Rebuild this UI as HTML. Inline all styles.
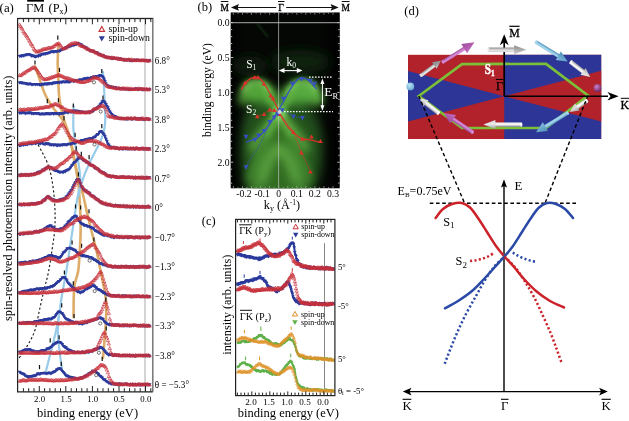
<!DOCTYPE html><html><head><meta charset="utf-8"><style>html,body{margin:0;padding:0;background:#fff;}svg{display:block;font-family:"Liberation Serif",serif;will-change:transform;}</style></head><body>
<svg width="629" height="421" viewBox="0 0 629 421">
<defs><marker id="mu" markerUnits="userSpaceOnUse" markerWidth="6" markerHeight="6" refX="3" refY="3" overflow="visible"><path d="M3,1.2 L4.7,4.1 L1.3,4.1 Z" fill="none" stroke="#c8303a" stroke-width="0.62"/></marker><marker id="md" markerUnits="userSpaceOnUse" markerWidth="6" markerHeight="6" refX="3" refY="3" overflow="visible"><path d="M1.2,2.0 L4.8,2.0 L3,5.1 Z" fill="#2b3a9c"/></marker><marker id="mo" markerUnits="userSpaceOnUse" markerWidth="6" markerHeight="6" refX="3" refY="3" overflow="visible"><path d="M3,1.6 L4.3,3.9 L1.7,3.9 Z" fill="none" stroke="#e0932a" stroke-width="0.55"/></marker><marker id="mg" markerUnits="userSpaceOnUse" markerWidth="6" markerHeight="6" refX="3" refY="3" overflow="visible"><path d="M1.7,2.0 L4.3,2.0 L3,4.3 Z" fill="#5fb04a"/></marker>
<filter id="blur2" filterUnits="userSpaceOnUse" x="0" y="0" width="629" height="421"><feGaussianBlur stdDeviation="2.5"/></filter>
<filter id="blur4" filterUnits="userSpaceOnUse" x="0" y="0" width="629" height="421"><feGaussianBlur stdDeviation="4"/></filter>
<filter id="blur6" filterUnits="userSpaceOnUse" x="0" y="0" width="629" height="421"><feGaussianBlur stdDeviation="6"/></filter>
<filter id="blur1" filterUnits="userSpaceOnUse" x="0" y="0" width="629" height="421"><feGaussianBlur stdDeviation="1"/></filter>
<clipPath id="clipb"><rect x="230.8" y="12.6" width="108.8" height="175.6"/></clipPath>
<clipPath id="clipd"><rect x="408" y="54.8" width="192.5" height="84.2"/></clipPath>
</defs>
<g id="pa">
<line x1="145" y1="19.5" x2="145" y2="390.8" stroke="#555" stroke-width="1" stroke-dasharray="1,1"/>
<path d="M58.4,44.0C58.3,45.8 58.0,51.5 57.9,55.0C57.8,58.5 57.6,60.8 57.7,65.0C57.8,69.2 58.1,75.0 58.3,80.0C58.5,85.0 58.6,90.8 59.0,95.0C59.4,99.2 59.9,101.8 60.5,105.0C61.1,108.2 61.9,111.3 62.5,114.0C63.1,116.7 63.3,117.8 64.3,121.0C65.3,124.2 67.1,128.9 68.3,133.2C69.5,137.4 70.6,142.1 71.6,146.5C72.6,150.9 73.3,155.6 74.1,159.8C74.9,164.1 75.8,167.8 76.5,172.0C77.2,176.2 78.0,181.2 78.5,185.0C79.0,188.8 79.0,190.2 79.3,195.0C79.6,199.8 80.2,207.7 80.4,214.0C80.6,220.3 80.7,226.7 80.6,233.0C80.5,239.3 80.1,245.7 79.7,252.0C79.3,258.3 79.0,265.8 78.2,271.0C77.4,276.2 75.7,279.0 75.0,283.0C74.3,287.0 74.0,289.3 73.8,295.0C73.6,300.7 73.6,313.3 73.6,317.0" fill="none" stroke="#dcac68" stroke-width="2.6" stroke-linecap="round"/>
<path d="M35.2,66.7C35.8,68.2 37.5,73.0 38.5,76.0C39.5,79.0 40.5,82.2 41.5,85.0C42.5,87.8 43.4,90.5 44.5,93.0C45.6,95.5 46.7,97.7 48.0,100.0C49.3,102.3 50.9,104.8 52.5,107.0C54.1,109.2 55.9,111.5 57.5,113.5C59.1,115.5 60.7,117.2 62.0,119.0C63.3,120.8 64.1,122.1 65.2,124.5C66.3,126.9 67.5,129.5 68.6,133.2C69.7,136.9 70.9,142.1 71.9,146.5C72.9,150.9 73.7,155.6 74.5,159.8C75.3,164.1 76.2,168.0 77.0,172.0C77.8,176.0 78.4,180.2 79.4,184.0C80.4,187.8 81.8,190.0 83.1,195.0C84.4,200.0 85.8,207.7 87.3,214.0C88.8,220.3 90.4,226.7 92.0,233.0C93.6,239.3 95.4,245.7 96.8,252.0C98.2,258.3 99.4,265.0 100.6,271.0C101.8,277.0 103.0,282.7 104.0,288.0C105.0,293.3 106.0,297.2 106.3,303.0C106.6,308.8 106.1,316.8 105.8,323.0C105.5,329.2 105.0,334.2 104.5,340.0C104.0,345.8 103.2,355.0 103.0,358.0" fill="none" stroke="#dcac68" stroke-width="2.6" stroke-linecap="round"/>
<path d="M103.0,72.0C103.2,74.7 103.7,83.2 104.0,88.0C104.3,92.8 104.4,96.0 104.6,101.0C104.8,106.0 105.3,113.5 105.3,118.0C105.3,122.5 105.2,124.3 104.5,128.0C103.8,131.7 102.6,136.0 101.0,140.0C99.4,144.0 97.0,148.0 95.0,152.0C93.0,156.0 90.8,160.0 89.0,164.0C87.2,168.0 85.4,172.2 84.0,176.0C82.6,179.8 81.4,183.7 80.5,187.0C79.6,190.3 78.8,194.5 78.5,196.0" fill="none" stroke="#98cbea" stroke-width="2.2" stroke-linecap="round"/>
<path d="M73.7,106.0C73.6,108.0 73.3,114.0 73.3,118.0C73.3,122.0 73.1,125.5 73.5,130.0C73.9,134.5 74.8,140.0 75.5,145.0C76.2,150.0 77.2,155.0 78.0,160.0C78.8,165.0 79.6,170.5 80.0,175.0C80.4,179.5 80.4,185.0 80.5,187.0" fill="none" stroke="#98cbea" stroke-width="2.2" stroke-linecap="round"/>
<path d="M79.5,188.0C79.2,189.7 78.2,193.7 77.4,198.0C76.6,202.3 75.8,208.2 74.9,214.0C74.0,219.8 73.0,226.7 72.1,233.0C71.1,239.3 70.2,245.7 69.2,252.0C68.2,258.3 67.6,263.8 66.4,271.0C65.2,278.2 63.2,287.7 62.0,295.0C60.8,302.3 60.1,308.7 59.0,315.0C57.9,321.3 57.1,326.2 55.6,332.7C54.1,339.2 51.9,347.6 50.3,354.0C48.7,360.4 46.7,368.2 46.0,371.0" fill="none" stroke="#98cbea" stroke-width="2.2" stroke-linecap="round"/>
<path d="M59.0,315.0C58.8,317.9 57.6,326.2 57.8,332.7C57.9,339.2 59.2,347.9 59.9,354.0C60.6,360.1 61.6,366.5 62.0,369.0" fill="none" stroke="#98cbea" stroke-width="2.2" stroke-linecap="round"/>
<path d="M36.0,141.0C37.0,142.8 40.2,148.5 42.0,152.0C43.8,155.5 45.5,158.2 47.0,162.0C48.5,165.8 49.8,169.5 51.0,175.0C52.2,180.5 53.3,188.3 54.0,195.0C54.7,201.7 55.0,208.8 55.1,215.0C55.2,221.2 55.0,226.2 54.5,232.0C54.0,237.8 53.0,243.3 52.0,250.0C51.0,256.7 49.8,265.3 48.5,272.0C47.2,278.7 45.5,283.7 44.0,290.0C42.5,296.3 41.0,303.3 39.5,310.0C38.0,316.7 36.8,324.5 35.0,330.0C33.2,335.5 31.0,339.3 29.0,343.0C27.0,346.7 24.8,349.2 23.0,352.0C21.2,354.8 19.1,358.2 18.3,359.5" fill="none" stroke="#111" stroke-width="1.1" stroke-dasharray="2.2,2.2"/>
<polyline points="19.5,56.0 20.4,55.7 21.4,56.1 22.3,55.3 23.3,55.7 24.2,55.3 25.2,54.7 26.1,54.9 27.1,54.2 28.0,54.5 29.0,54.2 29.9,54.5 30.9,55.1 31.8,55.9 32.8,55.4 33.7,55.8 34.7,56.3 35.6,56.7 36.6,56.1 37.6,55.7 38.5,56.1 39.5,54.8 40.4,55.4 41.4,54.4 42.3,54.0 43.3,53.8 44.2,53.7 45.2,54.0 46.1,53.1 47.1,53.2 48.0,53.1 49.0,52.5 49.9,52.5 50.9,51.7 51.8,51.5 52.8,51.4 53.7,51.8 54.7,51.3 55.6,51.1 56.6,51.3 57.5,51.0 58.5,50.7 59.4,51.0 60.4,50.5 61.3,49.5 62.3,49.4 63.2,48.8 64.2,48.7 65.1,48.1 66.1,47.1 67.0,47.5 68.0,46.2 68.9,46.3 69.9,46.4 70.8,45.5 71.8,45.6 72.7,44.7 73.7,45.1 74.6,44.7 75.6,44.1 76.5,44.2 77.5,43.3 78.4,43.7 79.4,43.8 80.3,44.2 81.3,44.6 82.2,45.7 83.2,46.5 84.1,46.5 85.1,47.3 86.0,47.2 87.0,48.5 87.9,49.0 88.9,49.9 89.8,50.3 90.8,50.1 91.7,50.7 92.7,51.4 93.6,51.1 94.6,51.9 95.5,52.0 96.5,52.3 97.4,52.7 98.4,53.9 99.3,53.7 100.3,54.4 101.2,55.0 102.2,56.0 103.1,55.4 104.1,56.2 105.0,56.5 106.0,57.1 106.9,57.3 107.9,57.5 108.8,57.1 109.8,57.4 110.7,57.5 111.7,58.3 112.6,58.5 113.6,57.8 114.5,57.9 115.5,58.1 116.4,58.3 117.4,58.7 118.3,58.9 119.3,58.7 120.2,58.5 121.2,59.1 122.1,59.2 123.1,59.5 124.0,60.0 125.0,59.8 125.9,59.7 126.9,59.9 127.8,60.0 128.8,59.4 129.7,60.4 130.7,60.3 131.6,60.5 132.6,60.5 133.5,60.1 134.5,60.1 135.4,59.8 136.4,60.4 137.3,59.8 138.3,59.9 139.2,60.0 140.2,60.0 141.1,60.2 142.1,59.9 143.0,59.9 144.0,60.1 144.9,60.0 145.9,60.4 146.8,60.0 147.8,61.0 148.7,60.7 149.7,60.2" fill="none" stroke="#2b3a9c" stroke-width="2.00" stroke-linejoin="round"/>
<polyline points="19.5,56.0 20.4,55.7 21.4,56.1 22.3,55.3 23.3,55.7 24.2,55.3 25.2,54.7 26.1,54.9 27.1,54.2 28.0,54.5 29.0,54.2 29.9,54.5 30.9,55.1 31.8,55.9 32.8,55.4 33.7,55.8 34.7,56.3 35.6,56.7 36.6,56.1 37.6,55.7 38.5,56.1 39.5,54.8 40.4,55.4 41.4,54.4 42.3,54.0 43.3,53.8 44.2,53.7 45.2,54.0 46.1,53.1 47.1,53.2 48.0,53.1 49.0,52.5 49.9,52.5 50.9,51.7 51.8,51.5 52.8,51.4 53.7,51.8 54.7,51.3 55.6,51.1 56.6,51.3 57.5,51.0 58.5,50.7 59.4,51.0 60.4,50.5 61.3,49.5 62.3,49.4 63.2,48.8 64.2,48.7 65.1,48.1 66.1,47.1 67.0,47.5 68.0,46.2 68.9,46.3 69.9,46.4 70.8,45.5 71.8,45.6 72.7,44.7 73.7,45.1 74.6,44.7 75.6,44.1 76.5,44.2 77.5,43.3 78.4,43.7 79.4,43.8 80.3,44.2 81.3,44.6 82.2,45.7 83.2,46.5 84.1,46.5 85.1,47.3 86.0,47.2 87.0,48.5 87.9,49.0 88.9,49.9 89.8,50.3 90.8,50.1 91.7,50.7 92.7,51.4 93.6,51.1 94.6,51.9 95.5,52.0 96.5,52.3 97.4,52.7 98.4,53.9 99.3,53.7 100.3,54.4 101.2,55.0 102.2,56.0 103.1,55.4 104.1,56.2 105.0,56.5 106.0,57.1 106.9,57.3 107.9,57.5 108.8,57.1 109.8,57.4 110.7,57.5 111.7,58.3 112.6,58.5 113.6,57.8 114.5,57.9 115.5,58.1 116.4,58.3 117.4,58.7 118.3,58.9 119.3,58.7 120.2,58.5 121.2,59.1 122.1,59.2 123.1,59.5 124.0,60.0 125.0,59.8 125.9,59.7 126.9,59.9 127.8,60.0 128.8,59.4 129.7,60.4 130.7,60.3 131.6,60.5 132.6,60.5 133.5,60.1 134.5,60.1 135.4,59.8 136.4,60.4 137.3,59.8 138.3,59.9 139.2,60.0 140.2,60.0 141.1,60.2 142.1,59.9 143.0,59.9 144.0,60.1 144.9,60.0 145.9,60.4 146.8,60.0 147.8,61.0 148.7,60.7 149.7,60.2" fill="none" marker-mid="url(#md)" marker-start="url(#md)" marker-end="url(#md)" stroke="none"/>
<polyline points="19.5,24.7 20.4,26.3 21.4,27.8 22.3,29.0 23.3,31.3 24.2,32.9 25.2,33.9 26.1,35.5 27.1,36.7 28.0,38.3 29.0,40.2 29.9,41.7 30.9,43.9 31.8,44.8 32.8,46.3 33.7,48.9 34.7,50.0 35.6,50.8 36.6,52.1 37.6,51.5 38.5,51.3 39.5,51.1 40.4,50.7 41.4,50.3 42.3,49.5 43.3,49.4 44.2,48.9 45.2,49.3 46.1,48.7 47.1,48.8 48.0,48.0 49.0,47.7 49.9,48.0 50.9,47.9 51.8,47.5 52.8,47.0 53.7,46.5 54.7,45.8 55.6,44.6 56.6,44.4 57.5,43.8 58.5,43.4 59.4,43.9 60.4,45.3 61.3,46.7 62.3,48.3 63.2,48.9 64.2,48.2 65.1,48.3 66.1,47.7 67.0,47.0 68.0,45.9 68.9,45.2 69.9,44.7 70.8,44.1 71.8,43.6 72.7,43.5 73.7,43.5 74.6,43.2 75.6,42.8 76.5,43.2 77.5,43.7 78.4,43.4 79.4,44.6 80.3,45.5 81.3,45.9 82.2,46.4 83.2,46.5 84.1,46.7 85.1,47.8 86.0,47.8 87.0,48.8 87.9,49.5 88.9,49.3 89.8,49.8 90.8,50.8 91.7,51.0 92.7,50.8 93.6,51.2 94.6,51.6 95.5,52.8 96.5,53.1 97.4,52.8 98.4,54.0 99.3,54.7 100.3,54.8 101.2,55.0 102.2,55.6 103.1,55.5 104.1,55.7 105.0,57.0 106.0,56.9 106.9,57.0 107.9,57.6 108.8,57.3 109.8,57.9 110.7,58.0 111.7,57.5 112.6,57.7 113.6,57.9 114.5,58.0 115.5,58.5 116.4,58.3 117.4,58.6 118.3,58.4 119.3,59.4 120.2,58.9 121.2,59.1 122.1,59.4 123.1,59.9 124.0,59.4 125.0,60.1 125.9,59.7 126.9,59.8 127.8,59.9 128.8,59.4 129.7,59.9 130.7,59.7 131.6,59.5 132.6,60.5 133.5,59.8 134.5,60.2 135.4,60.5 136.4,60.3 137.3,60.1 138.3,60.4 139.2,60.4 140.2,60.7 141.1,60.0 142.1,60.5 143.0,60.2 144.0,60.2 144.9,60.8 145.9,60.5 146.8,60.6 147.8,60.8 148.7,61.0 149.7,60.5" fill="none" stroke="#c8303a" stroke-width="1.00" stroke-opacity="0.25" stroke-linejoin="round"/>
<polyline points="19.5,24.7 20.4,26.3 21.4,27.8 22.3,29.0 23.3,31.3 24.2,32.9 25.2,33.9 26.1,35.5 27.1,36.7 28.0,38.3 29.0,40.2 29.9,41.7 30.9,43.9 31.8,44.8 32.8,46.3 33.7,48.9 34.7,50.0 35.6,50.8 36.6,52.1 37.6,51.5 38.5,51.3 39.5,51.1 40.4,50.7 41.4,50.3 42.3,49.5 43.3,49.4 44.2,48.9 45.2,49.3 46.1,48.7 47.1,48.8 48.0,48.0 49.0,47.7 49.9,48.0 50.9,47.9 51.8,47.5 52.8,47.0 53.7,46.5 54.7,45.8 55.6,44.6 56.6,44.4 57.5,43.8 58.5,43.4 59.4,43.9 60.4,45.3 61.3,46.7 62.3,48.3 63.2,48.9 64.2,48.2 65.1,48.3 66.1,47.7 67.0,47.0 68.0,45.9 68.9,45.2 69.9,44.7 70.8,44.1 71.8,43.6 72.7,43.5 73.7,43.5 74.6,43.2 75.6,42.8 76.5,43.2 77.5,43.7 78.4,43.4 79.4,44.6 80.3,45.5 81.3,45.9 82.2,46.4 83.2,46.5 84.1,46.7 85.1,47.8 86.0,47.8 87.0,48.8 87.9,49.5 88.9,49.3 89.8,49.8 90.8,50.8 91.7,51.0 92.7,50.8 93.6,51.2 94.6,51.6 95.5,52.8 96.5,53.1 97.4,52.8 98.4,54.0 99.3,54.7 100.3,54.8 101.2,55.0 102.2,55.6 103.1,55.5 104.1,55.7 105.0,57.0 106.0,56.9 106.9,57.0 107.9,57.6 108.8,57.3 109.8,57.9 110.7,58.0 111.7,57.5 112.6,57.7 113.6,57.9 114.5,58.0 115.5,58.5 116.4,58.3 117.4,58.6 118.3,58.4 119.3,59.4 120.2,58.9 121.2,59.1 122.1,59.4 123.1,59.9 124.0,59.4 125.0,60.1 125.9,59.7 126.9,59.8 127.8,59.9 128.8,59.4 129.7,59.9 130.7,59.7 131.6,59.5 132.6,60.5 133.5,59.8 134.5,60.2 135.4,60.5 136.4,60.3 137.3,60.1 138.3,60.4 139.2,60.4 140.2,60.7 141.1,60.0 142.1,60.5 143.0,60.2 144.0,60.2 144.9,60.8 145.9,60.5 146.8,60.6 147.8,60.8 148.7,61.0 149.7,60.5" fill="none" marker-mid="url(#mu)" marker-start="url(#mu)" marker-end="url(#mu)" stroke="none"/>
<polyline points="19.5,82.4 20.4,82.4 21.4,82.6 22.3,82.9 23.3,82.8 24.2,83.0 25.2,83.1 26.1,83.7 27.1,83.6 28.0,83.9 29.0,84.1 29.9,83.5 30.9,84.0 31.8,84.5 32.8,84.5 33.7,83.9 34.7,84.0 35.6,84.4 36.6,84.0 37.6,84.2 38.5,84.0 39.5,84.6 40.4,84.7 41.4,84.7 42.3,83.8 43.3,84.3 44.2,84.1 45.2,83.4 46.1,84.1 47.1,84.1 48.0,83.2 49.0,83.9 49.9,83.2 50.9,83.2 51.8,83.6 52.8,83.4 53.7,82.5 54.7,82.7 55.6,82.7 56.6,82.4 57.5,82.2 58.5,82.2 59.4,82.6 60.4,81.7 61.3,82.2 62.3,82.0 63.2,81.4 64.2,81.7 65.1,81.9 66.1,81.7 67.0,81.1 68.0,82.0 68.9,81.7 69.9,81.8 70.8,80.8 71.8,80.9 72.7,80.5 73.7,81.3 74.6,80.6 75.6,80.3 76.5,80.5 77.5,80.9 78.4,80.7 79.4,79.8 80.3,79.5 81.3,80.1 82.2,79.5 83.2,79.4 84.1,78.5 85.1,78.3 86.0,78.8 87.0,78.4 87.9,77.8 88.9,78.6 89.8,78.1 90.8,78.1 91.7,77.1 92.7,77.7 93.6,76.6 94.6,77.2 95.5,76.6 96.5,76.2 97.4,76.2 98.4,76.3 99.3,75.4 100.3,75.1 101.2,75.8 102.2,76.0 103.1,77.0 104.1,78.7 105.0,81.2 106.0,83.6 106.9,84.9 107.9,85.5 108.8,86.4 109.8,86.2 110.7,86.8 111.7,86.7 112.6,87.1 113.6,87.0 114.5,87.4 115.5,87.3 116.4,88.2 117.4,88.2 118.3,87.9 119.3,88.4 120.2,89.0 121.2,88.1 122.1,89.0 123.1,88.6 124.0,88.7 125.0,89.2 125.9,88.7 126.9,88.9 127.8,89.1 128.8,89.5 129.7,88.8 130.7,89.4 131.6,89.2 132.6,89.2 133.5,89.0 134.5,88.9 135.4,88.6 136.4,88.7 137.3,88.7 138.3,89.4 139.2,88.9 140.2,88.8 141.1,88.8 142.1,89.6 143.0,89.7 144.0,89.5 144.9,89.1 145.9,89.0 146.8,89.1 147.8,89.3 148.7,89.0 149.7,89.3" fill="none" stroke="#2b3a9c" stroke-width="2.00" stroke-linejoin="round"/>
<polyline points="19.5,82.4 20.4,82.4 21.4,82.6 22.3,82.9 23.3,82.8 24.2,83.0 25.2,83.1 26.1,83.7 27.1,83.6 28.0,83.9 29.0,84.1 29.9,83.5 30.9,84.0 31.8,84.5 32.8,84.5 33.7,83.9 34.7,84.0 35.6,84.4 36.6,84.0 37.6,84.2 38.5,84.0 39.5,84.6 40.4,84.7 41.4,84.7 42.3,83.8 43.3,84.3 44.2,84.1 45.2,83.4 46.1,84.1 47.1,84.1 48.0,83.2 49.0,83.9 49.9,83.2 50.9,83.2 51.8,83.6 52.8,83.4 53.7,82.5 54.7,82.7 55.6,82.7 56.6,82.4 57.5,82.2 58.5,82.2 59.4,82.6 60.4,81.7 61.3,82.2 62.3,82.0 63.2,81.4 64.2,81.7 65.1,81.9 66.1,81.7 67.0,81.1 68.0,82.0 68.9,81.7 69.9,81.8 70.8,80.8 71.8,80.9 72.7,80.5 73.7,81.3 74.6,80.6 75.6,80.3 76.5,80.5 77.5,80.9 78.4,80.7 79.4,79.8 80.3,79.5 81.3,80.1 82.2,79.5 83.2,79.4 84.1,78.5 85.1,78.3 86.0,78.8 87.0,78.4 87.9,77.8 88.9,78.6 89.8,78.1 90.8,78.1 91.7,77.1 92.7,77.7 93.6,76.6 94.6,77.2 95.5,76.6 96.5,76.2 97.4,76.2 98.4,76.3 99.3,75.4 100.3,75.1 101.2,75.8 102.2,76.0 103.1,77.0 104.1,78.7 105.0,81.2 106.0,83.6 106.9,84.9 107.9,85.5 108.8,86.4 109.8,86.2 110.7,86.8 111.7,86.7 112.6,87.1 113.6,87.0 114.5,87.4 115.5,87.3 116.4,88.2 117.4,88.2 118.3,87.9 119.3,88.4 120.2,89.0 121.2,88.1 122.1,89.0 123.1,88.6 124.0,88.7 125.0,89.2 125.9,88.7 126.9,88.9 127.8,89.1 128.8,89.5 129.7,88.8 130.7,89.4 131.6,89.2 132.6,89.2 133.5,89.0 134.5,88.9 135.4,88.6 136.4,88.7 137.3,88.7 138.3,89.4 139.2,88.9 140.2,88.8 141.1,88.8 142.1,89.6 143.0,89.7 144.0,89.5 144.9,89.1 145.9,89.0 146.8,89.1 147.8,89.3 148.7,89.0 149.7,89.3" fill="none" marker-mid="url(#md)" marker-start="url(#md)" marker-end="url(#md)" stroke="none"/>
<polyline points="19.5,75.3 20.4,75.6 21.4,75.1 22.3,74.1 23.3,73.2 24.2,73.5 25.2,72.2 26.1,71.8 27.1,70.8 28.0,70.6 29.0,70.1 29.9,69.5 30.9,68.6 31.8,68.4 32.8,67.5 33.7,67.5 34.7,67.5 35.6,68.5 36.6,69.5 37.6,70.9 38.5,72.4 39.5,73.6 40.4,75.3 41.4,76.6 42.3,77.9 43.3,78.7 44.2,79.3 45.2,79.6 46.1,79.0 47.1,78.8 48.0,79.2 49.0,78.0 49.9,78.3 50.9,77.9 51.8,76.9 52.8,77.3 53.7,76.9 54.7,76.3 55.6,76.1 56.6,75.9 57.5,74.9 58.5,75.1 59.4,75.1 60.4,75.7 61.3,76.0 62.3,76.5 63.2,76.7 64.2,77.5 65.1,77.7 66.1,78.2 67.0,78.1 68.0,78.2 68.9,78.6 69.9,79.2 70.8,79.1 71.8,80.2 72.7,80.1 73.7,80.4 74.6,80.6 75.6,80.9 76.5,80.9 77.5,80.6 78.4,81.7 79.4,81.9 80.3,81.9 81.3,82.1 82.2,82.4 83.2,81.8 84.1,82.5 85.1,81.8 86.0,81.4 87.0,81.2 87.9,81.3 88.9,80.2 89.8,80.4 90.8,80.1 91.7,78.9 92.7,78.1 93.6,77.6 94.6,77.6 95.5,77.8 96.5,77.9 97.4,78.3 98.4,78.3 99.3,79.0 100.3,79.7 101.2,80.9 102.2,81.1 103.1,82.3 104.1,82.7 105.0,83.8 106.0,84.9 106.9,86.1 107.9,86.6 108.8,87.0 109.8,86.9 110.7,87.4 111.7,87.5 112.6,87.7 113.6,87.4 114.5,88.4 115.5,87.7 116.4,88.7 117.4,88.7 118.3,87.7 119.3,88.3 120.2,88.7 121.2,89.0 122.1,88.5 123.1,88.3 124.0,88.3 125.0,89.2 125.9,88.4 126.9,88.8 127.8,88.4 128.8,88.8 129.7,89.4 130.7,88.5 131.6,89.3 132.6,89.0 133.5,89.4 134.5,89.2 135.4,88.7 136.4,89.5 137.3,89.1 138.3,88.6 139.2,88.6 140.2,89.1 141.1,89.1 142.1,89.0 143.0,88.8 144.0,89.1 144.9,89.1 145.9,89.7 146.8,88.8 147.8,89.6 148.7,89.7 149.7,89.0" fill="none" stroke="#c8303a" stroke-width="1.00" stroke-opacity="0.25" stroke-linejoin="round"/>
<polyline points="19.5,75.3 20.4,75.6 21.4,75.1 22.3,74.1 23.3,73.2 24.2,73.5 25.2,72.2 26.1,71.8 27.1,70.8 28.0,70.6 29.0,70.1 29.9,69.5 30.9,68.6 31.8,68.4 32.8,67.5 33.7,67.5 34.7,67.5 35.6,68.5 36.6,69.5 37.6,70.9 38.5,72.4 39.5,73.6 40.4,75.3 41.4,76.6 42.3,77.9 43.3,78.7 44.2,79.3 45.2,79.6 46.1,79.0 47.1,78.8 48.0,79.2 49.0,78.0 49.9,78.3 50.9,77.9 51.8,76.9 52.8,77.3 53.7,76.9 54.7,76.3 55.6,76.1 56.6,75.9 57.5,74.9 58.5,75.1 59.4,75.1 60.4,75.7 61.3,76.0 62.3,76.5 63.2,76.7 64.2,77.5 65.1,77.7 66.1,78.2 67.0,78.1 68.0,78.2 68.9,78.6 69.9,79.2 70.8,79.1 71.8,80.2 72.7,80.1 73.7,80.4 74.6,80.6 75.6,80.9 76.5,80.9 77.5,80.6 78.4,81.7 79.4,81.9 80.3,81.9 81.3,82.1 82.2,82.4 83.2,81.8 84.1,82.5 85.1,81.8 86.0,81.4 87.0,81.2 87.9,81.3 88.9,80.2 89.8,80.4 90.8,80.1 91.7,78.9 92.7,78.1 93.6,77.6 94.6,77.6 95.5,77.8 96.5,77.9 97.4,78.3 98.4,78.3 99.3,79.0 100.3,79.7 101.2,80.9 102.2,81.1 103.1,82.3 104.1,82.7 105.0,83.8 106.0,84.9 106.9,86.1 107.9,86.6 108.8,87.0 109.8,86.9 110.7,87.4 111.7,87.5 112.6,87.7 113.6,87.4 114.5,88.4 115.5,87.7 116.4,88.7 117.4,88.7 118.3,87.7 119.3,88.3 120.2,88.7 121.2,89.0 122.1,88.5 123.1,88.3 124.0,88.3 125.0,89.2 125.9,88.4 126.9,88.8 127.8,88.4 128.8,88.8 129.7,89.4 130.7,88.5 131.6,89.3 132.6,89.0 133.5,89.4 134.5,89.2 135.4,88.7 136.4,89.5 137.3,89.1 138.3,88.6 139.2,88.6 140.2,89.1 141.1,89.1 142.1,89.0 143.0,88.8 144.0,89.1 144.9,89.1 145.9,89.7 146.8,88.8 147.8,89.6 148.7,89.7 149.7,89.0" fill="none" marker-mid="url(#mu)" marker-start="url(#mu)" marker-end="url(#mu)" stroke="none"/>
<polyline points="19.5,112.8 20.4,112.6 21.4,112.9 22.3,112.3 23.3,112.4 24.2,112.5 25.2,113.3 26.1,112.9 27.1,112.7 28.0,112.8 29.0,112.7 29.9,112.6 30.9,112.7 31.8,113.5 32.8,113.0 33.7,113.7 34.7,113.0 35.6,113.1 36.6,113.4 37.6,113.1 38.5,113.3 39.5,114.0 40.4,113.9 41.4,113.8 42.3,113.6 43.3,114.0 44.2,114.0 45.2,113.6 46.1,113.8 47.1,113.0 48.0,113.8 49.0,113.5 49.9,113.8 50.9,113.7 51.8,113.3 52.8,113.0 53.7,114.0 54.7,113.1 55.6,113.5 56.6,113.3 57.5,113.2 58.5,113.7 59.4,113.9 60.4,113.1 61.3,113.5 62.3,113.0 63.2,113.2 64.2,112.8 65.1,112.3 66.1,112.1 67.0,112.0 68.0,112.6 68.9,111.9 69.9,111.4 70.8,111.9 71.8,111.9 72.7,111.2 73.7,110.8 74.6,110.8 75.6,110.7 76.5,111.1 77.5,110.8 78.4,111.1 79.4,111.2 80.3,111.6 81.3,112.0 82.2,112.0 83.2,111.8 84.1,111.9 85.1,112.1 86.0,112.1 87.0,112.1 87.9,111.8 88.9,112.0 89.8,112.6 90.8,111.3 91.7,111.2 92.7,110.8 93.6,110.6 94.6,109.4 95.5,108.9 96.5,108.3 97.4,107.7 98.4,106.6 99.3,105.8 100.3,104.3 101.2,103.2 102.2,101.4 103.1,100.8 104.1,101.4 105.0,102.6 106.0,103.9 106.9,105.9 107.9,107.3 108.8,109.4 109.8,111.4 110.7,112.7 111.7,114.0 112.6,115.3 113.6,115.7 114.5,116.1 115.5,116.5 116.4,117.2 117.4,117.7 118.3,118.2 119.3,118.1 120.2,118.2 121.2,118.5 122.1,118.2 123.1,118.4 124.0,117.9 125.0,118.8 125.9,118.3 126.9,119.1 127.8,118.8 128.8,118.4 129.7,118.3 130.7,118.4 131.6,118.9 132.6,119.0 133.5,118.4 134.5,118.3 135.4,118.8 136.4,118.9 137.3,118.7 138.3,118.6 139.2,119.0 140.2,118.3 141.1,118.7 142.1,118.9 143.0,119.4 144.0,119.1 144.9,119.4 145.9,118.9 146.8,118.7 147.8,118.7 148.7,119.5 149.7,119.2" fill="none" stroke="#2b3a9c" stroke-width="2.00" stroke-linejoin="round"/>
<polyline points="19.5,112.8 20.4,112.6 21.4,112.9 22.3,112.3 23.3,112.4 24.2,112.5 25.2,113.3 26.1,112.9 27.1,112.7 28.0,112.8 29.0,112.7 29.9,112.6 30.9,112.7 31.8,113.5 32.8,113.0 33.7,113.7 34.7,113.0 35.6,113.1 36.6,113.4 37.6,113.1 38.5,113.3 39.5,114.0 40.4,113.9 41.4,113.8 42.3,113.6 43.3,114.0 44.2,114.0 45.2,113.6 46.1,113.8 47.1,113.0 48.0,113.8 49.0,113.5 49.9,113.8 50.9,113.7 51.8,113.3 52.8,113.0 53.7,114.0 54.7,113.1 55.6,113.5 56.6,113.3 57.5,113.2 58.5,113.7 59.4,113.9 60.4,113.1 61.3,113.5 62.3,113.0 63.2,113.2 64.2,112.8 65.1,112.3 66.1,112.1 67.0,112.0 68.0,112.6 68.9,111.9 69.9,111.4 70.8,111.9 71.8,111.9 72.7,111.2 73.7,110.8 74.6,110.8 75.6,110.7 76.5,111.1 77.5,110.8 78.4,111.1 79.4,111.2 80.3,111.6 81.3,112.0 82.2,112.0 83.2,111.8 84.1,111.9 85.1,112.1 86.0,112.1 87.0,112.1 87.9,111.8 88.9,112.0 89.8,112.6 90.8,111.3 91.7,111.2 92.7,110.8 93.6,110.6 94.6,109.4 95.5,108.9 96.5,108.3 97.4,107.7 98.4,106.6 99.3,105.8 100.3,104.3 101.2,103.2 102.2,101.4 103.1,100.8 104.1,101.4 105.0,102.6 106.0,103.9 106.9,105.9 107.9,107.3 108.8,109.4 109.8,111.4 110.7,112.7 111.7,114.0 112.6,115.3 113.6,115.7 114.5,116.1 115.5,116.5 116.4,117.2 117.4,117.7 118.3,118.2 119.3,118.1 120.2,118.2 121.2,118.5 122.1,118.2 123.1,118.4 124.0,117.9 125.0,118.8 125.9,118.3 126.9,119.1 127.8,118.8 128.8,118.4 129.7,118.3 130.7,118.4 131.6,118.9 132.6,119.0 133.5,118.4 134.5,118.3 135.4,118.8 136.4,118.9 137.3,118.7 138.3,118.6 139.2,119.0 140.2,118.3 141.1,118.7 142.1,118.9 143.0,119.4 144.0,119.1 144.9,119.4 145.9,118.9 146.8,118.7 147.8,118.7 148.7,119.5 149.7,119.2" fill="none" marker-mid="url(#md)" marker-start="url(#md)" marker-end="url(#md)" stroke="none"/>
<polyline points="19.5,109.8 20.4,109.4 21.4,109.9 22.3,110.0 23.3,109.6 24.2,109.4 25.2,109.8 26.1,110.0 27.1,109.2 28.0,108.9 29.0,109.1 29.9,109.2 30.9,109.4 31.8,108.8 32.8,109.3 33.7,109.2 34.7,108.8 35.6,108.3 36.6,109.1 37.6,108.2 38.5,108.6 39.5,107.8 40.4,107.6 41.4,108.1 42.3,107.5 43.3,108.0 44.2,107.4 45.2,106.9 46.1,106.8 47.1,106.9 48.0,107.0 49.0,107.1 49.9,105.9 50.9,105.7 51.8,105.1 52.8,105.6 53.7,104.4 54.7,104.1 55.6,104.0 56.6,104.3 57.5,105.0 58.5,105.3 59.4,105.7 60.4,106.6 61.3,107.2 62.3,107.2 63.2,107.7 64.2,109.3 65.1,109.7 66.1,109.4 67.0,110.5 68.0,110.5 68.9,110.7 69.9,110.9 70.8,110.9 71.8,110.9 72.7,111.4 73.7,111.7 74.6,112.5 75.6,111.8 76.5,112.8 77.5,112.0 78.4,112.2 79.4,112.7 80.3,112.8 81.3,112.4 82.2,112.0 83.2,112.5 84.1,112.4 85.1,113.0 86.0,112.1 87.0,112.3 87.9,112.8 88.9,111.7 89.8,111.9 90.8,111.9 91.7,111.2 92.7,109.7 93.6,109.2 94.6,108.7 95.5,109.2 96.5,108.0 97.4,108.1 98.4,107.8 99.3,106.6 100.3,106.1 101.2,106.4 102.2,105.7 103.1,105.4 104.1,106.6 105.0,107.7 106.0,109.7 106.9,112.0 107.9,115.1 108.8,116.3 109.8,116.5 110.7,117.1 111.7,116.4 112.6,116.8 113.6,117.2 114.5,117.9 115.5,118.1 116.4,117.7 117.4,117.7 118.3,118.0 119.3,118.2 120.2,118.7 121.2,117.9 122.1,118.6 123.1,118.6 124.0,118.7 125.0,118.7 125.9,118.6 126.9,118.3 127.8,118.3 128.8,118.4 129.7,118.9 130.7,118.1 131.6,118.3 132.6,118.9 133.5,118.4 134.5,118.2 135.4,118.2 136.4,118.8 137.3,118.5 138.3,119.3 139.2,119.2 140.2,119.3 141.1,118.5 142.1,118.4 143.0,118.4 144.0,118.9 144.9,119.1 145.9,118.8 146.8,118.6 147.8,118.9 148.7,119.1 149.7,119.2" fill="none" stroke="#c8303a" stroke-width="1.00" stroke-opacity="0.25" stroke-linejoin="round"/>
<polyline points="19.5,109.8 20.4,109.4 21.4,109.9 22.3,110.0 23.3,109.6 24.2,109.4 25.2,109.8 26.1,110.0 27.1,109.2 28.0,108.9 29.0,109.1 29.9,109.2 30.9,109.4 31.8,108.8 32.8,109.3 33.7,109.2 34.7,108.8 35.6,108.3 36.6,109.1 37.6,108.2 38.5,108.6 39.5,107.8 40.4,107.6 41.4,108.1 42.3,107.5 43.3,108.0 44.2,107.4 45.2,106.9 46.1,106.8 47.1,106.9 48.0,107.0 49.0,107.1 49.9,105.9 50.9,105.7 51.8,105.1 52.8,105.6 53.7,104.4 54.7,104.1 55.6,104.0 56.6,104.3 57.5,105.0 58.5,105.3 59.4,105.7 60.4,106.6 61.3,107.2 62.3,107.2 63.2,107.7 64.2,109.3 65.1,109.7 66.1,109.4 67.0,110.5 68.0,110.5 68.9,110.7 69.9,110.9 70.8,110.9 71.8,110.9 72.7,111.4 73.7,111.7 74.6,112.5 75.6,111.8 76.5,112.8 77.5,112.0 78.4,112.2 79.4,112.7 80.3,112.8 81.3,112.4 82.2,112.0 83.2,112.5 84.1,112.4 85.1,113.0 86.0,112.1 87.0,112.3 87.9,112.8 88.9,111.7 89.8,111.9 90.8,111.9 91.7,111.2 92.7,109.7 93.6,109.2 94.6,108.7 95.5,109.2 96.5,108.0 97.4,108.1 98.4,107.8 99.3,106.6 100.3,106.1 101.2,106.4 102.2,105.7 103.1,105.4 104.1,106.6 105.0,107.7 106.0,109.7 106.9,112.0 107.9,115.1 108.8,116.3 109.8,116.5 110.7,117.1 111.7,116.4 112.6,116.8 113.6,117.2 114.5,117.9 115.5,118.1 116.4,117.7 117.4,117.7 118.3,118.0 119.3,118.2 120.2,118.7 121.2,117.9 122.1,118.6 123.1,118.6 124.0,118.7 125.0,118.7 125.9,118.6 126.9,118.3 127.8,118.3 128.8,118.4 129.7,118.9 130.7,118.1 131.6,118.3 132.6,118.9 133.5,118.4 134.5,118.2 135.4,118.2 136.4,118.8 137.3,118.5 138.3,119.3 139.2,119.2 140.2,119.3 141.1,118.5 142.1,118.4 143.0,118.4 144.0,118.9 144.9,119.1 145.9,118.8 146.8,118.6 147.8,118.9 148.7,119.1 149.7,119.2" fill="none" marker-mid="url(#mu)" marker-start="url(#mu)" marker-end="url(#mu)" stroke="none"/>
<polyline points="19.5,145.3 20.4,145.3 21.4,145.0 22.3,144.3 23.3,144.9 24.2,144.2 25.2,144.4 26.1,144.1 27.1,144.4 28.0,143.7 29.0,143.6 29.9,143.4 30.9,143.2 31.8,143.8 32.8,143.3 33.7,142.9 34.7,142.8 35.6,143.4 36.6,142.8 37.6,142.5 38.5,143.2 39.5,143.1 40.4,143.5 41.4,142.7 42.3,143.2 43.3,143.7 44.2,143.9 45.2,144.1 46.1,143.3 47.1,143.7 48.0,143.6 49.0,143.8 49.9,144.7 50.9,144.4 51.8,144.9 52.8,144.4 53.7,145.0 54.7,144.7 55.6,144.6 56.6,145.2 57.5,145.4 58.5,144.6 59.4,145.1 60.4,145.1 61.3,144.7 62.3,144.8 63.2,144.5 64.2,144.5 65.1,144.4 66.1,144.7 67.0,144.7 68.0,144.0 68.9,143.7 69.9,143.9 70.8,144.1 71.8,143.3 72.7,143.2 73.7,142.8 74.6,143.2 75.6,142.6 76.5,141.8 77.5,141.5 78.4,141.6 79.4,141.4 80.3,141.2 81.3,140.3 82.2,140.1 83.2,140.4 84.1,139.9 85.1,139.5 86.0,139.3 87.0,139.8 87.9,138.8 88.9,138.9 89.8,138.4 90.8,138.3 91.7,138.5 92.7,138.4 93.6,137.3 94.6,136.7 95.5,136.6 96.5,135.2 97.4,134.0 98.4,134.1 99.3,132.2 100.3,131.5 101.2,131.0 102.2,132.5 103.1,133.3 104.1,134.5 105.0,136.3 106.0,138.8 106.9,141.0 107.9,143.7 108.8,144.7 109.8,146.5 110.7,146.8 111.7,147.3 112.6,147.1 113.6,147.4 114.5,147.8 115.5,148.3 116.4,147.6 117.4,148.1 118.3,148.5 119.3,148.8 120.2,148.0 121.2,148.0 122.1,148.9 123.1,149.0 124.0,148.5 125.0,148.0 125.9,149.0 126.9,148.4 127.8,149.0 128.8,148.7 129.7,149.0 130.7,148.2 131.6,148.9 132.6,148.3 133.5,148.5 134.5,149.0 135.4,149.0 136.4,148.3 137.3,148.4 138.3,148.6 139.2,148.7 140.2,148.6 141.1,148.3 142.1,148.5 143.0,149.0 144.0,149.2 144.9,148.2 145.9,148.8 146.8,149.1 147.8,148.3 148.7,149.2 149.7,148.4" fill="none" stroke="#2b3a9c" stroke-width="2.00" stroke-linejoin="round"/>
<polyline points="19.5,145.3 20.4,145.3 21.4,145.0 22.3,144.3 23.3,144.9 24.2,144.2 25.2,144.4 26.1,144.1 27.1,144.4 28.0,143.7 29.0,143.6 29.9,143.4 30.9,143.2 31.8,143.8 32.8,143.3 33.7,142.9 34.7,142.8 35.6,143.4 36.6,142.8 37.6,142.5 38.5,143.2 39.5,143.1 40.4,143.5 41.4,142.7 42.3,143.2 43.3,143.7 44.2,143.9 45.2,144.1 46.1,143.3 47.1,143.7 48.0,143.6 49.0,143.8 49.9,144.7 50.9,144.4 51.8,144.9 52.8,144.4 53.7,145.0 54.7,144.7 55.6,144.6 56.6,145.2 57.5,145.4 58.5,144.6 59.4,145.1 60.4,145.1 61.3,144.7 62.3,144.8 63.2,144.5 64.2,144.5 65.1,144.4 66.1,144.7 67.0,144.7 68.0,144.0 68.9,143.7 69.9,143.9 70.8,144.1 71.8,143.3 72.7,143.2 73.7,142.8 74.6,143.2 75.6,142.6 76.5,141.8 77.5,141.5 78.4,141.6 79.4,141.4 80.3,141.2 81.3,140.3 82.2,140.1 83.2,140.4 84.1,139.9 85.1,139.5 86.0,139.3 87.0,139.8 87.9,138.8 88.9,138.9 89.8,138.4 90.8,138.3 91.7,138.5 92.7,138.4 93.6,137.3 94.6,136.7 95.5,136.6 96.5,135.2 97.4,134.0 98.4,134.1 99.3,132.2 100.3,131.5 101.2,131.0 102.2,132.5 103.1,133.3 104.1,134.5 105.0,136.3 106.0,138.8 106.9,141.0 107.9,143.7 108.8,144.7 109.8,146.5 110.7,146.8 111.7,147.3 112.6,147.1 113.6,147.4 114.5,147.8 115.5,148.3 116.4,147.6 117.4,148.1 118.3,148.5 119.3,148.8 120.2,148.0 121.2,148.0 122.1,148.9 123.1,149.0 124.0,148.5 125.0,148.0 125.9,149.0 126.9,148.4 127.8,149.0 128.8,148.7 129.7,149.0 130.7,148.2 131.6,148.9 132.6,148.3 133.5,148.5 134.5,149.0 135.4,149.0 136.4,148.3 137.3,148.4 138.3,148.6 139.2,148.7 140.2,148.6 141.1,148.3 142.1,148.5 143.0,149.0 144.0,149.2 144.9,148.2 145.9,148.8 146.8,149.1 147.8,148.3 148.7,149.2 149.7,148.4" fill="none" marker-mid="url(#md)" marker-start="url(#md)" marker-end="url(#md)" stroke="none"/>
<polyline points="19.5,144.0 20.4,143.8 21.4,143.8 22.3,143.3 23.3,143.3 24.2,143.4 25.2,143.1 26.1,143.3 27.1,142.9 28.0,142.8 29.0,142.2 29.9,142.7 30.9,142.5 31.8,142.1 32.8,142.6 33.7,142.5 34.7,142.0 35.6,141.6 36.6,141.8 37.6,141.2 38.5,141.1 39.5,141.2 40.4,140.6 41.4,140.7 42.3,140.5 43.3,139.7 44.2,140.1 45.2,139.2 46.1,139.7 47.1,139.4 48.0,138.7 49.0,137.5 49.9,137.3 50.9,136.5 51.8,136.3 52.8,134.6 53.7,134.6 54.7,133.8 55.6,132.5 56.6,131.3 57.5,129.1 58.5,128.3 59.4,126.4 60.4,125.6 61.3,124.5 62.3,123.6 63.2,125.2 64.2,126.7 65.1,128.1 66.1,130.2 67.0,132.1 68.0,133.0 68.9,135.2 69.9,135.9 70.8,137.7 71.8,138.1 72.7,139.3 73.7,140.5 74.6,140.3 75.6,140.8 76.5,141.4 77.5,141.6 78.4,141.5 79.4,142.0 80.3,142.2 81.3,143.2 82.2,143.0 83.2,143.2 84.1,142.1 85.1,142.2 86.0,141.1 87.0,141.3 87.9,141.1 88.9,140.6 89.8,141.0 90.8,140.7 91.7,140.7 92.7,141.2 93.6,140.4 94.6,141.6 95.5,141.3 96.5,141.3 97.4,142.0 98.4,141.8 99.3,143.0 100.3,143.1 101.2,143.4 102.2,144.3 103.1,144.5 104.1,144.8 105.0,146.0 106.0,145.9 106.9,147.2 107.9,146.9 108.8,147.5 109.8,148.1 110.7,147.8 111.7,148.0 112.6,147.7 113.6,147.5 114.5,147.6 115.5,147.7 116.4,148.3 117.4,148.1 118.3,148.3 119.3,148.7 120.2,147.9 121.2,148.0 122.1,148.5 123.1,147.9 124.0,147.9 125.0,148.3 125.9,148.0 126.9,148.3 127.8,148.2 128.8,148.6 129.7,148.6 130.7,148.2 131.6,148.7 132.6,148.5 133.5,148.2 134.5,149.1 135.4,148.3 136.4,148.2 137.3,148.2 138.3,148.8 139.2,149.1 140.2,149.0 141.1,148.6 142.1,148.4 143.0,148.2 144.0,148.9 144.9,148.8 145.9,148.6 146.8,148.9 147.8,148.7 148.7,149.3 149.7,149.1" fill="none" stroke="#c8303a" stroke-width="1.00" stroke-opacity="0.25" stroke-linejoin="round"/>
<polyline points="19.5,144.0 20.4,143.8 21.4,143.8 22.3,143.3 23.3,143.3 24.2,143.4 25.2,143.1 26.1,143.3 27.1,142.9 28.0,142.8 29.0,142.2 29.9,142.7 30.9,142.5 31.8,142.1 32.8,142.6 33.7,142.5 34.7,142.0 35.6,141.6 36.6,141.8 37.6,141.2 38.5,141.1 39.5,141.2 40.4,140.6 41.4,140.7 42.3,140.5 43.3,139.7 44.2,140.1 45.2,139.2 46.1,139.7 47.1,139.4 48.0,138.7 49.0,137.5 49.9,137.3 50.9,136.5 51.8,136.3 52.8,134.6 53.7,134.6 54.7,133.8 55.6,132.5 56.6,131.3 57.5,129.1 58.5,128.3 59.4,126.4 60.4,125.6 61.3,124.5 62.3,123.6 63.2,125.2 64.2,126.7 65.1,128.1 66.1,130.2 67.0,132.1 68.0,133.0 68.9,135.2 69.9,135.9 70.8,137.7 71.8,138.1 72.7,139.3 73.7,140.5 74.6,140.3 75.6,140.8 76.5,141.4 77.5,141.6 78.4,141.5 79.4,142.0 80.3,142.2 81.3,143.2 82.2,143.0 83.2,143.2 84.1,142.1 85.1,142.2 86.0,141.1 87.0,141.3 87.9,141.1 88.9,140.6 89.8,141.0 90.8,140.7 91.7,140.7 92.7,141.2 93.6,140.4 94.6,141.6 95.5,141.3 96.5,141.3 97.4,142.0 98.4,141.8 99.3,143.0 100.3,143.1 101.2,143.4 102.2,144.3 103.1,144.5 104.1,144.8 105.0,146.0 106.0,145.9 106.9,147.2 107.9,146.9 108.8,147.5 109.8,148.1 110.7,147.8 111.7,148.0 112.6,147.7 113.6,147.5 114.5,147.6 115.5,147.7 116.4,148.3 117.4,148.1 118.3,148.3 119.3,148.7 120.2,147.9 121.2,148.0 122.1,148.5 123.1,147.9 124.0,147.9 125.0,148.3 125.9,148.0 126.9,148.3 127.8,148.2 128.8,148.6 129.7,148.6 130.7,148.2 131.6,148.7 132.6,148.5 133.5,148.2 134.5,149.1 135.4,148.3 136.4,148.2 137.3,148.2 138.3,148.8 139.2,149.1 140.2,149.0 141.1,148.6 142.1,148.4 143.0,148.2 144.0,148.9 144.9,148.8 145.9,148.6 146.8,148.9 147.8,148.7 148.7,149.3 149.7,149.1" fill="none" marker-mid="url(#mu)" marker-start="url(#mu)" marker-end="url(#mu)" stroke="none"/>
<polyline points="19.5,174.8 20.4,175.5 21.4,174.6 22.3,175.1 23.3,174.9 24.2,174.7 25.2,174.5 26.1,175.3 27.1,174.4 28.0,175.0 29.0,175.4 29.9,174.4 30.9,174.4 31.8,174.8 32.8,174.5 33.7,174.5 34.7,174.4 35.6,173.3 36.6,173.1 37.6,172.6 38.5,171.8 39.5,172.2 40.4,171.6 41.4,171.0 42.3,169.7 43.3,170.1 44.2,169.4 45.2,168.6 46.1,168.4 47.1,167.6 48.0,167.1 49.0,166.8 49.9,167.1 50.9,167.2 51.8,168.1 52.8,169.1 53.7,169.6 54.7,170.2 55.6,170.5 56.6,170.4 57.5,171.2 58.5,171.4 59.4,172.1 60.4,171.9 61.3,171.7 62.3,172.0 63.2,172.2 64.2,171.1 65.1,171.6 66.1,170.3 67.0,170.2 68.0,169.6 68.9,169.3 69.9,168.5 70.8,167.1 71.8,165.3 72.7,164.8 73.7,163.1 74.6,162.0 75.6,161.7 76.5,160.5 77.5,159.5 78.4,158.2 79.4,157.8 80.3,157.5 81.3,158.5 82.2,159.1 83.2,160.0 84.1,160.2 85.1,161.2 86.0,161.6 87.0,162.0 87.9,162.5 88.9,163.6 89.8,163.7 90.8,165.2 91.7,165.0 92.7,165.5 93.6,166.2 94.6,167.8 95.5,167.8 96.5,168.2 97.4,168.7 98.4,169.3 99.3,170.6 100.3,171.1 101.2,171.7 102.2,172.2 103.1,171.9 104.1,172.9 105.0,173.4 106.0,174.7 106.9,175.3 107.9,175.8 108.8,175.2 109.8,176.3 110.7,176.6 111.7,176.8 112.6,176.0 113.6,176.2 114.5,176.2 115.5,176.2 116.4,177.2 117.4,177.2 118.3,177.1 119.3,177.3 120.2,177.2 121.2,176.8 122.1,176.7 123.1,176.7 124.0,177.5 125.0,176.9 125.9,177.0 126.9,177.2 127.8,176.8 128.8,177.0 129.7,177.1 130.7,177.6 131.6,177.2 132.6,177.2 133.5,177.9 134.5,177.5 135.4,177.9 136.4,177.6 137.3,177.0 138.3,177.4 139.2,177.5 140.2,177.9 141.1,177.4 142.1,177.9 143.0,177.7 144.0,177.4 144.9,178.1 145.9,177.3 146.8,178.1 147.8,177.4 148.7,177.2 149.7,177.5" fill="none" stroke="#2b3a9c" stroke-width="2.00" stroke-linejoin="round"/>
<polyline points="19.5,174.8 20.4,175.5 21.4,174.6 22.3,175.1 23.3,174.9 24.2,174.7 25.2,174.5 26.1,175.3 27.1,174.4 28.0,175.0 29.0,175.4 29.9,174.4 30.9,174.4 31.8,174.8 32.8,174.5 33.7,174.5 34.7,174.4 35.6,173.3 36.6,173.1 37.6,172.6 38.5,171.8 39.5,172.2 40.4,171.6 41.4,171.0 42.3,169.7 43.3,170.1 44.2,169.4 45.2,168.6 46.1,168.4 47.1,167.6 48.0,167.1 49.0,166.8 49.9,167.1 50.9,167.2 51.8,168.1 52.8,169.1 53.7,169.6 54.7,170.2 55.6,170.5 56.6,170.4 57.5,171.2 58.5,171.4 59.4,172.1 60.4,171.9 61.3,171.7 62.3,172.0 63.2,172.2 64.2,171.1 65.1,171.6 66.1,170.3 67.0,170.2 68.0,169.6 68.9,169.3 69.9,168.5 70.8,167.1 71.8,165.3 72.7,164.8 73.7,163.1 74.6,162.0 75.6,161.7 76.5,160.5 77.5,159.5 78.4,158.2 79.4,157.8 80.3,157.5 81.3,158.5 82.2,159.1 83.2,160.0 84.1,160.2 85.1,161.2 86.0,161.6 87.0,162.0 87.9,162.5 88.9,163.6 89.8,163.7 90.8,165.2 91.7,165.0 92.7,165.5 93.6,166.2 94.6,167.8 95.5,167.8 96.5,168.2 97.4,168.7 98.4,169.3 99.3,170.6 100.3,171.1 101.2,171.7 102.2,172.2 103.1,171.9 104.1,172.9 105.0,173.4 106.0,174.7 106.9,175.3 107.9,175.8 108.8,175.2 109.8,176.3 110.7,176.6 111.7,176.8 112.6,176.0 113.6,176.2 114.5,176.2 115.5,176.2 116.4,177.2 117.4,177.2 118.3,177.1 119.3,177.3 120.2,177.2 121.2,176.8 122.1,176.7 123.1,176.7 124.0,177.5 125.0,176.9 125.9,177.0 126.9,177.2 127.8,176.8 128.8,177.0 129.7,177.1 130.7,177.6 131.6,177.2 132.6,177.2 133.5,177.9 134.5,177.5 135.4,177.9 136.4,177.6 137.3,177.0 138.3,177.4 139.2,177.5 140.2,177.9 141.1,177.4 142.1,177.9 143.0,177.7 144.0,177.4 144.9,178.1 145.9,177.3 146.8,178.1 147.8,177.4 148.7,177.2 149.7,177.5" fill="none" marker-mid="url(#md)" marker-start="url(#md)" marker-end="url(#md)" stroke="none"/>
<polyline points="19.5,175.4 20.4,175.6 21.4,174.5 22.3,175.0 23.3,175.0 24.2,175.3 25.2,174.6 26.1,174.9 27.1,174.7 28.0,175.2 29.0,174.6 29.9,175.3 30.9,174.5 31.8,174.3 32.8,174.7 33.7,174.3 34.7,173.7 35.6,174.0 36.6,173.1 37.6,173.5 38.5,172.9 39.5,172.6 40.4,171.9 41.4,171.1 42.3,170.6 43.3,170.0 44.2,169.9 45.2,168.4 46.1,168.7 47.1,167.3 48.0,167.1 49.0,167.0 49.9,167.7 50.9,167.6 51.8,167.9 52.8,168.8 53.7,168.2 54.7,168.3 55.6,167.9 56.6,167.5 57.5,166.8 58.5,165.9 59.4,164.9 60.4,164.2 61.3,163.4 62.3,163.5 63.2,162.6 64.2,161.9 65.1,160.6 66.1,160.1 67.0,159.7 68.0,158.6 68.9,157.3 69.9,156.8 70.8,156.4 71.8,154.6 72.7,153.3 73.7,152.3 74.6,152.0 75.6,152.2 76.5,152.1 77.5,153.3 78.4,154.7 79.4,155.9 80.3,156.9 81.3,157.2 82.2,158.0 83.2,158.5 84.1,160.1 85.1,160.6 86.0,160.6 87.0,162.3 87.9,162.1 88.9,163.1 89.8,164.4 90.8,164.7 91.7,165.3 92.7,165.5 93.6,165.9 94.6,167.0 95.5,167.1 96.5,168.0 97.4,168.9 98.4,169.2 99.3,170.3 100.3,171.4 101.2,171.9 102.2,172.4 103.1,173.1 104.1,173.5 105.0,173.7 106.0,174.8 106.9,175.0 107.9,175.7 108.8,176.1 109.8,175.8 110.7,176.1 111.7,176.5 112.6,176.3 113.6,176.2 114.5,176.8 115.5,177.1 116.4,177.1 117.4,177.1 118.3,177.3 119.3,177.2 120.2,177.2 121.2,177.0 122.1,176.9 123.1,177.3 124.0,176.7 125.0,177.1 125.9,177.5 126.9,177.5 127.8,177.4 128.8,177.0 129.7,177.3 130.7,177.3 131.6,177.5 132.6,177.3 133.5,177.6 134.5,177.9 135.4,177.1 136.4,177.7 137.3,177.8 138.3,177.4 139.2,177.6 140.2,178.1 141.1,177.1 142.1,177.7 143.0,177.3 144.0,178.0 144.9,178.2 145.9,177.7 146.8,177.3 147.8,177.8 148.7,177.8 149.7,178.0" fill="none" stroke="#c8303a" stroke-width="1.00" stroke-opacity="0.25" stroke-linejoin="round"/>
<polyline points="19.5,175.4 20.4,175.6 21.4,174.5 22.3,175.0 23.3,175.0 24.2,175.3 25.2,174.6 26.1,174.9 27.1,174.7 28.0,175.2 29.0,174.6 29.9,175.3 30.9,174.5 31.8,174.3 32.8,174.7 33.7,174.3 34.7,173.7 35.6,174.0 36.6,173.1 37.6,173.5 38.5,172.9 39.5,172.6 40.4,171.9 41.4,171.1 42.3,170.6 43.3,170.0 44.2,169.9 45.2,168.4 46.1,168.7 47.1,167.3 48.0,167.1 49.0,167.0 49.9,167.7 50.9,167.6 51.8,167.9 52.8,168.8 53.7,168.2 54.7,168.3 55.6,167.9 56.6,167.5 57.5,166.8 58.5,165.9 59.4,164.9 60.4,164.2 61.3,163.4 62.3,163.5 63.2,162.6 64.2,161.9 65.1,160.6 66.1,160.1 67.0,159.7 68.0,158.6 68.9,157.3 69.9,156.8 70.8,156.4 71.8,154.6 72.7,153.3 73.7,152.3 74.6,152.0 75.6,152.2 76.5,152.1 77.5,153.3 78.4,154.7 79.4,155.9 80.3,156.9 81.3,157.2 82.2,158.0 83.2,158.5 84.1,160.1 85.1,160.6 86.0,160.6 87.0,162.3 87.9,162.1 88.9,163.1 89.8,164.4 90.8,164.7 91.7,165.3 92.7,165.5 93.6,165.9 94.6,167.0 95.5,167.1 96.5,168.0 97.4,168.9 98.4,169.2 99.3,170.3 100.3,171.4 101.2,171.9 102.2,172.4 103.1,173.1 104.1,173.5 105.0,173.7 106.0,174.8 106.9,175.0 107.9,175.7 108.8,176.1 109.8,175.8 110.7,176.1 111.7,176.5 112.6,176.3 113.6,176.2 114.5,176.8 115.5,177.1 116.4,177.1 117.4,177.1 118.3,177.3 119.3,177.2 120.2,177.2 121.2,177.0 122.1,176.9 123.1,177.3 124.0,176.7 125.0,177.1 125.9,177.5 126.9,177.5 127.8,177.4 128.8,177.0 129.7,177.3 130.7,177.3 131.6,177.5 132.6,177.3 133.5,177.6 134.5,177.9 135.4,177.1 136.4,177.7 137.3,177.8 138.3,177.4 139.2,177.6 140.2,178.1 141.1,177.1 142.1,177.7 143.0,177.3 144.0,178.0 144.9,178.2 145.9,177.7 146.8,177.3 147.8,177.8 148.7,177.8 149.7,178.0" fill="none" marker-mid="url(#mu)" marker-start="url(#mu)" marker-end="url(#mu)" stroke="none"/>
<polyline points="19.5,204.5 20.4,204.6 21.4,204.8 22.3,204.4 23.3,204.2 24.2,204.8 25.2,204.0 26.1,204.4 27.1,204.1 28.0,204.4 29.0,203.7 29.9,204.6 30.9,203.9 31.8,203.5 32.8,203.6 33.7,203.7 34.7,203.2 35.6,203.5 36.6,203.4 37.6,203.6 38.5,203.0 39.5,202.6 40.4,202.1 41.4,202.2 42.3,201.7 43.3,200.5 44.2,199.6 45.2,199.4 46.1,198.0 47.1,196.9 48.0,196.3 49.0,197.1 49.9,197.7 50.9,198.4 51.8,199.0 52.8,199.7 53.7,199.6 54.7,200.6 55.6,199.9 56.6,200.2 57.5,200.4 58.5,200.3 59.4,199.8 60.4,199.5 61.3,199.5 62.3,198.8 63.2,199.2 64.2,198.3 65.1,198.2 66.1,196.8 67.0,195.9 68.0,194.7 68.9,193.6 69.9,192.0 70.8,190.5 71.8,189.7 72.7,187.3 73.7,185.3 74.6,183.5 75.6,182.0 76.5,180.3 77.5,179.2 78.4,179.1 79.4,180.2 80.3,183.5 81.3,186.0 82.2,186.8 83.2,188.8 84.1,189.8 85.1,190.5 86.0,190.6 87.0,192.1 87.9,192.6 88.9,192.6 89.8,193.3 90.8,195.0 91.7,195.5 92.7,195.8 93.6,196.4 94.6,197.3 95.5,198.1 96.5,199.4 97.4,199.6 98.4,200.0 99.3,201.5 100.3,202.0 101.2,201.8 102.2,203.1 103.1,203.2 104.1,203.7 105.0,203.9 106.0,204.4 106.9,204.5 107.9,204.8 108.8,204.3 109.8,205.0 110.7,205.0 111.7,205.4 112.6,205.2 113.6,205.8 114.5,205.6 115.5,205.4 116.4,205.4 117.4,205.4 118.3,205.9 119.3,205.5 120.2,206.0 121.2,205.7 122.1,206.2 123.1,206.2 124.0,206.3 125.0,206.7 125.9,205.8 126.9,206.8 127.8,206.4 128.8,206.5 129.7,206.7 130.7,206.9 131.6,206.4 132.6,206.5 133.5,207.1 134.5,206.1 135.4,206.8 136.4,206.8 137.3,206.1 138.3,206.8 139.2,206.8 140.2,207.1 141.1,206.5 142.1,207.2 143.0,206.7 144.0,206.7 144.9,207.1 145.9,206.2 146.8,206.9 147.8,206.8 148.7,206.5 149.7,207.1" fill="none" stroke="#2b3a9c" stroke-width="2.00" stroke-linejoin="round"/>
<polyline points="19.5,204.5 20.4,204.6 21.4,204.8 22.3,204.4 23.3,204.2 24.2,204.8 25.2,204.0 26.1,204.4 27.1,204.1 28.0,204.4 29.0,203.7 29.9,204.6 30.9,203.9 31.8,203.5 32.8,203.6 33.7,203.7 34.7,203.2 35.6,203.5 36.6,203.4 37.6,203.6 38.5,203.0 39.5,202.6 40.4,202.1 41.4,202.2 42.3,201.7 43.3,200.5 44.2,199.6 45.2,199.4 46.1,198.0 47.1,196.9 48.0,196.3 49.0,197.1 49.9,197.7 50.9,198.4 51.8,199.0 52.8,199.7 53.7,199.6 54.7,200.6 55.6,199.9 56.6,200.2 57.5,200.4 58.5,200.3 59.4,199.8 60.4,199.5 61.3,199.5 62.3,198.8 63.2,199.2 64.2,198.3 65.1,198.2 66.1,196.8 67.0,195.9 68.0,194.7 68.9,193.6 69.9,192.0 70.8,190.5 71.8,189.7 72.7,187.3 73.7,185.3 74.6,183.5 75.6,182.0 76.5,180.3 77.5,179.2 78.4,179.1 79.4,180.2 80.3,183.5 81.3,186.0 82.2,186.8 83.2,188.8 84.1,189.8 85.1,190.5 86.0,190.6 87.0,192.1 87.9,192.6 88.9,192.6 89.8,193.3 90.8,195.0 91.7,195.5 92.7,195.8 93.6,196.4 94.6,197.3 95.5,198.1 96.5,199.4 97.4,199.6 98.4,200.0 99.3,201.5 100.3,202.0 101.2,201.8 102.2,203.1 103.1,203.2 104.1,203.7 105.0,203.9 106.0,204.4 106.9,204.5 107.9,204.8 108.8,204.3 109.8,205.0 110.7,205.0 111.7,205.4 112.6,205.2 113.6,205.8 114.5,205.6 115.5,205.4 116.4,205.4 117.4,205.4 118.3,205.9 119.3,205.5 120.2,206.0 121.2,205.7 122.1,206.2 123.1,206.2 124.0,206.3 125.0,206.7 125.9,205.8 126.9,206.8 127.8,206.4 128.8,206.5 129.7,206.7 130.7,206.9 131.6,206.4 132.6,206.5 133.5,207.1 134.5,206.1 135.4,206.8 136.4,206.8 137.3,206.1 138.3,206.8 139.2,206.8 140.2,207.1 141.1,206.5 142.1,207.2 143.0,206.7 144.0,206.7 144.9,207.1 145.9,206.2 146.8,206.9 147.8,206.8 148.7,206.5 149.7,207.1" fill="none" marker-mid="url(#md)" marker-start="url(#md)" marker-end="url(#md)" stroke="none"/>
<polyline points="19.5,204.4 20.4,204.4 21.4,204.4 22.3,204.7 23.3,204.0 24.2,204.2 25.2,204.2 26.1,204.3 27.1,204.6 28.0,203.9 29.0,204.5 29.9,204.0 30.9,204.0 31.8,203.7 32.8,203.9 33.7,204.3 34.7,203.9 35.6,204.0 36.6,203.3 37.6,203.1 38.5,202.9 39.5,202.9 40.4,202.6 41.4,202.2 42.3,200.7 43.3,200.7 44.2,200.3 45.2,199.2 46.1,197.8 47.1,197.4 48.0,196.7 49.0,197.0 49.9,198.4 50.9,198.9 51.8,199.7 52.8,200.4 53.7,200.9 54.7,200.7 55.6,200.8 56.6,200.8 57.5,200.9 58.5,200.7 59.4,200.8 60.4,200.1 61.3,200.5 62.3,200.0 63.2,200.1 64.2,199.0 65.1,198.6 66.1,197.8 67.0,197.8 68.0,197.0 68.9,195.6 69.9,194.1 70.8,193.4 71.8,191.8 72.7,189.8 73.7,187.5 74.6,185.5 75.6,183.8 76.5,181.6 77.5,180.0 78.4,179.7 79.4,181.2 80.3,182.7 81.3,185.7 82.2,186.8 83.2,188.0 84.1,189.7 85.1,190.3 86.0,191.5 87.0,191.7 87.9,191.9 88.9,193.0 89.8,193.9 90.8,195.0 91.7,195.8 92.7,196.1 93.6,196.8 94.6,197.2 95.5,198.6 96.5,198.8 97.4,199.4 98.4,199.9 99.3,200.5 100.3,201.9 101.2,201.8 102.2,203.2 103.1,202.6 104.1,203.8 105.0,203.3 106.0,203.4 106.9,204.5 107.9,204.1 108.8,204.9 109.8,204.5 110.7,204.5 111.7,205.4 112.6,205.5 113.6,205.8 114.5,205.8 115.5,205.2 116.4,205.9 117.4,206.1 118.3,205.9 119.3,206.5 120.2,205.8 121.2,206.6 122.1,206.4 123.1,205.7 124.0,205.7 125.0,206.5 125.9,206.7 126.9,205.9 127.8,206.2 128.8,206.7 129.7,206.1 130.7,206.9 131.6,206.5 132.6,206.1 133.5,206.4 134.5,206.7 135.4,206.5 136.4,206.8 137.3,206.2 138.3,207.0 139.2,206.5 140.2,206.8 141.1,206.8 142.1,206.6 143.0,206.5 144.0,207.0 144.9,207.2 145.9,207.0 146.8,206.8 147.8,206.5 148.7,206.2 149.7,207.2" fill="none" stroke="#c8303a" stroke-width="1.00" stroke-opacity="0.25" stroke-linejoin="round"/>
<polyline points="19.5,204.4 20.4,204.4 21.4,204.4 22.3,204.7 23.3,204.0 24.2,204.2 25.2,204.2 26.1,204.3 27.1,204.6 28.0,203.9 29.0,204.5 29.9,204.0 30.9,204.0 31.8,203.7 32.8,203.9 33.7,204.3 34.7,203.9 35.6,204.0 36.6,203.3 37.6,203.1 38.5,202.9 39.5,202.9 40.4,202.6 41.4,202.2 42.3,200.7 43.3,200.7 44.2,200.3 45.2,199.2 46.1,197.8 47.1,197.4 48.0,196.7 49.0,197.0 49.9,198.4 50.9,198.9 51.8,199.7 52.8,200.4 53.7,200.9 54.7,200.7 55.6,200.8 56.6,200.8 57.5,200.9 58.5,200.7 59.4,200.8 60.4,200.1 61.3,200.5 62.3,200.0 63.2,200.1 64.2,199.0 65.1,198.6 66.1,197.8 67.0,197.8 68.0,197.0 68.9,195.6 69.9,194.1 70.8,193.4 71.8,191.8 72.7,189.8 73.7,187.5 74.6,185.5 75.6,183.8 76.5,181.6 77.5,180.0 78.4,179.7 79.4,181.2 80.3,182.7 81.3,185.7 82.2,186.8 83.2,188.0 84.1,189.7 85.1,190.3 86.0,191.5 87.0,191.7 87.9,191.9 88.9,193.0 89.8,193.9 90.8,195.0 91.7,195.8 92.7,196.1 93.6,196.8 94.6,197.2 95.5,198.6 96.5,198.8 97.4,199.4 98.4,199.9 99.3,200.5 100.3,201.9 101.2,201.8 102.2,203.2 103.1,202.6 104.1,203.8 105.0,203.3 106.0,203.4 106.9,204.5 107.9,204.1 108.8,204.9 109.8,204.5 110.7,204.5 111.7,205.4 112.6,205.5 113.6,205.8 114.5,205.8 115.5,205.2 116.4,205.9 117.4,206.1 118.3,205.9 119.3,206.5 120.2,205.8 121.2,206.6 122.1,206.4 123.1,205.7 124.0,205.7 125.0,206.5 125.9,206.7 126.9,205.9 127.8,206.2 128.8,206.7 129.7,206.1 130.7,206.9 131.6,206.5 132.6,206.1 133.5,206.4 134.5,206.7 135.4,206.5 136.4,206.8 137.3,206.2 138.3,207.0 139.2,206.5 140.2,206.8 141.1,206.8 142.1,206.6 143.0,206.5 144.0,207.0 144.9,207.2 145.9,207.0 146.8,206.8 147.8,206.5 148.7,206.2 149.7,207.2" fill="none" marker-mid="url(#mu)" marker-start="url(#mu)" marker-end="url(#mu)" stroke="none"/>
<polyline points="19.5,234.1 20.4,234.1 21.4,233.5 22.3,233.7 23.3,234.0 24.2,233.7 25.2,233.4 26.1,233.0 27.1,233.0 28.0,233.4 29.0,232.7 29.9,232.9 30.9,232.7 31.8,232.9 32.8,232.7 33.7,232.0 34.7,231.6 35.6,231.7 36.6,231.7 37.6,231.7 38.5,231.8 39.5,231.6 40.4,230.4 41.4,230.8 42.3,230.3 43.3,229.8 44.2,229.0 45.2,228.0 46.1,227.8 47.1,227.0 48.0,226.2 49.0,226.2 49.9,225.6 50.9,225.6 51.8,226.6 52.8,227.5 53.7,227.5 54.7,228.7 55.6,229.4 56.6,229.0 57.5,229.6 58.5,229.7 59.4,229.4 60.4,228.8 61.3,228.5 62.3,228.6 63.2,228.1 64.2,227.0 65.1,225.7 66.1,225.4 67.0,224.1 68.0,222.2 68.9,221.3 69.9,220.7 70.8,219.7 71.8,218.4 72.7,217.5 73.7,216.9 74.6,215.9 75.6,215.8 76.5,216.4 77.5,218.5 78.4,219.4 79.4,221.2 80.3,222.4 81.3,223.5 82.2,223.8 83.2,224.1 84.1,225.5 85.1,225.1 86.0,225.1 87.0,226.0 87.9,226.4 88.9,226.0 89.8,226.9 90.8,227.1 91.7,227.8 92.7,227.8 93.6,228.4 94.6,230.1 95.5,230.6 96.5,230.9 97.4,231.6 98.4,231.9 99.3,233.0 100.3,233.0 101.2,234.1 102.2,234.3 103.1,234.8 104.1,235.3 105.0,234.9 106.0,234.9 106.9,235.4 107.9,235.6 108.8,235.7 109.8,235.8 110.7,236.6 111.7,237.0 112.6,236.7 113.6,237.3 114.5,237.3 115.5,236.4 116.4,237.0 117.4,236.8 118.3,236.5 119.3,237.5 120.2,236.7 121.2,237.1 122.1,237.2 123.1,237.6 124.0,237.3 125.0,237.0 125.9,237.1 126.9,236.7 127.8,237.6 128.8,237.7 129.7,236.8 130.7,236.7 131.6,236.9 132.6,237.0 133.5,237.6 134.5,237.6 135.4,237.6 136.4,236.7 137.3,237.5 138.3,237.5 139.2,237.4 140.2,237.8 141.1,236.8 142.1,236.9 143.0,237.5 144.0,237.7 144.9,237.5 145.9,237.0 146.8,237.4 147.8,237.6 148.7,236.9 149.7,237.1" fill="none" stroke="#2b3a9c" stroke-width="2.00" stroke-linejoin="round"/>
<polyline points="19.5,234.1 20.4,234.1 21.4,233.5 22.3,233.7 23.3,234.0 24.2,233.7 25.2,233.4 26.1,233.0 27.1,233.0 28.0,233.4 29.0,232.7 29.9,232.9 30.9,232.7 31.8,232.9 32.8,232.7 33.7,232.0 34.7,231.6 35.6,231.7 36.6,231.7 37.6,231.7 38.5,231.8 39.5,231.6 40.4,230.4 41.4,230.8 42.3,230.3 43.3,229.8 44.2,229.0 45.2,228.0 46.1,227.8 47.1,227.0 48.0,226.2 49.0,226.2 49.9,225.6 50.9,225.6 51.8,226.6 52.8,227.5 53.7,227.5 54.7,228.7 55.6,229.4 56.6,229.0 57.5,229.6 58.5,229.7 59.4,229.4 60.4,228.8 61.3,228.5 62.3,228.6 63.2,228.1 64.2,227.0 65.1,225.7 66.1,225.4 67.0,224.1 68.0,222.2 68.9,221.3 69.9,220.7 70.8,219.7 71.8,218.4 72.7,217.5 73.7,216.9 74.6,215.9 75.6,215.8 76.5,216.4 77.5,218.5 78.4,219.4 79.4,221.2 80.3,222.4 81.3,223.5 82.2,223.8 83.2,224.1 84.1,225.5 85.1,225.1 86.0,225.1 87.0,226.0 87.9,226.4 88.9,226.0 89.8,226.9 90.8,227.1 91.7,227.8 92.7,227.8 93.6,228.4 94.6,230.1 95.5,230.6 96.5,230.9 97.4,231.6 98.4,231.9 99.3,233.0 100.3,233.0 101.2,234.1 102.2,234.3 103.1,234.8 104.1,235.3 105.0,234.9 106.0,234.9 106.9,235.4 107.9,235.6 108.8,235.7 109.8,235.8 110.7,236.6 111.7,237.0 112.6,236.7 113.6,237.3 114.5,237.3 115.5,236.4 116.4,237.0 117.4,236.8 118.3,236.5 119.3,237.5 120.2,236.7 121.2,237.1 122.1,237.2 123.1,237.6 124.0,237.3 125.0,237.0 125.9,237.1 126.9,236.7 127.8,237.6 128.8,237.7 129.7,236.8 130.7,236.7 131.6,236.9 132.6,237.0 133.5,237.6 134.5,237.6 135.4,237.6 136.4,236.7 137.3,237.5 138.3,237.5 139.2,237.4 140.2,237.8 141.1,236.8 142.1,236.9 143.0,237.5 144.0,237.7 144.9,237.5 145.9,237.0 146.8,237.4 147.8,237.6 148.7,236.9 149.7,237.1" fill="none" marker-mid="url(#md)" marker-start="url(#md)" marker-end="url(#md)" stroke="none"/>
<polyline points="19.5,233.6 20.4,233.4 21.4,233.7 22.3,233.2 23.3,233.2 24.2,233.0 25.2,233.4 26.1,232.6 27.1,233.3 28.0,232.6 29.0,232.3 29.9,233.2 30.9,232.3 31.8,232.9 32.8,232.7 33.7,232.6 34.7,231.6 35.6,231.8 36.6,231.3 37.6,232.0 38.5,231.7 39.5,231.3 40.4,230.9 41.4,230.5 42.3,230.8 43.3,230.3 44.2,230.2 45.2,229.5 46.1,229.4 47.1,229.1 48.0,229.8 49.0,229.5 49.9,229.1 50.9,230.0 51.8,229.4 52.8,229.7 53.7,229.5 54.7,229.8 55.6,230.6 56.6,230.2 57.5,230.2 58.5,230.6 59.4,230.4 60.4,230.9 61.3,229.8 62.3,230.3 63.2,228.7 64.2,229.0 65.1,228.1 66.1,227.0 67.0,226.6 68.0,225.6 68.9,224.8 69.9,224.1 70.8,223.6 71.8,223.7 72.7,223.0 73.7,222.3 74.6,220.7 75.6,220.3 76.5,220.4 77.5,218.9 78.4,219.1 79.4,218.1 80.3,218.5 81.3,217.1 82.2,217.6 83.2,216.9 84.1,216.6 85.1,216.5 86.0,217.5 87.0,217.5 87.9,217.6 88.9,218.4 89.8,219.6 90.8,219.6 91.7,220.8 92.7,221.1 93.6,222.0 94.6,223.8 95.5,225.1 96.5,225.7 97.4,226.7 98.4,227.8 99.3,229.3 100.3,230.1 101.2,230.7 102.2,231.4 103.1,232.5 104.1,233.3 105.0,234.0 106.0,234.3 106.9,234.2 107.9,234.4 108.8,235.3 109.8,235.2 110.7,235.8 111.7,235.3 112.6,236.3 113.6,236.0 114.5,236.7 115.5,236.8 116.4,236.5 117.4,236.1 118.3,237.1 119.3,236.7 120.2,237.2 121.2,236.6 122.1,236.5 123.1,237.3 124.0,236.8 125.0,236.6 125.9,236.9 126.9,237.1 127.8,236.5 128.8,237.1 129.7,237.0 130.7,237.1 131.6,236.7 132.6,237.4 133.5,237.5 134.5,237.5 135.4,237.0 136.4,237.4 137.3,237.0 138.3,237.5 139.2,236.7 140.2,237.6 141.1,237.7 142.1,237.2 143.0,237.2 144.0,237.3 144.9,237.3 145.9,236.7 146.8,237.8 147.8,237.0 148.7,236.9 149.7,236.9" fill="none" stroke="#c8303a" stroke-width="1.00" stroke-opacity="0.25" stroke-linejoin="round"/>
<polyline points="19.5,233.6 20.4,233.4 21.4,233.7 22.3,233.2 23.3,233.2 24.2,233.0 25.2,233.4 26.1,232.6 27.1,233.3 28.0,232.6 29.0,232.3 29.9,233.2 30.9,232.3 31.8,232.9 32.8,232.7 33.7,232.6 34.7,231.6 35.6,231.8 36.6,231.3 37.6,232.0 38.5,231.7 39.5,231.3 40.4,230.9 41.4,230.5 42.3,230.8 43.3,230.3 44.2,230.2 45.2,229.5 46.1,229.4 47.1,229.1 48.0,229.8 49.0,229.5 49.9,229.1 50.9,230.0 51.8,229.4 52.8,229.7 53.7,229.5 54.7,229.8 55.6,230.6 56.6,230.2 57.5,230.2 58.5,230.6 59.4,230.4 60.4,230.9 61.3,229.8 62.3,230.3 63.2,228.7 64.2,229.0 65.1,228.1 66.1,227.0 67.0,226.6 68.0,225.6 68.9,224.8 69.9,224.1 70.8,223.6 71.8,223.7 72.7,223.0 73.7,222.3 74.6,220.7 75.6,220.3 76.5,220.4 77.5,218.9 78.4,219.1 79.4,218.1 80.3,218.5 81.3,217.1 82.2,217.6 83.2,216.9 84.1,216.6 85.1,216.5 86.0,217.5 87.0,217.5 87.9,217.6 88.9,218.4 89.8,219.6 90.8,219.6 91.7,220.8 92.7,221.1 93.6,222.0 94.6,223.8 95.5,225.1 96.5,225.7 97.4,226.7 98.4,227.8 99.3,229.3 100.3,230.1 101.2,230.7 102.2,231.4 103.1,232.5 104.1,233.3 105.0,234.0 106.0,234.3 106.9,234.2 107.9,234.4 108.8,235.3 109.8,235.2 110.7,235.8 111.7,235.3 112.6,236.3 113.6,236.0 114.5,236.7 115.5,236.8 116.4,236.5 117.4,236.1 118.3,237.1 119.3,236.7 120.2,237.2 121.2,236.6 122.1,236.5 123.1,237.3 124.0,236.8 125.0,236.6 125.9,236.9 126.9,237.1 127.8,236.5 128.8,237.1 129.7,237.0 130.7,237.1 131.6,236.7 132.6,237.4 133.5,237.5 134.5,237.5 135.4,237.0 136.4,237.4 137.3,237.0 138.3,237.5 139.2,236.7 140.2,237.6 141.1,237.7 142.1,237.2 143.0,237.2 144.0,237.3 144.9,237.3 145.9,236.7 146.8,237.8 147.8,237.0 148.7,236.9 149.7,236.9" fill="none" marker-mid="url(#mu)" marker-start="url(#mu)" marker-end="url(#mu)" stroke="none"/>
<polyline points="19.5,262.6 20.4,263.1 21.4,262.2 22.3,262.1 23.3,262.7 24.2,262.0 25.2,261.7 26.1,262.3 27.1,262.1 28.0,262.0 29.0,262.0 29.9,261.3 30.9,262.0 31.8,261.7 32.8,260.8 33.7,260.8 34.7,261.1 35.6,260.9 36.6,260.5 37.6,260.1 38.5,260.2 39.5,259.6 40.4,259.8 41.4,259.7 42.3,258.5 43.3,258.4 44.2,258.1 45.2,257.1 46.1,257.4 47.1,257.0 48.0,255.9 49.0,255.5 49.9,255.6 50.9,255.1 51.8,255.1 52.8,256.0 53.7,256.3 54.7,256.2 55.6,256.4 56.6,256.9 57.5,257.3 58.5,258.1 59.4,257.7 60.4,257.1 61.3,255.9 62.3,254.6 63.2,252.5 64.2,251.9 65.1,251.3 66.1,250.2 67.0,248.6 68.0,248.0 68.9,247.9 69.9,247.8 70.8,248.4 71.8,248.4 72.7,249.2 73.7,249.7 74.6,249.8 75.6,250.5 76.5,252.1 77.5,252.6 78.4,253.5 79.4,253.9 80.3,254.7 81.3,255.3 82.2,255.7 83.2,255.0 84.1,255.9 85.1,255.7 86.0,256.3 87.0,256.0 87.9,256.5 88.9,257.1 89.8,257.1 90.8,257.0 91.7,257.8 92.7,258.3 93.6,259.5 94.6,259.4 95.5,260.1 96.5,261.1 97.4,261.2 98.4,262.3 99.3,263.2 100.3,263.2 101.2,263.4 102.2,264.1 103.1,264.6 104.1,264.5 105.0,264.9 106.0,265.2 106.9,265.6 107.9,266.0 108.8,266.0 109.8,266.1 110.7,266.1 111.7,266.6 112.6,267.0 113.6,266.8 114.5,266.7 115.5,266.8 116.4,266.3 117.4,266.9 118.3,266.6 119.3,266.7 120.2,266.8 121.2,266.7 122.1,266.5 123.1,266.5 124.0,266.4 125.0,266.8 125.9,266.6 126.9,266.9 127.8,266.2 128.8,266.6 129.7,267.2 130.7,266.5 131.6,266.9 132.6,266.8 133.5,266.6 134.5,267.4 135.4,266.6 136.4,267.1 137.3,266.5 138.3,266.4 139.2,267.3 140.2,266.8 141.1,266.4 142.1,266.7 143.0,266.8 144.0,267.1 144.9,266.4 145.9,266.6 146.8,267.4 147.8,267.2 148.7,266.5 149.7,266.7" fill="none" stroke="#2b3a9c" stroke-width="2.00" stroke-linejoin="round"/>
<polyline points="19.5,262.6 20.4,263.1 21.4,262.2 22.3,262.1 23.3,262.7 24.2,262.0 25.2,261.7 26.1,262.3 27.1,262.1 28.0,262.0 29.0,262.0 29.9,261.3 30.9,262.0 31.8,261.7 32.8,260.8 33.7,260.8 34.7,261.1 35.6,260.9 36.6,260.5 37.6,260.1 38.5,260.2 39.5,259.6 40.4,259.8 41.4,259.7 42.3,258.5 43.3,258.4 44.2,258.1 45.2,257.1 46.1,257.4 47.1,257.0 48.0,255.9 49.0,255.5 49.9,255.6 50.9,255.1 51.8,255.1 52.8,256.0 53.7,256.3 54.7,256.2 55.6,256.4 56.6,256.9 57.5,257.3 58.5,258.1 59.4,257.7 60.4,257.1 61.3,255.9 62.3,254.6 63.2,252.5 64.2,251.9 65.1,251.3 66.1,250.2 67.0,248.6 68.0,248.0 68.9,247.9 69.9,247.8 70.8,248.4 71.8,248.4 72.7,249.2 73.7,249.7 74.6,249.8 75.6,250.5 76.5,252.1 77.5,252.6 78.4,253.5 79.4,253.9 80.3,254.7 81.3,255.3 82.2,255.7 83.2,255.0 84.1,255.9 85.1,255.7 86.0,256.3 87.0,256.0 87.9,256.5 88.9,257.1 89.8,257.1 90.8,257.0 91.7,257.8 92.7,258.3 93.6,259.5 94.6,259.4 95.5,260.1 96.5,261.1 97.4,261.2 98.4,262.3 99.3,263.2 100.3,263.2 101.2,263.4 102.2,264.1 103.1,264.6 104.1,264.5 105.0,264.9 106.0,265.2 106.9,265.6 107.9,266.0 108.8,266.0 109.8,266.1 110.7,266.1 111.7,266.6 112.6,267.0 113.6,266.8 114.5,266.7 115.5,266.8 116.4,266.3 117.4,266.9 118.3,266.6 119.3,266.7 120.2,266.8 121.2,266.7 122.1,266.5 123.1,266.5 124.0,266.4 125.0,266.8 125.9,266.6 126.9,266.9 127.8,266.2 128.8,266.6 129.7,267.2 130.7,266.5 131.6,266.9 132.6,266.8 133.5,266.6 134.5,267.4 135.4,266.6 136.4,267.1 137.3,266.5 138.3,266.4 139.2,267.3 140.2,266.8 141.1,266.4 142.1,266.7 143.0,266.8 144.0,267.1 144.9,266.4 145.9,266.6 146.8,267.4 147.8,267.2 148.7,266.5 149.7,266.7" fill="none" marker-mid="url(#md)" marker-start="url(#md)" marker-end="url(#md)" stroke="none"/>
<polyline points="19.5,263.8 20.4,264.1 21.4,263.9 22.3,264.0 23.3,263.9 24.2,263.5 25.2,263.6 26.1,263.5 27.1,263.4 28.0,263.0 29.0,263.2 29.9,263.0 30.9,263.1 31.8,262.1 32.8,262.8 33.7,261.7 34.7,262.4 35.6,262.1 36.6,261.8 37.6,262.2 38.5,261.5 39.5,261.1 40.4,261.3 41.4,261.1 42.3,260.5 43.3,260.0 44.2,259.7 45.2,259.5 46.1,259.5 47.1,258.7 48.0,258.6 49.0,258.6 49.9,258.3 50.9,258.2 51.8,258.8 52.8,259.1 53.7,259.1 54.7,259.5 55.6,259.7 56.6,260.3 57.5,260.7 58.5,261.5 59.4,261.8 60.4,261.3 61.3,262.1 62.3,261.2 63.2,261.5 64.2,261.1 65.1,260.8 66.1,259.7 67.0,259.6 68.0,259.8 68.9,258.5 69.9,258.2 70.8,258.4 71.8,257.9 72.7,257.9 73.7,257.2 74.6,256.4 75.6,256.4 76.5,255.3 77.5,254.7 78.4,254.3 79.4,253.4 80.3,252.8 81.3,252.5 82.2,251.6 83.2,251.7 84.1,250.7 85.1,249.9 86.0,248.7 87.0,248.2 87.9,247.3 88.9,246.7 89.8,245.9 90.8,245.5 91.7,244.8 92.7,243.9 93.6,244.1 94.6,245.6 95.5,247.5 96.5,248.2 97.4,249.9 98.4,251.8 99.3,252.8 100.3,254.9 101.2,257.6 102.2,259.2 103.1,260.5 104.1,261.3 105.0,263.2 106.0,263.9 106.9,264.7 107.9,265.5 108.8,265.9 109.8,265.8 110.7,265.8 111.7,266.2 112.6,266.7 113.6,266.8 114.5,266.4 115.5,266.4 116.4,266.9 117.4,266.9 118.3,266.6 119.3,267.3 120.2,267.0 121.2,266.3 122.1,266.7 123.1,267.2 124.0,266.6 125.0,267.1 125.9,266.3 126.9,266.6 127.8,267.2 128.8,267.0 129.7,267.1 130.7,266.5 131.6,266.9 132.6,266.9 133.5,266.6 134.5,267.0 135.4,266.9 136.4,267.4 137.3,267.0 138.3,266.8 139.2,266.5 140.2,266.5 141.1,267.2 142.1,266.5 143.0,266.5 144.0,266.5 144.9,266.9 145.9,267.2 146.8,267.0 147.8,267.2 148.7,266.4 149.7,266.4" fill="none" stroke="#c8303a" stroke-width="1.00" stroke-opacity="0.25" stroke-linejoin="round"/>
<polyline points="19.5,263.8 20.4,264.1 21.4,263.9 22.3,264.0 23.3,263.9 24.2,263.5 25.2,263.6 26.1,263.5 27.1,263.4 28.0,263.0 29.0,263.2 29.9,263.0 30.9,263.1 31.8,262.1 32.8,262.8 33.7,261.7 34.7,262.4 35.6,262.1 36.6,261.8 37.6,262.2 38.5,261.5 39.5,261.1 40.4,261.3 41.4,261.1 42.3,260.5 43.3,260.0 44.2,259.7 45.2,259.5 46.1,259.5 47.1,258.7 48.0,258.6 49.0,258.6 49.9,258.3 50.9,258.2 51.8,258.8 52.8,259.1 53.7,259.1 54.7,259.5 55.6,259.7 56.6,260.3 57.5,260.7 58.5,261.5 59.4,261.8 60.4,261.3 61.3,262.1 62.3,261.2 63.2,261.5 64.2,261.1 65.1,260.8 66.1,259.7 67.0,259.6 68.0,259.8 68.9,258.5 69.9,258.2 70.8,258.4 71.8,257.9 72.7,257.9 73.7,257.2 74.6,256.4 75.6,256.4 76.5,255.3 77.5,254.7 78.4,254.3 79.4,253.4 80.3,252.8 81.3,252.5 82.2,251.6 83.2,251.7 84.1,250.7 85.1,249.9 86.0,248.7 87.0,248.2 87.9,247.3 88.9,246.7 89.8,245.9 90.8,245.5 91.7,244.8 92.7,243.9 93.6,244.1 94.6,245.6 95.5,247.5 96.5,248.2 97.4,249.9 98.4,251.8 99.3,252.8 100.3,254.9 101.2,257.6 102.2,259.2 103.1,260.5 104.1,261.3 105.0,263.2 106.0,263.9 106.9,264.7 107.9,265.5 108.8,265.9 109.8,265.8 110.7,265.8 111.7,266.2 112.6,266.7 113.6,266.8 114.5,266.4 115.5,266.4 116.4,266.9 117.4,266.9 118.3,266.6 119.3,267.3 120.2,267.0 121.2,266.3 122.1,266.7 123.1,267.2 124.0,266.6 125.0,267.1 125.9,266.3 126.9,266.6 127.8,267.2 128.8,267.0 129.7,267.1 130.7,266.5 131.6,266.9 132.6,266.9 133.5,266.6 134.5,267.0 135.4,266.9 136.4,267.4 137.3,267.0 138.3,266.8 139.2,266.5 140.2,266.5 141.1,267.2 142.1,266.5 143.0,266.5 144.0,266.5 144.9,266.9 145.9,267.2 146.8,267.0 147.8,267.2 148.7,266.4 149.7,266.4" fill="none" marker-mid="url(#mu)" marker-start="url(#mu)" marker-end="url(#mu)" stroke="none"/>
<polyline points="19.5,292.6 20.4,291.9 21.4,292.2 22.3,291.6 23.3,291.2 24.2,291.1 25.2,290.7 26.1,291.4 27.1,290.9 28.0,290.5 29.0,290.4 29.9,290.1 30.9,289.6 31.8,290.3 32.8,289.8 33.7,290.0 34.7,289.3 35.6,289.3 36.6,288.7 37.6,288.4 38.5,289.2 39.5,289.0 40.4,288.3 41.4,288.8 42.3,288.6 43.3,287.9 44.2,288.2 45.2,288.5 46.1,287.8 47.1,288.2 48.0,287.2 49.0,287.1 49.9,287.2 50.9,286.4 51.8,286.1 52.8,286.3 53.7,285.3 54.7,285.1 55.6,283.9 56.6,283.0 57.5,282.3 58.5,281.1 59.4,281.1 60.4,279.5 61.3,278.9 62.3,277.5 63.2,277.3 64.2,277.0 65.1,277.8 66.1,279.0 67.0,280.6 68.0,282.7 68.9,283.6 69.9,284.6 70.8,285.4 71.8,286.4 72.7,287.3 73.7,287.9 74.6,289.4 75.6,289.8 76.5,290.4 77.5,291.6 78.4,291.5 79.4,292.0 80.3,292.7 81.3,291.8 82.2,291.7 83.2,291.5 84.1,290.7 85.1,289.2 86.0,288.8 87.0,288.8 87.9,287.8 88.9,287.9 89.8,286.6 90.8,286.9 91.7,286.0 92.7,285.3 93.6,285.6 94.6,285.7 95.5,287.3 96.5,287.5 97.4,289.0 98.4,289.3 99.3,289.7 100.3,290.1 101.2,291.1 102.2,291.3 103.1,292.7 104.1,292.4 105.0,293.4 106.0,293.9 106.9,294.1 107.9,295.0 108.8,294.9 109.8,295.4 110.7,295.5 111.7,295.4 112.6,295.6 113.6,295.3 114.5,295.5 115.5,296.2 116.4,295.7 117.4,296.1 118.3,295.5 119.3,296.0 120.2,295.9 121.2,296.0 122.1,295.8 123.1,295.6 124.0,295.9 125.0,295.8 125.9,295.7 126.9,296.4 127.8,295.9 128.8,296.1 129.7,296.6 130.7,296.5 131.6,296.6 132.6,296.6 133.5,295.8 134.5,296.0 135.4,295.7 136.4,296.4 137.3,296.4 138.3,296.1 139.2,296.1 140.2,296.4 141.1,296.5 142.1,296.0 143.0,296.6 144.0,296.1 144.9,296.4 145.9,295.9 146.8,295.9 147.8,296.7 148.7,296.5 149.7,296.5" fill="none" stroke="#2b3a9c" stroke-width="2.00" stroke-linejoin="round"/>
<polyline points="19.5,292.6 20.4,291.9 21.4,292.2 22.3,291.6 23.3,291.2 24.2,291.1 25.2,290.7 26.1,291.4 27.1,290.9 28.0,290.5 29.0,290.4 29.9,290.1 30.9,289.6 31.8,290.3 32.8,289.8 33.7,290.0 34.7,289.3 35.6,289.3 36.6,288.7 37.6,288.4 38.5,289.2 39.5,289.0 40.4,288.3 41.4,288.8 42.3,288.6 43.3,287.9 44.2,288.2 45.2,288.5 46.1,287.8 47.1,288.2 48.0,287.2 49.0,287.1 49.9,287.2 50.9,286.4 51.8,286.1 52.8,286.3 53.7,285.3 54.7,285.1 55.6,283.9 56.6,283.0 57.5,282.3 58.5,281.1 59.4,281.1 60.4,279.5 61.3,278.9 62.3,277.5 63.2,277.3 64.2,277.0 65.1,277.8 66.1,279.0 67.0,280.6 68.0,282.7 68.9,283.6 69.9,284.6 70.8,285.4 71.8,286.4 72.7,287.3 73.7,287.9 74.6,289.4 75.6,289.8 76.5,290.4 77.5,291.6 78.4,291.5 79.4,292.0 80.3,292.7 81.3,291.8 82.2,291.7 83.2,291.5 84.1,290.7 85.1,289.2 86.0,288.8 87.0,288.8 87.9,287.8 88.9,287.9 89.8,286.6 90.8,286.9 91.7,286.0 92.7,285.3 93.6,285.6 94.6,285.7 95.5,287.3 96.5,287.5 97.4,289.0 98.4,289.3 99.3,289.7 100.3,290.1 101.2,291.1 102.2,291.3 103.1,292.7 104.1,292.4 105.0,293.4 106.0,293.9 106.9,294.1 107.9,295.0 108.8,294.9 109.8,295.4 110.7,295.5 111.7,295.4 112.6,295.6 113.6,295.3 114.5,295.5 115.5,296.2 116.4,295.7 117.4,296.1 118.3,295.5 119.3,296.0 120.2,295.9 121.2,296.0 122.1,295.8 123.1,295.6 124.0,295.9 125.0,295.8 125.9,295.7 126.9,296.4 127.8,295.9 128.8,296.1 129.7,296.6 130.7,296.5 131.6,296.6 132.6,296.6 133.5,295.8 134.5,296.0 135.4,295.7 136.4,296.4 137.3,296.4 138.3,296.1 139.2,296.1 140.2,296.4 141.1,296.5 142.1,296.0 143.0,296.6 144.0,296.1 144.9,296.4 145.9,295.9 146.8,295.9 147.8,296.7 148.7,296.5 149.7,296.5" fill="none" marker-mid="url(#md)" marker-start="url(#md)" marker-end="url(#md)" stroke="none"/>
<polyline points="19.5,292.9 20.4,292.9 21.4,293.0 22.3,293.0 23.3,293.1 24.2,293.1 25.2,292.7 26.1,293.0 27.1,293.3 28.0,292.8 29.0,293.5 29.9,293.2 30.9,293.3 31.8,292.8 32.8,292.9 33.7,293.2 34.7,292.8 35.6,292.4 36.6,293.3 37.6,293.2 38.5,292.6 39.5,292.3 40.4,293.1 41.4,292.8 42.3,292.2 43.3,292.3 44.2,292.1 45.2,292.8 46.1,292.1 47.1,292.8 48.0,292.6 49.0,291.8 49.9,292.4 50.9,292.0 51.8,292.3 52.8,292.3 53.7,291.6 54.7,291.3 55.6,292.1 56.6,291.4 57.5,291.9 58.5,291.5 59.4,291.4 60.4,291.4 61.3,291.0 62.3,290.7 63.2,290.2 64.2,290.7 65.1,290.3 66.1,290.3 67.0,290.6 68.0,289.6 68.9,290.1 69.9,289.2 70.8,289.8 71.8,289.8 72.7,289.1 73.7,289.3 74.6,289.6 75.6,289.1 76.5,288.9 77.5,288.5 78.4,288.1 79.4,288.3 80.3,288.1 81.3,287.6 82.2,287.5 83.2,286.9 84.1,287.2 85.1,286.8 86.0,285.8 87.0,285.4 87.9,285.2 88.9,284.5 89.8,284.5 90.8,283.2 91.7,282.4 92.7,282.2 93.6,280.4 94.6,279.8 95.5,278.4 96.5,277.8 97.4,276.1 98.4,274.9 99.3,272.9 100.3,272.3 101.2,272.0 102.2,274.6 103.1,278.2 104.1,281.6 105.0,284.3 106.0,287.8 106.9,290.9 107.9,292.9 108.8,294.2 109.8,295.0 110.7,295.3 111.7,296.1 112.6,296.0 113.6,295.7 114.5,295.9 115.5,296.1 116.4,296.0 117.4,295.8 118.3,295.7 119.3,295.6 120.2,296.7 121.2,296.5 122.1,295.8 123.1,296.5 124.0,296.8 125.0,296.3 125.9,295.8 126.9,296.3 127.8,296.2 128.8,295.9 129.7,296.3 130.7,295.7 131.6,296.7 132.6,296.4 133.5,296.4 134.5,296.8 135.4,296.5 136.4,296.0 137.3,296.0 138.3,295.9 139.2,295.8 140.2,296.6 141.1,296.7 142.1,296.1 143.0,295.9 144.0,296.4 144.9,296.7 145.9,296.8 146.8,295.9 147.8,296.6 148.7,296.7 149.7,296.6" fill="none" stroke="#c8303a" stroke-width="1.00" stroke-opacity="0.25" stroke-linejoin="round"/>
<polyline points="19.5,292.9 20.4,292.9 21.4,293.0 22.3,293.0 23.3,293.1 24.2,293.1 25.2,292.7 26.1,293.0 27.1,293.3 28.0,292.8 29.0,293.5 29.9,293.2 30.9,293.3 31.8,292.8 32.8,292.9 33.7,293.2 34.7,292.8 35.6,292.4 36.6,293.3 37.6,293.2 38.5,292.6 39.5,292.3 40.4,293.1 41.4,292.8 42.3,292.2 43.3,292.3 44.2,292.1 45.2,292.8 46.1,292.1 47.1,292.8 48.0,292.6 49.0,291.8 49.9,292.4 50.9,292.0 51.8,292.3 52.8,292.3 53.7,291.6 54.7,291.3 55.6,292.1 56.6,291.4 57.5,291.9 58.5,291.5 59.4,291.4 60.4,291.4 61.3,291.0 62.3,290.7 63.2,290.2 64.2,290.7 65.1,290.3 66.1,290.3 67.0,290.6 68.0,289.6 68.9,290.1 69.9,289.2 70.8,289.8 71.8,289.8 72.7,289.1 73.7,289.3 74.6,289.6 75.6,289.1 76.5,288.9 77.5,288.5 78.4,288.1 79.4,288.3 80.3,288.1 81.3,287.6 82.2,287.5 83.2,286.9 84.1,287.2 85.1,286.8 86.0,285.8 87.0,285.4 87.9,285.2 88.9,284.5 89.8,284.5 90.8,283.2 91.7,282.4 92.7,282.2 93.6,280.4 94.6,279.8 95.5,278.4 96.5,277.8 97.4,276.1 98.4,274.9 99.3,272.9 100.3,272.3 101.2,272.0 102.2,274.6 103.1,278.2 104.1,281.6 105.0,284.3 106.0,287.8 106.9,290.9 107.9,292.9 108.8,294.2 109.8,295.0 110.7,295.3 111.7,296.1 112.6,296.0 113.6,295.7 114.5,295.9 115.5,296.1 116.4,296.0 117.4,295.8 118.3,295.7 119.3,295.6 120.2,296.7 121.2,296.5 122.1,295.8 123.1,296.5 124.0,296.8 125.0,296.3 125.9,295.8 126.9,296.3 127.8,296.2 128.8,295.9 129.7,296.3 130.7,295.7 131.6,296.7 132.6,296.4 133.5,296.4 134.5,296.8 135.4,296.5 136.4,296.0 137.3,296.0 138.3,295.9 139.2,295.8 140.2,296.6 141.1,296.7 142.1,296.1 143.0,295.9 144.0,296.4 144.9,296.7 145.9,296.8 146.8,295.9 147.8,296.6 148.7,296.7 149.7,296.6" fill="none" marker-mid="url(#mu)" marker-start="url(#mu)" marker-end="url(#mu)" stroke="none"/>
<polyline points="19.5,323.2 20.4,322.9 21.4,323.5 22.3,322.9 23.3,322.8 24.2,322.9 25.2,322.6 26.1,323.0 27.1,322.3 28.0,321.9 29.0,322.4 29.9,322.4 30.9,322.4 31.8,322.2 32.8,322.3 33.7,322.2 34.7,321.6 35.6,321.5 36.6,320.9 37.6,320.9 38.5,321.1 39.5,320.4 40.4,320.9 41.4,320.1 42.3,320.3 43.3,320.7 44.2,319.5 45.2,319.3 46.1,319.6 47.1,319.1 48.0,319.5 49.0,318.5 49.9,319.1 50.9,318.9 51.8,318.6 52.8,317.8 53.7,317.3 54.7,317.0 55.6,315.6 56.6,313.9 57.5,312.7 58.5,311.7 59.4,311.4 60.4,311.9 61.3,313.0 62.3,313.3 63.2,314.8 64.2,316.5 65.1,318.0 66.1,318.7 67.0,319.2 68.0,319.5 68.9,320.1 69.9,320.6 70.8,321.4 71.8,321.6 72.7,321.8 73.7,322.2 74.6,322.5 75.6,322.5 76.5,323.0 77.5,322.4 78.4,323.3 79.4,323.4 80.3,323.2 81.3,323.5 82.2,323.9 83.2,323.2 84.1,323.2 85.1,322.5 86.0,322.3 87.0,322.6 87.9,321.3 88.9,321.2 89.8,321.3 90.8,320.8 91.7,320.0 92.7,320.4 93.6,319.7 94.6,319.7 95.5,319.2 96.5,319.0 97.4,318.7 98.4,318.2 99.3,317.7 100.3,317.6 101.2,318.4 102.2,318.4 103.1,319.1 104.1,321.2 105.0,322.2 106.0,322.8 106.9,323.7 107.9,323.9 108.8,324.4 109.8,324.6 110.7,324.4 111.7,324.9 112.6,324.4 113.6,324.9 114.5,325.1 115.5,324.6 116.4,325.0 117.4,324.6 118.3,325.1 119.3,325.6 120.2,325.2 121.2,325.4 122.1,325.5 123.1,324.8 124.0,325.8 125.0,325.5 125.9,324.9 126.9,325.7 127.8,325.2 128.8,325.0 129.7,325.9 130.7,325.4 131.6,325.7 132.6,325.0 133.5,325.7 134.5,324.9 135.4,325.1 136.4,325.3 137.3,324.9 138.3,325.6 139.2,325.2 140.2,325.3 141.1,325.7 142.1,325.4 143.0,325.9 144.0,325.7 144.9,325.9 145.9,325.6 146.8,326.0 147.8,326.0 148.7,325.2 149.7,325.9" fill="none" stroke="#2b3a9c" stroke-width="2.00" stroke-linejoin="round"/>
<polyline points="19.5,323.2 20.4,322.9 21.4,323.5 22.3,322.9 23.3,322.8 24.2,322.9 25.2,322.6 26.1,323.0 27.1,322.3 28.0,321.9 29.0,322.4 29.9,322.4 30.9,322.4 31.8,322.2 32.8,322.3 33.7,322.2 34.7,321.6 35.6,321.5 36.6,320.9 37.6,320.9 38.5,321.1 39.5,320.4 40.4,320.9 41.4,320.1 42.3,320.3 43.3,320.7 44.2,319.5 45.2,319.3 46.1,319.6 47.1,319.1 48.0,319.5 49.0,318.5 49.9,319.1 50.9,318.9 51.8,318.6 52.8,317.8 53.7,317.3 54.7,317.0 55.6,315.6 56.6,313.9 57.5,312.7 58.5,311.7 59.4,311.4 60.4,311.9 61.3,313.0 62.3,313.3 63.2,314.8 64.2,316.5 65.1,318.0 66.1,318.7 67.0,319.2 68.0,319.5 68.9,320.1 69.9,320.6 70.8,321.4 71.8,321.6 72.7,321.8 73.7,322.2 74.6,322.5 75.6,322.5 76.5,323.0 77.5,322.4 78.4,323.3 79.4,323.4 80.3,323.2 81.3,323.5 82.2,323.9 83.2,323.2 84.1,323.2 85.1,322.5 86.0,322.3 87.0,322.6 87.9,321.3 88.9,321.2 89.8,321.3 90.8,320.8 91.7,320.0 92.7,320.4 93.6,319.7 94.6,319.7 95.5,319.2 96.5,319.0 97.4,318.7 98.4,318.2 99.3,317.7 100.3,317.6 101.2,318.4 102.2,318.4 103.1,319.1 104.1,321.2 105.0,322.2 106.0,322.8 106.9,323.7 107.9,323.9 108.8,324.4 109.8,324.6 110.7,324.4 111.7,324.9 112.6,324.4 113.6,324.9 114.5,325.1 115.5,324.6 116.4,325.0 117.4,324.6 118.3,325.1 119.3,325.6 120.2,325.2 121.2,325.4 122.1,325.5 123.1,324.8 124.0,325.8 125.0,325.5 125.9,324.9 126.9,325.7 127.8,325.2 128.8,325.0 129.7,325.9 130.7,325.4 131.6,325.7 132.6,325.0 133.5,325.7 134.5,324.9 135.4,325.1 136.4,325.3 137.3,324.9 138.3,325.6 139.2,325.2 140.2,325.3 141.1,325.7 142.1,325.4 143.0,325.9 144.0,325.7 144.9,325.9 145.9,325.6 146.8,326.0 147.8,326.0 148.7,325.2 149.7,325.9" fill="none" marker-mid="url(#md)" marker-start="url(#md)" marker-end="url(#md)" stroke="none"/>
<polyline points="19.5,322.8 20.4,323.3 21.4,323.2 22.3,323.4 23.3,322.6 24.2,322.9 25.2,323.3 26.1,323.6 27.1,323.4 28.0,322.6 29.0,323.3 29.9,322.7 30.9,323.2 31.8,323.5 32.8,322.8 33.7,323.7 34.7,323.4 35.6,323.0 36.6,322.9 37.6,323.2 38.5,323.6 39.5,323.4 40.4,322.9 41.4,322.8 42.3,322.9 43.3,323.7 44.2,323.0 45.2,323.4 46.1,323.1 47.1,323.6 48.0,323.3 49.0,323.0 49.9,323.8 50.9,323.4 51.8,323.6 52.8,323.8 53.7,323.9 54.7,322.9 55.6,323.2 56.6,323.0 57.5,323.4 58.5,323.8 59.4,323.7 60.4,322.9 61.3,323.0 62.3,323.7 63.2,323.5 64.2,323.2 65.1,323.3 66.1,322.9 67.0,323.6 68.0,323.1 68.9,323.6 69.9,323.3 70.8,322.7 71.8,322.9 72.7,322.8 73.7,323.4 74.6,323.1 75.6,322.4 76.5,322.5 77.5,322.6 78.4,322.6 79.4,322.7 80.3,322.4 81.3,322.2 82.2,321.7 83.2,322.2 84.1,321.8 85.1,321.3 86.0,321.6 87.0,322.0 87.9,320.8 88.9,320.7 89.8,321.0 90.8,320.3 91.7,320.1 92.7,320.0 93.6,319.4 94.6,319.3 95.5,318.8 96.5,318.6 97.4,317.6 98.4,314.6 99.3,313.7 100.3,312.8 101.2,311.6 102.2,309.6 103.1,307.0 104.1,304.4 105.0,302.2 106.0,302.6 106.9,306.0 107.9,309.0 108.8,313.3 109.8,319.0 110.7,322.1 111.7,324.9 112.6,325.0 113.6,324.9 114.5,325.1 115.5,324.9 116.4,325.2 117.4,325.0 118.3,324.7 119.3,325.0 120.2,325.1 121.2,325.8 122.1,325.3 123.1,325.2 124.0,325.1 125.0,325.1 125.9,325.2 126.9,325.0 127.8,324.9 128.8,325.8 129.7,325.4 130.7,325.4 131.6,325.5 132.6,325.2 133.5,325.1 134.5,325.0 135.4,325.3 136.4,325.3 137.3,325.8 138.3,325.6 139.2,326.0 140.2,325.3 141.1,326.0 142.1,325.6 143.0,325.1 144.0,325.2 144.9,325.6 145.9,326.1 146.8,325.4 147.8,325.9 148.7,325.5 149.7,326.0" fill="none" stroke="#c8303a" stroke-width="1.00" stroke-opacity="0.25" stroke-linejoin="round"/>
<polyline points="19.5,322.8 20.4,323.3 21.4,323.2 22.3,323.4 23.3,322.6 24.2,322.9 25.2,323.3 26.1,323.6 27.1,323.4 28.0,322.6 29.0,323.3 29.9,322.7 30.9,323.2 31.8,323.5 32.8,322.8 33.7,323.7 34.7,323.4 35.6,323.0 36.6,322.9 37.6,323.2 38.5,323.6 39.5,323.4 40.4,322.9 41.4,322.8 42.3,322.9 43.3,323.7 44.2,323.0 45.2,323.4 46.1,323.1 47.1,323.6 48.0,323.3 49.0,323.0 49.9,323.8 50.9,323.4 51.8,323.6 52.8,323.8 53.7,323.9 54.7,322.9 55.6,323.2 56.6,323.0 57.5,323.4 58.5,323.8 59.4,323.7 60.4,322.9 61.3,323.0 62.3,323.7 63.2,323.5 64.2,323.2 65.1,323.3 66.1,322.9 67.0,323.6 68.0,323.1 68.9,323.6 69.9,323.3 70.8,322.7 71.8,322.9 72.7,322.8 73.7,323.4 74.6,323.1 75.6,322.4 76.5,322.5 77.5,322.6 78.4,322.6 79.4,322.7 80.3,322.4 81.3,322.2 82.2,321.7 83.2,322.2 84.1,321.8 85.1,321.3 86.0,321.6 87.0,322.0 87.9,320.8 88.9,320.7 89.8,321.0 90.8,320.3 91.7,320.1 92.7,320.0 93.6,319.4 94.6,319.3 95.5,318.8 96.5,318.6 97.4,317.6 98.4,314.6 99.3,313.7 100.3,312.8 101.2,311.6 102.2,309.6 103.1,307.0 104.1,304.4 105.0,302.2 106.0,302.6 106.9,306.0 107.9,309.0 108.8,313.3 109.8,319.0 110.7,322.1 111.7,324.9 112.6,325.0 113.6,324.9 114.5,325.1 115.5,324.9 116.4,325.2 117.4,325.0 118.3,324.7 119.3,325.0 120.2,325.1 121.2,325.8 122.1,325.3 123.1,325.2 124.0,325.1 125.0,325.1 125.9,325.2 126.9,325.0 127.8,324.9 128.8,325.8 129.7,325.4 130.7,325.4 131.6,325.5 132.6,325.2 133.5,325.1 134.5,325.0 135.4,325.3 136.4,325.3 137.3,325.8 138.3,325.6 139.2,326.0 140.2,325.3 141.1,326.0 142.1,325.6 143.0,325.1 144.0,325.2 144.9,325.6 145.9,326.1 146.8,325.4 147.8,325.9 148.7,325.5 149.7,326.0" fill="none" marker-mid="url(#mu)" marker-start="url(#mu)" marker-end="url(#mu)" stroke="none"/>
<polyline points="19.5,351.7 20.4,351.8 21.4,351.9 22.3,350.9 23.3,350.5 24.2,349.9 25.2,349.7 26.1,349.6 27.1,349.9 28.0,349.2 29.0,349.4 29.9,349.3 30.9,350.1 31.8,350.7 32.8,350.8 33.7,350.7 34.7,351.6 35.6,352.1 36.6,351.8 37.6,351.2 38.5,351.9 39.5,351.8 40.4,351.0 41.4,350.5 42.3,350.3 43.3,350.4 44.2,350.5 45.2,349.9 46.1,349.8 47.1,348.6 48.0,348.4 49.0,348.4 49.9,347.8 50.9,346.9 51.8,346.5 52.8,345.3 53.7,344.2 54.7,344.0 55.6,342.8 56.6,342.8 57.5,341.9 58.5,341.7 59.4,341.9 60.4,342.2 61.3,343.2 62.3,343.9 63.2,345.9 64.2,346.3 65.1,347.5 66.1,347.3 67.0,348.7 68.0,349.5 68.9,349.8 69.9,350.1 70.8,350.6 71.8,351.0 72.7,351.9 73.7,351.4 74.6,352.3 75.6,352.0 76.5,352.2 77.5,352.3 78.4,352.3 79.4,352.4 80.3,352.3 81.3,352.0 82.2,352.4 83.2,351.8 84.1,352.3 85.1,352.3 86.0,352.2 87.0,351.6 87.9,352.0 88.9,352.2 89.8,351.5 90.8,351.0 91.7,351.0 92.7,351.1 93.6,349.7 94.6,349.1 95.5,349.3 96.5,349.1 97.4,348.7 98.4,347.8 99.3,348.1 100.3,347.0 101.2,347.7 102.2,347.7 103.1,349.0 104.1,350.2 105.0,351.3 106.0,352.6 106.9,353.4 107.9,353.9 108.8,355.0 109.8,354.5 110.7,354.4 111.7,354.5 112.6,355.2 113.6,355.5 114.5,354.7 115.5,354.6 116.4,355.5 117.4,354.9 118.3,355.7 119.3,355.2 120.2,355.4 121.2,355.1 122.1,355.6 123.1,355.2 124.0,355.1 125.0,355.8 125.9,354.9 126.9,355.6 127.8,354.9 128.8,355.5 129.7,355.3 130.7,355.8 131.6,354.9 132.6,355.5 133.5,355.3 134.5,355.9 135.4,355.9 136.4,355.6 137.3,355.1 138.3,355.2 139.2,355.2 140.2,355.4 141.1,355.1 142.1,355.1 143.0,355.7 144.0,355.6 144.9,355.2 145.9,356.0 146.8,355.2 147.8,355.6 148.7,355.1 149.7,355.9" fill="none" stroke="#2b3a9c" stroke-width="2.00" stroke-linejoin="round"/>
<polyline points="19.5,351.7 20.4,351.8 21.4,351.9 22.3,350.9 23.3,350.5 24.2,349.9 25.2,349.7 26.1,349.6 27.1,349.9 28.0,349.2 29.0,349.4 29.9,349.3 30.9,350.1 31.8,350.7 32.8,350.8 33.7,350.7 34.7,351.6 35.6,352.1 36.6,351.8 37.6,351.2 38.5,351.9 39.5,351.8 40.4,351.0 41.4,350.5 42.3,350.3 43.3,350.4 44.2,350.5 45.2,349.9 46.1,349.8 47.1,348.6 48.0,348.4 49.0,348.4 49.9,347.8 50.9,346.9 51.8,346.5 52.8,345.3 53.7,344.2 54.7,344.0 55.6,342.8 56.6,342.8 57.5,341.9 58.5,341.7 59.4,341.9 60.4,342.2 61.3,343.2 62.3,343.9 63.2,345.9 64.2,346.3 65.1,347.5 66.1,347.3 67.0,348.7 68.0,349.5 68.9,349.8 69.9,350.1 70.8,350.6 71.8,351.0 72.7,351.9 73.7,351.4 74.6,352.3 75.6,352.0 76.5,352.2 77.5,352.3 78.4,352.3 79.4,352.4 80.3,352.3 81.3,352.0 82.2,352.4 83.2,351.8 84.1,352.3 85.1,352.3 86.0,352.2 87.0,351.6 87.9,352.0 88.9,352.2 89.8,351.5 90.8,351.0 91.7,351.0 92.7,351.1 93.6,349.7 94.6,349.1 95.5,349.3 96.5,349.1 97.4,348.7 98.4,347.8 99.3,348.1 100.3,347.0 101.2,347.7 102.2,347.7 103.1,349.0 104.1,350.2 105.0,351.3 106.0,352.6 106.9,353.4 107.9,353.9 108.8,355.0 109.8,354.5 110.7,354.4 111.7,354.5 112.6,355.2 113.6,355.5 114.5,354.7 115.5,354.6 116.4,355.5 117.4,354.9 118.3,355.7 119.3,355.2 120.2,355.4 121.2,355.1 122.1,355.6 123.1,355.2 124.0,355.1 125.0,355.8 125.9,354.9 126.9,355.6 127.8,354.9 128.8,355.5 129.7,355.3 130.7,355.8 131.6,354.9 132.6,355.5 133.5,355.3 134.5,355.9 135.4,355.9 136.4,355.6 137.3,355.1 138.3,355.2 139.2,355.2 140.2,355.4 141.1,355.1 142.1,355.1 143.0,355.7 144.0,355.6 144.9,355.2 145.9,356.0 146.8,355.2 147.8,355.6 148.7,355.1 149.7,355.9" fill="none" marker-mid="url(#md)" marker-start="url(#md)" marker-end="url(#md)" stroke="none"/>
<polyline points="19.5,353.2 20.4,352.5 21.4,353.1 22.3,353.2 23.3,352.6 24.2,352.6 25.2,352.8 26.1,353.2 27.1,352.4 28.0,353.0 29.0,352.9 29.9,352.8 30.9,352.9 31.8,353.2 32.8,352.5 33.7,353.3 34.7,352.7 35.6,353.1 36.6,353.2 37.6,352.5 38.5,353.2 39.5,353.4 40.4,352.6 41.4,352.3 42.3,352.4 43.3,353.4 44.2,352.3 45.2,353.3 46.1,352.5 47.1,353.1 48.0,352.4 49.0,352.5 49.9,353.0 50.9,352.4 51.8,352.7 52.8,353.3 53.7,353.1 54.7,353.3 55.6,353.4 56.6,352.3 57.5,352.5 58.5,353.1 59.4,353.0 60.4,352.3 61.3,352.8 62.3,352.5 63.2,352.7 64.2,352.3 65.1,352.2 66.1,353.3 67.0,352.5 68.0,353.1 68.9,352.3 69.9,352.7 70.8,352.3 71.8,352.6 72.7,352.3 73.7,352.8 74.6,352.2 75.6,352.8 76.5,352.5 77.5,352.1 78.4,352.3 79.4,352.4 80.3,352.8 81.3,352.1 82.2,351.8 83.2,352.6 84.1,352.4 85.1,352.1 86.0,351.5 87.0,351.3 87.9,351.3 88.9,350.9 89.8,350.8 90.8,351.1 91.7,350.7 92.7,350.6 93.6,350.1 94.6,349.3 95.5,349.4 96.5,348.6 97.4,347.1 98.4,344.9 99.3,342.5 100.3,340.9 101.2,338.6 102.2,336.2 103.1,333.9 104.1,332.6 105.0,333.1 106.0,336.0 106.9,337.8 107.9,340.5 108.8,343.9 109.8,348.4 110.7,352.2 111.7,353.9 112.6,354.8 113.6,355.3 114.5,354.7 115.5,355.2 116.4,355.0 117.4,354.9 118.3,354.9 119.3,354.8 120.2,355.7 121.2,355.6 122.1,355.8 123.1,354.9 124.0,355.6 125.0,355.2 125.9,355.6 126.9,355.5 127.8,355.2 128.8,355.9 129.7,354.9 130.7,355.7 131.6,355.8 132.6,355.5 133.5,355.6 134.5,356.0 135.4,355.2 136.4,355.6 137.3,355.7 138.3,355.3 139.2,355.7 140.2,355.4 141.1,355.5 142.1,355.6 143.0,355.7 144.0,355.3 144.9,355.6 145.9,355.5 146.8,355.2 147.8,355.6 148.7,355.2 149.7,355.9" fill="none" stroke="#c8303a" stroke-width="1.00" stroke-opacity="0.25" stroke-linejoin="round"/>
<polyline points="19.5,353.2 20.4,352.5 21.4,353.1 22.3,353.2 23.3,352.6 24.2,352.6 25.2,352.8 26.1,353.2 27.1,352.4 28.0,353.0 29.0,352.9 29.9,352.8 30.9,352.9 31.8,353.2 32.8,352.5 33.7,353.3 34.7,352.7 35.6,353.1 36.6,353.2 37.6,352.5 38.5,353.2 39.5,353.4 40.4,352.6 41.4,352.3 42.3,352.4 43.3,353.4 44.2,352.3 45.2,353.3 46.1,352.5 47.1,353.1 48.0,352.4 49.0,352.5 49.9,353.0 50.9,352.4 51.8,352.7 52.8,353.3 53.7,353.1 54.7,353.3 55.6,353.4 56.6,352.3 57.5,352.5 58.5,353.1 59.4,353.0 60.4,352.3 61.3,352.8 62.3,352.5 63.2,352.7 64.2,352.3 65.1,352.2 66.1,353.3 67.0,352.5 68.0,353.1 68.9,352.3 69.9,352.7 70.8,352.3 71.8,352.6 72.7,352.3 73.7,352.8 74.6,352.2 75.6,352.8 76.5,352.5 77.5,352.1 78.4,352.3 79.4,352.4 80.3,352.8 81.3,352.1 82.2,351.8 83.2,352.6 84.1,352.4 85.1,352.1 86.0,351.5 87.0,351.3 87.9,351.3 88.9,350.9 89.8,350.8 90.8,351.1 91.7,350.7 92.7,350.6 93.6,350.1 94.6,349.3 95.5,349.4 96.5,348.6 97.4,347.1 98.4,344.9 99.3,342.5 100.3,340.9 101.2,338.6 102.2,336.2 103.1,333.9 104.1,332.6 105.0,333.1 106.0,336.0 106.9,337.8 107.9,340.5 108.8,343.9 109.8,348.4 110.7,352.2 111.7,353.9 112.6,354.8 113.6,355.3 114.5,354.7 115.5,355.2 116.4,355.0 117.4,354.9 118.3,354.9 119.3,354.8 120.2,355.7 121.2,355.6 122.1,355.8 123.1,354.9 124.0,355.6 125.0,355.2 125.9,355.6 126.9,355.5 127.8,355.2 128.8,355.9 129.7,354.9 130.7,355.7 131.6,355.8 132.6,355.5 133.5,355.6 134.5,356.0 135.4,355.2 136.4,355.6 137.3,355.7 138.3,355.3 139.2,355.7 140.2,355.4 141.1,355.5 142.1,355.6 143.0,355.7 144.0,355.3 144.9,355.6 145.9,355.5 146.8,355.2 147.8,355.6 148.7,355.2 149.7,355.9" fill="none" marker-mid="url(#mu)" marker-start="url(#mu)" marker-end="url(#mu)" stroke="none"/>
<polyline points="19.5,371.7 20.4,372.6 21.4,372.9 22.3,373.5 23.3,373.8 24.2,374.2 25.2,375.7 26.1,375.8 27.1,376.3 28.0,376.6 29.0,377.0 29.9,376.3 30.9,376.0 31.8,376.5 32.8,375.8 33.7,375.7 34.7,375.6 35.6,375.3 36.6,374.8 37.6,373.5 38.5,373.6 39.5,373.9 40.4,373.7 41.4,372.9 42.3,372.9 43.3,373.0 44.2,372.8 45.2,373.0 46.1,373.5 47.1,373.2 48.0,373.1 49.0,372.6 49.9,372.9 50.9,373.4 51.8,372.9 52.8,372.2 53.7,371.8 54.7,371.5 55.6,370.9 56.6,369.6 57.5,369.4 58.5,368.5 59.4,368.4 60.4,368.5 61.3,369.7 62.3,370.9 63.2,372.1 64.2,373.0 65.1,374.4 66.1,375.6 67.0,375.6 68.0,376.1 68.9,377.0 69.9,376.8 70.8,377.1 71.8,377.3 72.7,378.1 73.7,377.5 74.6,378.3 75.6,378.6 76.5,378.0 77.5,378.3 78.4,378.8 79.4,378.5 80.3,378.1 81.3,377.5 82.2,377.6 83.2,377.1 84.1,376.9 85.1,375.9 86.0,375.4 87.0,375.0 87.9,374.6 88.9,373.6 89.8,373.0 90.8,372.5 91.7,372.1 92.7,370.7 93.6,371.2 94.6,370.9 95.5,371.1 96.5,372.5 97.4,373.2 98.4,373.8 99.3,375.4 100.3,375.9 101.2,376.8 102.2,377.6 103.1,378.9 104.1,379.6 105.0,379.6 106.0,381.0 106.9,381.5 107.9,382.0 108.8,382.9 109.8,382.9 110.7,383.3 111.7,384.0 112.6,383.6 113.6,383.8 114.5,383.8 115.5,384.2 116.4,384.1 117.4,384.3 118.3,383.9 119.3,383.6 120.2,384.3 121.2,384.2 122.1,384.5 123.1,384.5 124.0,383.8 125.0,383.9 125.9,383.8 126.9,384.6 127.8,383.9 128.8,383.9 129.7,384.6 130.7,384.4 131.6,383.9 132.6,384.6 133.5,384.6 134.5,384.4 135.4,383.9 136.4,384.6 137.3,384.4 138.3,384.5 139.2,385.0 140.2,384.8 141.1,384.9 142.1,384.1 143.0,384.3 144.0,384.5 144.9,384.0 145.9,385.1 146.8,384.3 147.8,384.3 148.7,384.4 149.7,384.3" fill="none" stroke="#2b3a9c" stroke-width="2.00" stroke-linejoin="round"/>
<polyline points="19.5,371.7 20.4,372.6 21.4,372.9 22.3,373.5 23.3,373.8 24.2,374.2 25.2,375.7 26.1,375.8 27.1,376.3 28.0,376.6 29.0,377.0 29.9,376.3 30.9,376.0 31.8,376.5 32.8,375.8 33.7,375.7 34.7,375.6 35.6,375.3 36.6,374.8 37.6,373.5 38.5,373.6 39.5,373.9 40.4,373.7 41.4,372.9 42.3,372.9 43.3,373.0 44.2,372.8 45.2,373.0 46.1,373.5 47.1,373.2 48.0,373.1 49.0,372.6 49.9,372.9 50.9,373.4 51.8,372.9 52.8,372.2 53.7,371.8 54.7,371.5 55.6,370.9 56.6,369.6 57.5,369.4 58.5,368.5 59.4,368.4 60.4,368.5 61.3,369.7 62.3,370.9 63.2,372.1 64.2,373.0 65.1,374.4 66.1,375.6 67.0,375.6 68.0,376.1 68.9,377.0 69.9,376.8 70.8,377.1 71.8,377.3 72.7,378.1 73.7,377.5 74.6,378.3 75.6,378.6 76.5,378.0 77.5,378.3 78.4,378.8 79.4,378.5 80.3,378.1 81.3,377.5 82.2,377.6 83.2,377.1 84.1,376.9 85.1,375.9 86.0,375.4 87.0,375.0 87.9,374.6 88.9,373.6 89.8,373.0 90.8,372.5 91.7,372.1 92.7,370.7 93.6,371.2 94.6,370.9 95.5,371.1 96.5,372.5 97.4,373.2 98.4,373.8 99.3,375.4 100.3,375.9 101.2,376.8 102.2,377.6 103.1,378.9 104.1,379.6 105.0,379.6 106.0,381.0 106.9,381.5 107.9,382.0 108.8,382.9 109.8,382.9 110.7,383.3 111.7,384.0 112.6,383.6 113.6,383.8 114.5,383.8 115.5,384.2 116.4,384.1 117.4,384.3 118.3,383.9 119.3,383.6 120.2,384.3 121.2,384.2 122.1,384.5 123.1,384.5 124.0,383.8 125.0,383.9 125.9,383.8 126.9,384.6 127.8,383.9 128.8,383.9 129.7,384.6 130.7,384.4 131.6,383.9 132.6,384.6 133.5,384.6 134.5,384.4 135.4,383.9 136.4,384.6 137.3,384.4 138.3,384.5 139.2,385.0 140.2,384.8 141.1,384.9 142.1,384.1 143.0,384.3 144.0,384.5 144.9,384.0 145.9,385.1 146.8,384.3 147.8,384.3 148.7,384.4 149.7,384.3" fill="none" marker-mid="url(#md)" marker-start="url(#md)" marker-end="url(#md)" stroke="none"/>
<polyline points="19.5,381.2 20.4,380.8 21.4,380.7 22.3,380.5 23.3,380.0 24.2,380.2 25.2,380.8 26.1,380.7 27.1,380.6 28.0,379.9 29.0,379.8 29.9,379.6 30.9,380.1 31.8,379.8 32.8,379.9 33.7,379.9 34.7,379.9 35.6,379.7 36.6,380.1 37.6,379.5 38.5,380.3 39.5,379.9 40.4,379.3 41.4,379.7 42.3,379.9 43.3,379.8 44.2,380.1 45.2,379.8 46.1,379.8 47.1,380.5 48.0,380.0 49.0,380.5 49.9,380.6 50.9,380.4 51.8,380.3 52.8,380.9 53.7,380.4 54.7,380.9 55.6,380.0 56.6,380.4 57.5,380.6 58.5,379.9 59.4,380.8 60.4,379.9 61.3,380.4 62.3,379.9 63.2,380.7 64.2,380.2 65.1,380.4 66.1,380.0 67.0,380.1 68.0,380.0 68.9,379.5 69.9,379.4 70.8,379.9 71.8,379.1 72.7,379.8 73.7,378.9 74.6,378.7 75.6,378.5 76.5,379.2 77.5,379.2 78.4,378.4 79.4,378.5 80.3,377.9 81.3,378.4 82.2,377.9 83.2,377.0 84.1,376.6 85.1,376.9 86.0,375.7 87.0,376.1 87.9,375.0 88.9,374.3 89.8,374.0 90.8,373.0 91.7,372.6 92.7,371.5 93.6,371.7 94.6,370.3 95.5,370.1 96.5,368.5 97.4,368.3 98.4,367.8 99.3,366.3 100.3,365.1 101.2,365.0 102.2,365.3 103.1,365.1 104.1,366.0 105.0,366.3 106.0,367.8 106.9,370.0 107.9,372.7 108.8,376.4 109.8,378.3 110.7,380.8 111.7,381.2 112.6,382.7 113.6,383.4 114.5,383.9 115.5,383.8 116.4,383.7 117.4,383.8 118.3,384.4 119.3,384.2 120.2,384.7 121.2,383.8 122.1,384.3 123.1,384.7 124.0,384.5 125.0,384.4 125.9,383.9 126.9,384.0 127.8,384.2 128.8,384.9 129.7,384.8 130.7,384.2 131.6,384.9 132.6,384.0 133.5,384.6 134.5,385.0 135.4,384.3 136.4,385.0 137.3,384.7 138.3,384.0 139.2,384.3 140.2,384.5 141.1,384.3 142.1,384.8 143.0,384.2 144.0,384.9 144.9,384.3 145.9,384.1 146.8,384.6 147.8,384.1 148.7,384.6 149.7,384.9" fill="none" stroke="#c8303a" stroke-width="1.00" stroke-opacity="0.25" stroke-linejoin="round"/>
<polyline points="19.5,381.2 20.4,380.8 21.4,380.7 22.3,380.5 23.3,380.0 24.2,380.2 25.2,380.8 26.1,380.7 27.1,380.6 28.0,379.9 29.0,379.8 29.9,379.6 30.9,380.1 31.8,379.8 32.8,379.9 33.7,379.9 34.7,379.9 35.6,379.7 36.6,380.1 37.6,379.5 38.5,380.3 39.5,379.9 40.4,379.3 41.4,379.7 42.3,379.9 43.3,379.8 44.2,380.1 45.2,379.8 46.1,379.8 47.1,380.5 48.0,380.0 49.0,380.5 49.9,380.6 50.9,380.4 51.8,380.3 52.8,380.9 53.7,380.4 54.7,380.9 55.6,380.0 56.6,380.4 57.5,380.6 58.5,379.9 59.4,380.8 60.4,379.9 61.3,380.4 62.3,379.9 63.2,380.7 64.2,380.2 65.1,380.4 66.1,380.0 67.0,380.1 68.0,380.0 68.9,379.5 69.9,379.4 70.8,379.9 71.8,379.1 72.7,379.8 73.7,378.9 74.6,378.7 75.6,378.5 76.5,379.2 77.5,379.2 78.4,378.4 79.4,378.5 80.3,377.9 81.3,378.4 82.2,377.9 83.2,377.0 84.1,376.6 85.1,376.9 86.0,375.7 87.0,376.1 87.9,375.0 88.9,374.3 89.8,374.0 90.8,373.0 91.7,372.6 92.7,371.5 93.6,371.7 94.6,370.3 95.5,370.1 96.5,368.5 97.4,368.3 98.4,367.8 99.3,366.3 100.3,365.1 101.2,365.0 102.2,365.3 103.1,365.1 104.1,366.0 105.0,366.3 106.0,367.8 106.9,370.0 107.9,372.7 108.8,376.4 109.8,378.3 110.7,380.8 111.7,381.2 112.6,382.7 113.6,383.4 114.5,383.9 115.5,383.8 116.4,383.7 117.4,383.8 118.3,384.4 119.3,384.2 120.2,384.7 121.2,383.8 122.1,384.3 123.1,384.7 124.0,384.5 125.0,384.4 125.9,383.9 126.9,384.0 127.8,384.2 128.8,384.9 129.7,384.8 130.7,384.2 131.6,384.9 132.6,384.0 133.5,384.6 134.5,385.0 135.4,384.3 136.4,385.0 137.3,384.7 138.3,384.0 139.2,384.3 140.2,384.5 141.1,384.3 142.1,384.8 143.0,384.2 144.0,384.9 144.9,384.3 145.9,384.1 146.8,384.6 147.8,384.1 148.7,384.6 149.7,384.9" fill="none" marker-mid="url(#mu)" marker-start="url(#mu)" marker-end="url(#mu)" stroke="none"/>
<circle cx="94.0" cy="82.3" r="1.6" fill="#fff" fill-opacity="0.6" stroke="#222" stroke-width="0.6"/>
<circle cx="100.7" cy="111.6" r="1.6" fill="#fff" fill-opacity="0.6" stroke="#222" stroke-width="0.6"/>
<circle cx="94.5" cy="144.5" r="1.6" fill="#fff" fill-opacity="0.6" stroke="#222" stroke-width="0.6"/>
<circle cx="89.6" cy="260.6" r="1.6" fill="#fff" fill-opacity="0.6" stroke="#222" stroke-width="0.6"/>
<circle cx="94.7" cy="291.1" r="1.6" fill="#fff" fill-opacity="0.6" stroke="#222" stroke-width="0.6"/>
<circle cx="100.2" cy="323.4" r="1.6" fill="#fff" fill-opacity="0.6" stroke="#222" stroke-width="0.6"/>
<circle cx="98.9" cy="352.8" r="1.6" fill="#fff" fill-opacity="0.6" stroke="#222" stroke-width="0.6"/>
<circle cx="96.2" cy="375.1" r="1.6" fill="#fff" fill-opacity="0.6" stroke="#222" stroke-width="0.6"/>
<line x1="57.8" y1="35.5" x2="57.8" y2="39.8" stroke="#111" stroke-width="1.2"/>
<line x1="35.0" y1="60.6" x2="35.0" y2="64.6" stroke="#111" stroke-width="1.2"/>
<line x1="59.5" y1="67.8" x2="59.5" y2="72.0" stroke="#111" stroke-width="1.2"/>
<line x1="101.8" y1="68.9" x2="101.8" y2="73.2" stroke="#111" stroke-width="1.2"/>
<line x1="47.3" y1="99.0" x2="47.3" y2="103.2" stroke="#111" stroke-width="1.2"/>
<line x1="58.4" y1="98.3" x2="58.4" y2="102.5" stroke="#111" stroke-width="1.2"/>
<line x1="73.3" y1="103.4" x2="73.3" y2="107.6" stroke="#111" stroke-width="1.2"/>
<line x1="103.0" y1="95.6" x2="103.0" y2="99.8" stroke="#111" stroke-width="1.2"/>
<line x1="64.0" y1="116.0" x2="64.0" y2="120.4" stroke="#111" stroke-width="1.2"/>
<line x1="75.1" y1="132.8" x2="75.1" y2="137.0" stroke="#111" stroke-width="1.2"/>
<line x1="101.8" y1="124.0" x2="101.8" y2="128.2" stroke="#111" stroke-width="1.2"/>
<line x1="76.2" y1="146.2" x2="76.2" y2="150.4" stroke="#111" stroke-width="1.2"/>
<line x1="81.3" y1="151.7" x2="81.3" y2="155.9" stroke="#111" stroke-width="1.2"/>
<line x1="89.1" y1="155.0" x2="89.1" y2="159.2" stroke="#111" stroke-width="1.2"/>
<line x1="78.4" y1="172.3" x2="78.4" y2="176.5" stroke="#111" stroke-width="1.2"/>
<line x1="75.5" y1="204.5" x2="75.5" y2="208.5" stroke="#111" stroke-width="1.2"/>
<line x1="80.6" y1="205.4" x2="80.6" y2="209.4" stroke="#111" stroke-width="1.2"/>
<line x1="89.0" y1="209.2" x2="89.0" y2="213.2" stroke="#111" stroke-width="1.2"/>
<line x1="72.1" y1="240.4" x2="72.1" y2="244.4" stroke="#111" stroke-width="1.2"/>
<line x1="81.6" y1="243.8" x2="81.6" y2="247.8" stroke="#111" stroke-width="1.2"/>
<line x1="93.9" y1="237.5" x2="93.9" y2="241.5" stroke="#111" stroke-width="1.2"/>
<line x1="64.4" y1="270.4" x2="64.4" y2="274.6" stroke="#111" stroke-width="1.2"/>
<line x1="73.3" y1="281.3" x2="73.3" y2="285.5" stroke="#111" stroke-width="1.2"/>
<line x1="105.8" y1="297.4" x2="105.8" y2="301.6" stroke="#111" stroke-width="1.2"/>
<line x1="61.7" y1="303.2" x2="61.7" y2="307.4" stroke="#111" stroke-width="1.2"/>
<line x1="74.0" y1="314.0" x2="74.0" y2="318.2" stroke="#111" stroke-width="1.2"/>
<line x1="106.2" y1="326.4" x2="106.2" y2="330.6" stroke="#111" stroke-width="1.2"/>
<line x1="50.2" y1="338.2" x2="50.2" y2="342.4" stroke="#111" stroke-width="1.2"/>
<line x1="59.1" y1="335.2" x2="59.1" y2="339.4" stroke="#111" stroke-width="1.2"/>
<line x1="102.2" y1="356.8" x2="102.2" y2="361.0" stroke="#111" stroke-width="1.2"/>
<line x1="39.5" y1="365.0" x2="39.5" y2="369.2" stroke="#111" stroke-width="1.2"/>
<line x1="61.3" y1="361.8" x2="61.3" y2="366.0" stroke="#111" stroke-width="1.2"/>
<path d="M17.6,18.5 L152.8,18.5 L152.8,391.8" fill="none" stroke="#777" stroke-width="1.5"/>
<path d="M152.8,18.5 L17.6,18.5 L17.6,391.8 L152.8,391.8" fill="none" stroke="#222" stroke-width="1.2"/>
<line x1="150.8" y1="18.5" x2="150.8" y2="22.1" stroke="#222" stroke-width="1.0"/>
<line x1="150.8" y1="388.2" x2="150.8" y2="391.8" stroke="#222" stroke-width="1.0"/>
<line x1="145.5" y1="18.5" x2="145.5" y2="24.3" stroke="#222" stroke-width="1.0"/>
<line x1="145.5" y1="386.0" x2="145.5" y2="391.8" stroke="#222" stroke-width="1.0"/>
<line x1="140.2" y1="18.5" x2="140.2" y2="22.1" stroke="#222" stroke-width="1.0"/>
<line x1="140.2" y1="388.2" x2="140.2" y2="391.8" stroke="#222" stroke-width="1.0"/>
<line x1="134.9" y1="18.5" x2="134.9" y2="22.1" stroke="#222" stroke-width="1.0"/>
<line x1="134.9" y1="388.2" x2="134.9" y2="391.8" stroke="#222" stroke-width="1.0"/>
<line x1="129.6" y1="18.5" x2="129.6" y2="22.1" stroke="#222" stroke-width="1.0"/>
<line x1="129.6" y1="388.2" x2="129.6" y2="391.8" stroke="#222" stroke-width="1.0"/>
<line x1="124.3" y1="18.5" x2="124.3" y2="22.1" stroke="#222" stroke-width="1.0"/>
<line x1="124.3" y1="388.2" x2="124.3" y2="391.8" stroke="#222" stroke-width="1.0"/>
<line x1="119.0" y1="18.5" x2="119.0" y2="24.3" stroke="#222" stroke-width="1.0"/>
<line x1="119.0" y1="386.0" x2="119.0" y2="391.8" stroke="#222" stroke-width="1.0"/>
<line x1="113.6" y1="18.5" x2="113.6" y2="22.1" stroke="#222" stroke-width="1.0"/>
<line x1="113.6" y1="388.2" x2="113.6" y2="391.8" stroke="#222" stroke-width="1.0"/>
<line x1="108.3" y1="18.5" x2="108.3" y2="22.1" stroke="#222" stroke-width="1.0"/>
<line x1="108.3" y1="388.2" x2="108.3" y2="391.8" stroke="#222" stroke-width="1.0"/>
<line x1="103.0" y1="18.5" x2="103.0" y2="22.1" stroke="#222" stroke-width="1.0"/>
<line x1="103.0" y1="388.2" x2="103.0" y2="391.8" stroke="#222" stroke-width="1.0"/>
<line x1="97.7" y1="18.5" x2="97.7" y2="22.1" stroke="#222" stroke-width="1.0"/>
<line x1="97.7" y1="388.2" x2="97.7" y2="391.8" stroke="#222" stroke-width="1.0"/>
<line x1="92.4" y1="18.5" x2="92.4" y2="24.3" stroke="#222" stroke-width="1.0"/>
<line x1="92.4" y1="386.0" x2="92.4" y2="391.8" stroke="#222" stroke-width="1.0"/>
<line x1="87.1" y1="18.5" x2="87.1" y2="22.1" stroke="#222" stroke-width="1.0"/>
<line x1="87.1" y1="388.2" x2="87.1" y2="391.8" stroke="#222" stroke-width="1.0"/>
<line x1="81.8" y1="18.5" x2="81.8" y2="22.1" stroke="#222" stroke-width="1.0"/>
<line x1="81.8" y1="388.2" x2="81.8" y2="391.8" stroke="#222" stroke-width="1.0"/>
<line x1="76.5" y1="18.5" x2="76.5" y2="22.1" stroke="#222" stroke-width="1.0"/>
<line x1="76.5" y1="388.2" x2="76.5" y2="391.8" stroke="#222" stroke-width="1.0"/>
<line x1="71.2" y1="18.5" x2="71.2" y2="22.1" stroke="#222" stroke-width="1.0"/>
<line x1="71.2" y1="388.2" x2="71.2" y2="391.8" stroke="#222" stroke-width="1.0"/>
<line x1="65.8" y1="18.5" x2="65.8" y2="24.3" stroke="#222" stroke-width="1.0"/>
<line x1="65.8" y1="386.0" x2="65.8" y2="391.8" stroke="#222" stroke-width="1.0"/>
<line x1="60.5" y1="18.5" x2="60.5" y2="22.1" stroke="#222" stroke-width="1.0"/>
<line x1="60.5" y1="388.2" x2="60.5" y2="391.8" stroke="#222" stroke-width="1.0"/>
<line x1="55.2" y1="18.5" x2="55.2" y2="22.1" stroke="#222" stroke-width="1.0"/>
<line x1="55.2" y1="388.2" x2="55.2" y2="391.8" stroke="#222" stroke-width="1.0"/>
<line x1="49.9" y1="18.5" x2="49.9" y2="22.1" stroke="#222" stroke-width="1.0"/>
<line x1="49.9" y1="388.2" x2="49.9" y2="391.8" stroke="#222" stroke-width="1.0"/>
<line x1="44.6" y1="18.5" x2="44.6" y2="22.1" stroke="#222" stroke-width="1.0"/>
<line x1="44.6" y1="388.2" x2="44.6" y2="391.8" stroke="#222" stroke-width="1.0"/>
<line x1="39.3" y1="18.5" x2="39.3" y2="24.3" stroke="#222" stroke-width="1.0"/>
<line x1="39.3" y1="386.0" x2="39.3" y2="391.8" stroke="#222" stroke-width="1.0"/>
<line x1="34.0" y1="18.5" x2="34.0" y2="22.1" stroke="#222" stroke-width="1.0"/>
<line x1="34.0" y1="388.2" x2="34.0" y2="391.8" stroke="#222" stroke-width="1.0"/>
<line x1="28.7" y1="18.5" x2="28.7" y2="22.1" stroke="#222" stroke-width="1.0"/>
<line x1="28.7" y1="388.2" x2="28.7" y2="391.8" stroke="#222" stroke-width="1.0"/>
<line x1="23.4" y1="18.5" x2="23.4" y2="22.1" stroke="#222" stroke-width="1.0"/>
<line x1="23.4" y1="388.2" x2="23.4" y2="391.8" stroke="#222" stroke-width="1.0"/>
<path d="M101.8,26.4 L104.6,31.4 L99,31.4 Z" fill="none" stroke="#c8303a" stroke-width="1.1"/>
<path d="M98.8,36.2 L104.8,36.2 L101.8,41.6 Z" fill="#2b3a9c"/>
<text x="108.5" y="31.7" font-size="9.8" text-anchor="start" >spin-up</text>
<text x="108.5" y="41.3" font-size="9.8" text-anchor="start" >spin-down</text>
<text x="154.8" y="63.8" font-size="9.7" transform="translate(154.8,0) scale(0.94,1) translate(-154.8,0)">6.8°</text>
<text x="154.8" y="93.0" font-size="9.7" transform="translate(154.8,0) scale(0.94,1) translate(-154.8,0)">5.3°</text>
<text x="154.8" y="122.6" font-size="9.7" transform="translate(154.8,0) scale(0.94,1) translate(-154.8,0)">3.8°</text>
<text x="154.8" y="152.0" font-size="9.7" transform="translate(154.8,0) scale(0.94,1) translate(-154.8,0)">2.3°</text>
<text x="154.8" y="181.6" font-size="9.7" transform="translate(154.8,0) scale(0.94,1) translate(-154.8,0)">0.7°</text>
<text x="154.8" y="211.0" font-size="9.7" transform="translate(154.8,0) scale(0.94,1) translate(-154.8,0)">0°</text>
<text x="154.8" y="240.6" font-size="9.7" transform="translate(154.8,0) scale(0.94,1) translate(-154.8,0)">−0.7°</text>
<text x="154.8" y="270.0" font-size="9.7" transform="translate(154.8,0) scale(0.94,1) translate(-154.8,0)">−1.3°</text>
<text x="154.8" y="299.6" font-size="9.7" transform="translate(154.8,0) scale(0.94,1) translate(-154.8,0)">−2.3°</text>
<text x="154.8" y="329.0" font-size="9.7" transform="translate(154.8,0) scale(0.94,1) translate(-154.8,0)">−3.3°</text>
<text x="154.8" y="358.6" font-size="9.7" transform="translate(154.8,0) scale(0.94,1) translate(-154.8,0)">−3.8°</text>
<text x="154.8" y="388.0" font-size="9.7" transform="translate(154.8,0) scale(0.94,1) translate(-154.8,0)">θ = −5.3°</text>
<text x="39.6" y="402.2" font-size="8.8" text-anchor="middle" >2.0</text>
<text x="66.1" y="402.2" font-size="8.8" text-anchor="middle" >1.5</text>
<text x="92.7" y="402.2" font-size="8.8" text-anchor="middle" >1.0</text>
<text x="119.2" y="402.2" font-size="8.8" text-anchor="middle" >0.5</text>
<text x="145.8" y="402.2" font-size="8.8" text-anchor="middle" >0.0</text>
<text x="87.5" y="416.5" font-size="12.5" text-anchor="middle" >binding energy (eV)</text>
<text transform="translate(11.6,198.3) rotate(-90)" font-size="12.4" text-anchor="middle">spin-resolved photoemission intensity (arb. units)</text>
<text x="-0.4" y="12.2" font-size="12.9" text-anchor="start" >(a)</text>
<text x="26.0" y="12.4" font-size="12.4" text-anchor="start" >ΓM</text>
<line x1="27.2" y1="0.8" x2="44" y2="0.8" stroke="#000" stroke-width="1.7"/>
<text x="48.5" y="12.4" font-size="12.4" text-anchor="start" >(P<tspan font-size="8" dy="2">x</tspan><tspan dy="-2">)</tspan></text>
</g>
<g id="pb">
<rect x="230.8" y="12.6" width="108.8" height="175.6" fill="#050705"/>
<g clip-path="url(#clipb)">
<ellipse cx="280" cy="150" rx="44" ry="60" fill="#22501a" filter="url(#blur6)"/>
<ellipse cx="280" cy="158" rx="28" ry="42" fill="#326c22" filter="url(#blur6)"/>
<ellipse cx="256" cy="94" rx="13" ry="10" fill="#4a9c36" filter="url(#blur4)"/>
<ellipse cx="303" cy="94" rx="14" ry="11" fill="#4ea23a" filter="url(#blur4)"/>
<path d="M238,104 C243,92 249,85 256,85 C263,85 268,92 273,104" fill="none" stroke="#58ac3e" stroke-width="13" filter="url(#blur4)"/>
<path d="M285,104 C290,92 295,85 302,85 C309,85 315,92 320,104" fill="none" stroke="#5cb042" stroke-width="13" filter="url(#blur4)"/>
<path d="M242,93 C247,84 251,81 256,81 C262,81 266,86 270,94 M288,94 C292,86 296,81 302,81 C308,81 312,84 316,92" fill="none" stroke="#7cc85c" stroke-width="4" filter="url(#blur2)"/>
<path d="M266,92 L292,136 M292,92 L266,136" fill="none" stroke="#5aaa3e" stroke-width="6" filter="url(#blur2)"/>
<path d="M279,114 L247,182 M279,114 L311,182" fill="none" stroke="#4a9632" stroke-width="5" filter="url(#blur4)"/>
<path d="M279,112 L250,150 M279,112 L308,150" fill="none" stroke="#62ae46" stroke-width="7" filter="url(#blur4)"/>
<path d="M255,194 C263,168 270,150 279,147 C288,150 295,168 303,194" fill="none" stroke="#5aa640" stroke-width="8" filter="url(#blur6)"/>
<path d="M262,180 C268,160 273,150 279,149 C285,150 290,160 296,180" fill="none" stroke="#64ac46" stroke-width="4" filter="url(#blur4)"/>
<circle cx="279" cy="113" r="7" fill="#7ad060" filter="url(#blur2)"/>
<rect x="220" y="10" width="18" height="180" fill="#040604" filter="url(#blur6)"/>
<rect x="329" y="10" width="18" height="180" fill="#040604" filter="url(#blur6)"/>
<ellipse cx="300" cy="62" rx="30" ry="12" fill="#0f200c" filter="url(#blur6)"/>
<ellipse cx="250" cy="66" rx="18" ry="10" fill="#0c1a0a" filter="url(#blur6)"/>
<path d="M257,23.5 L268,37" stroke="#163a14" stroke-width="1.3" filter="url(#blur1)"/>
</g>
<line x1="230.8" y1="22.6" x2="339.6" y2="22.6" stroke="#8a8a8a" stroke-width="1.1"/>
<line x1="278.6" y1="12.6" x2="278.6" y2="188.2" stroke="#c0c0c0" stroke-width="0.7"/>
<line x1="233.4" y1="12.6" x2="233.4" y2="14.8" stroke="#aaa" stroke-width="0.7"/>
<line x1="233.4" y1="186.0" x2="233.4" y2="188.2" stroke="#aaa" stroke-width="0.7"/>
<line x1="238.0" y1="12.6" x2="238.0" y2="13.9" stroke="#aaa" stroke-width="0.7"/>
<line x1="238.0" y1="186.9" x2="238.0" y2="188.2" stroke="#aaa" stroke-width="0.7"/>
<line x1="242.5" y1="12.6" x2="242.5" y2="14.8" stroke="#aaa" stroke-width="0.7"/>
<line x1="242.5" y1="186.0" x2="242.5" y2="188.2" stroke="#aaa" stroke-width="0.7"/>
<line x1="247.0" y1="12.6" x2="247.0" y2="13.9" stroke="#aaa" stroke-width="0.7"/>
<line x1="247.0" y1="186.9" x2="247.0" y2="188.2" stroke="#aaa" stroke-width="0.7"/>
<line x1="251.5" y1="12.6" x2="251.5" y2="14.8" stroke="#aaa" stroke-width="0.7"/>
<line x1="251.5" y1="186.0" x2="251.5" y2="188.2" stroke="#aaa" stroke-width="0.7"/>
<line x1="256.1" y1="12.6" x2="256.1" y2="13.9" stroke="#aaa" stroke-width="0.7"/>
<line x1="256.1" y1="186.9" x2="256.1" y2="188.2" stroke="#aaa" stroke-width="0.7"/>
<line x1="260.6" y1="12.6" x2="260.6" y2="14.8" stroke="#aaa" stroke-width="0.7"/>
<line x1="260.6" y1="186.0" x2="260.6" y2="188.2" stroke="#aaa" stroke-width="0.7"/>
<line x1="265.1" y1="12.6" x2="265.1" y2="13.9" stroke="#aaa" stroke-width="0.7"/>
<line x1="265.1" y1="186.9" x2="265.1" y2="188.2" stroke="#aaa" stroke-width="0.7"/>
<line x1="269.6" y1="12.6" x2="269.6" y2="14.8" stroke="#aaa" stroke-width="0.7"/>
<line x1="269.6" y1="186.0" x2="269.6" y2="188.2" stroke="#aaa" stroke-width="0.7"/>
<line x1="274.2" y1="12.6" x2="274.2" y2="13.9" stroke="#aaa" stroke-width="0.7"/>
<line x1="274.2" y1="186.9" x2="274.2" y2="188.2" stroke="#aaa" stroke-width="0.7"/>
<line x1="278.7" y1="12.6" x2="278.7" y2="14.8" stroke="#aaa" stroke-width="0.7"/>
<line x1="278.7" y1="186.0" x2="278.7" y2="188.2" stroke="#aaa" stroke-width="0.7"/>
<line x1="283.2" y1="12.6" x2="283.2" y2="13.9" stroke="#aaa" stroke-width="0.7"/>
<line x1="283.2" y1="186.9" x2="283.2" y2="188.2" stroke="#aaa" stroke-width="0.7"/>
<line x1="287.8" y1="12.6" x2="287.8" y2="14.8" stroke="#aaa" stroke-width="0.7"/>
<line x1="287.8" y1="186.0" x2="287.8" y2="188.2" stroke="#aaa" stroke-width="0.7"/>
<line x1="292.3" y1="12.6" x2="292.3" y2="13.9" stroke="#aaa" stroke-width="0.7"/>
<line x1="292.3" y1="186.9" x2="292.3" y2="188.2" stroke="#aaa" stroke-width="0.7"/>
<line x1="296.8" y1="12.6" x2="296.8" y2="14.8" stroke="#aaa" stroke-width="0.7"/>
<line x1="296.8" y1="186.0" x2="296.8" y2="188.2" stroke="#aaa" stroke-width="0.7"/>
<line x1="301.3" y1="12.6" x2="301.3" y2="13.9" stroke="#aaa" stroke-width="0.7"/>
<line x1="301.3" y1="186.9" x2="301.3" y2="188.2" stroke="#aaa" stroke-width="0.7"/>
<line x1="305.8" y1="12.6" x2="305.8" y2="14.8" stroke="#aaa" stroke-width="0.7"/>
<line x1="305.8" y1="186.0" x2="305.8" y2="188.2" stroke="#aaa" stroke-width="0.7"/>
<line x1="310.4" y1="12.6" x2="310.4" y2="13.9" stroke="#aaa" stroke-width="0.7"/>
<line x1="310.4" y1="186.9" x2="310.4" y2="188.2" stroke="#aaa" stroke-width="0.7"/>
<line x1="314.9" y1="12.6" x2="314.9" y2="14.8" stroke="#aaa" stroke-width="0.7"/>
<line x1="314.9" y1="186.0" x2="314.9" y2="188.2" stroke="#aaa" stroke-width="0.7"/>
<line x1="319.4" y1="12.6" x2="319.4" y2="13.9" stroke="#aaa" stroke-width="0.7"/>
<line x1="319.4" y1="186.9" x2="319.4" y2="188.2" stroke="#aaa" stroke-width="0.7"/>
<line x1="323.9" y1="12.6" x2="323.9" y2="14.8" stroke="#aaa" stroke-width="0.7"/>
<line x1="323.9" y1="186.0" x2="323.9" y2="188.2" stroke="#aaa" stroke-width="0.7"/>
<line x1="328.5" y1="12.6" x2="328.5" y2="13.9" stroke="#aaa" stroke-width="0.7"/>
<line x1="328.5" y1="186.9" x2="328.5" y2="188.2" stroke="#aaa" stroke-width="0.7"/>
<line x1="333.0" y1="12.6" x2="333.0" y2="14.8" stroke="#aaa" stroke-width="0.7"/>
<line x1="333.0" y1="186.0" x2="333.0" y2="188.2" stroke="#aaa" stroke-width="0.7"/>
<line x1="230.8" y1="22.6" x2="233.2" y2="22.6" stroke="#ccc" stroke-width="0.9"/>
<line x1="337.2" y1="22.6" x2="339.6" y2="22.6" stroke="#ccc" stroke-width="0.9"/>
<line x1="230.8" y1="29.6" x2="232.2" y2="29.6" stroke="#ccc" stroke-width="0.9"/>
<line x1="338.2" y1="29.6" x2="339.6" y2="29.6" stroke="#ccc" stroke-width="0.9"/>
<line x1="230.8" y1="36.6" x2="232.2" y2="36.6" stroke="#ccc" stroke-width="0.9"/>
<line x1="338.2" y1="36.6" x2="339.6" y2="36.6" stroke="#ccc" stroke-width="0.9"/>
<line x1="230.8" y1="43.5" x2="232.2" y2="43.5" stroke="#ccc" stroke-width="0.9"/>
<line x1="338.2" y1="43.5" x2="339.6" y2="43.5" stroke="#ccc" stroke-width="0.9"/>
<line x1="230.8" y1="50.5" x2="232.2" y2="50.5" stroke="#ccc" stroke-width="0.9"/>
<line x1="338.2" y1="50.5" x2="339.6" y2="50.5" stroke="#ccc" stroke-width="0.9"/>
<line x1="230.8" y1="57.5" x2="233.2" y2="57.5" stroke="#ccc" stroke-width="0.9"/>
<line x1="337.2" y1="57.5" x2="339.6" y2="57.5" stroke="#ccc" stroke-width="0.9"/>
<line x1="230.8" y1="64.5" x2="232.2" y2="64.5" stroke="#ccc" stroke-width="0.9"/>
<line x1="338.2" y1="64.5" x2="339.6" y2="64.5" stroke="#ccc" stroke-width="0.9"/>
<line x1="230.8" y1="71.5" x2="232.2" y2="71.5" stroke="#ccc" stroke-width="0.9"/>
<line x1="338.2" y1="71.5" x2="339.6" y2="71.5" stroke="#ccc" stroke-width="0.9"/>
<line x1="230.8" y1="78.4" x2="232.2" y2="78.4" stroke="#ccc" stroke-width="0.9"/>
<line x1="338.2" y1="78.4" x2="339.6" y2="78.4" stroke="#ccc" stroke-width="0.9"/>
<line x1="230.8" y1="85.4" x2="232.2" y2="85.4" stroke="#ccc" stroke-width="0.9"/>
<line x1="338.2" y1="85.4" x2="339.6" y2="85.4" stroke="#ccc" stroke-width="0.9"/>
<line x1="230.8" y1="92.4" x2="233.2" y2="92.4" stroke="#ccc" stroke-width="0.9"/>
<line x1="337.2" y1="92.4" x2="339.6" y2="92.4" stroke="#ccc" stroke-width="0.9"/>
<line x1="230.8" y1="99.4" x2="232.2" y2="99.4" stroke="#ccc" stroke-width="0.9"/>
<line x1="338.2" y1="99.4" x2="339.6" y2="99.4" stroke="#ccc" stroke-width="0.9"/>
<line x1="230.8" y1="106.4" x2="232.2" y2="106.4" stroke="#ccc" stroke-width="0.9"/>
<line x1="338.2" y1="106.4" x2="339.6" y2="106.4" stroke="#ccc" stroke-width="0.9"/>
<line x1="230.8" y1="113.3" x2="232.2" y2="113.3" stroke="#ccc" stroke-width="0.9"/>
<line x1="338.2" y1="113.3" x2="339.6" y2="113.3" stroke="#ccc" stroke-width="0.9"/>
<line x1="230.8" y1="120.3" x2="232.2" y2="120.3" stroke="#ccc" stroke-width="0.9"/>
<line x1="338.2" y1="120.3" x2="339.6" y2="120.3" stroke="#ccc" stroke-width="0.9"/>
<line x1="230.8" y1="127.3" x2="233.2" y2="127.3" stroke="#ccc" stroke-width="0.9"/>
<line x1="337.2" y1="127.3" x2="339.6" y2="127.3" stroke="#ccc" stroke-width="0.9"/>
<line x1="230.8" y1="134.3" x2="232.2" y2="134.3" stroke="#ccc" stroke-width="0.9"/>
<line x1="338.2" y1="134.3" x2="339.6" y2="134.3" stroke="#ccc" stroke-width="0.9"/>
<line x1="230.8" y1="141.3" x2="232.2" y2="141.3" stroke="#ccc" stroke-width="0.9"/>
<line x1="338.2" y1="141.3" x2="339.6" y2="141.3" stroke="#ccc" stroke-width="0.9"/>
<line x1="230.8" y1="148.2" x2="232.2" y2="148.2" stroke="#ccc" stroke-width="0.9"/>
<line x1="338.2" y1="148.2" x2="339.6" y2="148.2" stroke="#ccc" stroke-width="0.9"/>
<line x1="230.8" y1="155.2" x2="232.2" y2="155.2" stroke="#ccc" stroke-width="0.9"/>
<line x1="338.2" y1="155.2" x2="339.6" y2="155.2" stroke="#ccc" stroke-width="0.9"/>
<line x1="230.8" y1="162.2" x2="233.2" y2="162.2" stroke="#ccc" stroke-width="0.9"/>
<line x1="337.2" y1="162.2" x2="339.6" y2="162.2" stroke="#ccc" stroke-width="0.9"/>
<line x1="230.8" y1="169.2" x2="232.2" y2="169.2" stroke="#ccc" stroke-width="0.9"/>
<line x1="338.2" y1="169.2" x2="339.6" y2="169.2" stroke="#ccc" stroke-width="0.9"/>
<line x1="230.8" y1="176.2" x2="232.2" y2="176.2" stroke="#ccc" stroke-width="0.9"/>
<line x1="338.2" y1="176.2" x2="339.6" y2="176.2" stroke="#ccc" stroke-width="0.9"/>
<line x1="230.8" y1="183.1" x2="232.2" y2="183.1" stroke="#ccc" stroke-width="0.9"/>
<line x1="338.2" y1="183.1" x2="339.6" y2="183.1" stroke="#ccc" stroke-width="0.9"/>
<path d="M241.3,89.6C242.2,88.2 245.2,83.5 247.0,81.5C248.8,79.5 250.4,78.5 252.0,77.8C253.6,77.1 255.0,76.9 256.5,77.2C258.0,77.5 259.6,78.2 261.0,79.5C262.4,80.8 263.5,82.7 265.0,85.0C266.5,87.3 268.5,90.8 270.0,93.5C271.5,96.2 272.8,98.8 274.0,101.0C275.2,103.2 276.0,104.8 277.0,107.0C278.0,109.2 278.8,111.7 280.0,114.0C281.2,116.3 282.7,118.8 284.0,121.0C285.3,123.2 286.4,125.1 288.0,127.0C289.6,128.9 291.8,130.9 293.5,132.5C295.2,134.1 296.4,135.4 298.0,136.5C299.6,137.6 300.8,138.4 303.0,139.0C305.2,139.6 308.6,139.6 311.5,140.2C314.4,140.8 319.0,142.0 320.5,142.4" fill="none" stroke="#d8322a" stroke-width="1.3"/>
<path d="M246.0,142.4C246.7,142.1 248.5,141.4 250.0,140.8C251.5,140.2 253.4,139.9 255.1,139.0C256.8,138.1 258.5,136.8 260.0,135.5C261.5,134.2 262.8,132.7 264.1,131.1C265.4,129.5 266.9,127.6 268.0,126.0C269.1,124.4 270.0,123.0 271.0,121.5C272.0,120.0 273.0,118.5 274.0,117.0C275.0,115.5 276.0,114.1 277.0,112.5C278.0,110.9 278.9,109.3 280.0,107.5C281.1,105.7 282.1,104.0 283.3,101.8C284.6,99.5 286.1,96.5 287.5,94.0C288.9,91.5 290.5,88.8 292.0,86.5C293.5,84.2 295.1,81.9 296.5,80.5C297.9,79.1 299.3,78.4 300.7,78.0C302.1,77.6 303.6,77.8 305.0,78.3C306.4,78.8 308.0,79.9 309.3,81.0C310.6,82.1 311.8,83.7 313.0,85.0C314.2,86.3 316.2,88.4 316.8,89.1" fill="none" stroke="#3650c0" stroke-width="1.3"/>
<path d="M257.3,116.4C258.4,116.0 262.0,114.9 264.1,113.8C266.2,112.7 268.0,110.6 269.8,110.0C271.6,109.4 273.4,109.8 275.0,110.3C276.6,110.8 277.8,111.4 279.5,113.0C281.2,114.6 283.2,117.8 285.0,120.0C286.8,122.2 288.6,124.5 290.0,126.5C291.4,128.5 292.3,129.8 293.5,132.2C294.7,134.6 295.7,137.6 297.0,141.0C298.3,144.4 299.9,149.1 301.4,152.6C302.9,156.1 304.5,158.8 306.0,162.0C307.5,165.2 309.7,170.1 310.4,171.7" fill="none" stroke="#d8322a" stroke-width="0.9" stroke-dasharray="1.2,1"/>
<path d="M246.0,167.2C246.8,165.7 249.1,161.0 251.0,158.0C252.9,155.0 255.3,152.5 257.3,149.2C259.3,145.9 261.1,141.7 263.0,138.0C264.9,134.3 266.9,130.0 268.6,127.0C270.3,124.0 271.5,122.3 273.0,120.0C274.5,117.7 276.2,114.8 277.7,113.2C279.2,111.6 280.5,110.6 282.2,110.6C283.9,110.6 286.1,112.0 288.0,113.0C289.9,114.0 291.1,115.6 293.5,116.4C295.9,117.2 301.0,117.7 302.5,118.0" fill="none" stroke="#3650c0" stroke-width="0.9" stroke-dasharray="1.2,1"/>
<path d="M245.1,80.4 L247.4,84.5 L242.8,84.5 Z" fill="#d8322a"/>
<path d="M254.7,75.1 L257.0,79.2 L252.4,79.2 Z" fill="#d8322a"/>
<path d="M258.0,75.1 L260.3,79.2 L255.7,79.2 Z" fill="#d8322a"/>
<path d="M263.9,81.5 L266.2,85.6 L261.6,85.6 Z" fill="#d8322a"/>
<path d="M270.8,93.3 L273.1,97.4 L268.5,97.4 Z" fill="#d8322a"/>
<path d="M273.1,96.1 L275.4,100.2 L270.8,100.2 Z" fill="#d8322a"/>
<path d="M278.8,111.9 L281.1,116.0 L276.5,116.0 Z" fill="#d8322a"/>
<path d="M293.5,129.9 L295.8,134.0 L291.2,134.0 Z" fill="#d8322a"/>
<path d="M302.5,136.7 L304.8,140.8 L300.2,140.8 Z" fill="#d8322a"/>
<path d="M311.5,134.5 L313.8,138.6 L309.2,138.6 Z" fill="#d8322a"/>
<path d="M320.5,139.0 L322.8,143.1 L318.2,143.1 Z" fill="#d8322a"/>
<path d="M257.3,114.1 L259.6,118.2 L255.0,118.2 Z" fill="#d8322a"/>
<path d="M264.1,111.9 L266.4,116.0 L261.8,116.0 Z" fill="#d8322a"/>
<path d="M269.8,107.4 L272.1,111.5 L267.5,111.5 Z" fill="#d8322a"/>
<path d="M274.3,108.0 L276.6,112.1 L272.0,112.1 Z" fill="#d8322a"/>
<path d="M301.4,150.3 L303.7,154.4 L299.1,154.4 Z" fill="#d8322a"/>
<path d="M310.4,169.4 L312.7,173.5 L308.1,173.5 Z" fill="#d8322a"/>
<path d="M280.7,96.8 L285.7,96.8 L283.2,101.3 Z" fill="#3650c0"/>
<path d="M289.7,81.8 L294.7,81.8 L292.2,86.3 Z" fill="#3650c0"/>
<path d="M299.3,76.9 L304.3,76.9 L301.8,81.4 Z" fill="#3650c0"/>
<path d="M307.9,79.0 L312.9,79.0 L310.4,83.5 Z" fill="#3650c0"/>
<path d="M312.1,81.8 L317.1,81.8 L314.6,86.3 Z" fill="#3650c0"/>
<path d="M243.5,134.8 L248.5,134.8 L246.0,139.3 Z" fill="#3650c0"/>
<path d="M252.6,137.7 L257.6,137.7 L255.1,142.2 Z" fill="#3650c0"/>
<path d="M256.0,133.6 L261.0,133.6 L258.5,138.1 Z" fill="#3650c0"/>
<path d="M261.6,129.1 L266.6,129.1 L264.1,133.6 Z" fill="#3650c0"/>
<path d="M267.3,120.1 L272.3,120.1 L269.8,124.6 Z" fill="#3650c0"/>
<path d="M271.8,115.6 L276.8,115.6 L274.3,120.1 Z" fill="#3650c0"/>
<path d="M275.2,112.2 L280.2,112.2 L277.7,116.7 Z" fill="#3650c0"/>
<path d="M279.7,108.3 L284.7,108.3 L282.2,112.8 Z" fill="#3650c0"/>
<path d="M243.5,165.2 L248.5,165.2 L246.0,169.7 Z" fill="#3650c0"/>
<path d="M291.0,114.4 L296.0,114.4 L293.5,118.9 Z" fill="#3650c0"/>
<path d="M300.0,116.0 L305.0,116.0 L302.5,120.5 Z" fill="#3650c0"/>
<circle cx="279.5" cy="112" r="2" fill="#e8e8ff" fill-opacity="0.8"/>
<text x="246.2" y="68.0" font-size="11.5" text-anchor="start" fill="#fff">S<tspan font-size="7.5" dy="2">1</tspan></text>
<text x="246.0" y="112.5" font-size="11.5" text-anchor="start" fill="#fff">S<tspan font-size="7.5" dy="2">2</tspan></text>
<text x="286.5" y="66.0" font-size="11.5" text-anchor="start" fill="#fff">k<tspan font-size="7.5" dy="2">0</tspan></text>
<line x1="282" y1="70.6" x2="299" y2="70.6" stroke="#fff" stroke-width="1.1"/>
<path d="M278.8,70.6 L284.5,68.1 L284.5,73.1 Z M302.5,70.6 L296.8,68.1 L296.8,73.1 Z" fill="#fff"/>
<line x1="309" y1="77.2" x2="332" y2="77.2" stroke="#fff" stroke-width="1.2" stroke-dasharray="1.6,1.4"/>
<line x1="284" y1="111.6" x2="333" y2="111.6" stroke="#fff" stroke-width="1.2" stroke-dasharray="1.6,1.4"/>
<line x1="322.4" y1="82" x2="322.4" y2="107" stroke="#fff" stroke-width="1"/>
<path d="M322.4,78.5 L320.4,84 L324.4,84 Z M322.4,110.8 L320.4,105.3 L324.4,105.3 Z" fill="#fff"/>
<text x="324.3" y="96.0" font-size="13.5" text-anchor="start" fill="#fff">E<tspan font-size="8.5" dy="2.6">R</tspan></text>
<text x="229.6" y="25.9" font-size="9.7" text-anchor="end" >0.0</text>
<text x="229.6" y="60.8" font-size="9.7" text-anchor="end" >0.5</text>
<text x="229.6" y="95.7" font-size="9.7" text-anchor="end" >1.0</text>
<text x="229.6" y="130.6" font-size="9.7" text-anchor="end" >1.5</text>
<text x="229.6" y="165.5" font-size="9.7" text-anchor="end" >2.0</text>
<text x="244.0" y="197.0" font-size="9.7" text-anchor="middle" >-0.2</text>
<text x="262.1" y="197.0" font-size="9.7" text-anchor="middle" >-0.1</text>
<text x="278.7" y="197.0" font-size="9.7" text-anchor="middle" >0</text>
<text x="296.8" y="197.0" font-size="9.7" text-anchor="middle" >0.1</text>
<text x="314.9" y="197.0" font-size="9.7" text-anchor="middle" >0.2</text>
<text x="333.0" y="197.0" font-size="9.7" text-anchor="middle" >0.3</text>
<text x="282" y="208.6" font-size="12.2" text-anchor="middle">k<tspan font-size="8" dy="2.5">y</tspan><tspan dy="-2.5"> (Å</tspan><tspan font-size="7.5" dy="-4">-1</tspan><tspan dy="4">)</tspan></text>
<text transform="translate(211,90) rotate(-90)" font-size="11.6" text-anchor="middle">binding energy (eV)</text>
<text x="197.6" y="11.4" font-size="12.5" text-anchor="start" >(b)</text>
<text x="220.5" y="10.9" font-size="9.4" text-anchor="start" stroke="#000" stroke-width="0.3">M</text>
<text x="278.3" y="10.6" font-size="9.7" text-anchor="start" stroke="#000" stroke-width="0.3">Γ</text>
<text x="341.6" y="10.9" font-size="9.4" text-anchor="start" stroke="#000" stroke-width="0.3">M</text>
<line x1="220.8" y1="1.5" x2="228.4" y2="1.5" stroke="#111" stroke-width="1"/>
<line x1="278.0" y1="1.5" x2="284.5" y2="1.5" stroke="#111" stroke-width="1"/>
<line x1="341.8" y1="1.5" x2="349.6" y2="1.5" stroke="#111" stroke-width="1"/>
<line x1="235" y1="7.5" x2="276.2" y2="7.5" stroke="#111" stroke-width="1.1"/>
<line x1="286.2" y1="7.5" x2="334" y2="7.5" stroke="#111" stroke-width="1.1"/>
<path d="M230.9,7.4 L239,4.0 L237.6,7.4 L239,10.8 Z" fill="#111"/>
<path d="M338.7,7.4 L330.6,4.0 L332,7.4 L330.6,10.8 Z" fill="#111"/>
</g>
<g id="pc">
<line x1="324.5" y1="243.2" x2="324.5" y2="394.6" stroke="#666" stroke-width="0.8"/>
<polyline points="237.2,254.4 237.8,254.3 238.4,253.6 239.0,254.6 239.6,254.0 240.2,255.1 240.8,254.3 241.4,255.3 242.0,255.0 242.6,255.2 243.2,255.8 243.8,255.1 244.4,255.2 245.0,256.7 245.6,255.8 246.2,256.8 246.8,257.0 247.4,256.4 248.0,255.9 248.6,256.0 249.2,257.5 249.8,256.3 250.4,257.1 251.0,257.3 251.6,256.7 252.2,257.5 252.8,257.1 253.4,257.9 254.0,258.0 254.6,257.9 255.2,257.7 255.8,258.1 256.4,257.9 257.0,257.8 257.6,258.1 258.2,259.3 258.8,258.6 259.4,259.3 260.0,257.6 260.6,259.1 261.2,258.1 261.8,258.5 262.4,257.8 263.0,257.8 263.6,256.8 264.2,257.5 264.8,256.2 265.4,256.1 266.0,255.5 266.6,255.9 267.2,256.0 267.8,255.4 268.4,256.4 269.0,254.8 269.6,255.6 270.2,254.8 270.8,255.4 271.4,255.6 272.0,255.4 272.6,254.1 273.2,254.4 273.8,254.9 274.4,255.5 275.0,253.8 275.6,254.7 276.2,254.8 276.8,254.9 277.4,253.9 278.0,254.7 278.6,253.9 279.2,254.6 279.8,252.8 280.4,254.3 281.0,253.2 281.6,253.0 282.2,252.2 282.8,252.2 283.4,252.9 284.0,252.5 284.6,251.2 285.2,251.2 285.8,250.4 286.4,250.0 287.0,249.3 287.6,248.6 288.2,248.8 288.8,247.8 289.4,246.5 290.0,245.0 290.6,244.0 291.2,243.5 291.8,243.0 292.4,242.5 293.0,243.0 293.6,243.9 294.2,247.2 294.8,252.2 295.4,254.7 296.0,255.9 296.6,259.1 297.2,260.1 297.8,261.0 298.4,263.4 299.0,263.7 299.6,264.5 300.2,263.9 300.8,265.5 301.4,266.1 302.0,266.3 302.6,266.3 303.2,266.7 303.8,266.9 304.4,266.7 305.0,266.5 305.6,267.4 306.2,267.4 306.8,267.6 307.4,266.7 308.0,268.0 308.6,267.2 309.2,268.1 309.8,266.6 310.4,268.2 311.0,267.9 311.6,267.0 312.2,268.1 312.8,267.1 313.4,267.1 314.0,267.6 314.6,267.2 315.2,267.7 315.8,268.5 316.4,268.1 317.0,268.2 317.6,267.7 318.2,268.4 318.8,268.5 319.4,268.3 320.0,268.8 320.6,268.6 321.2,267.9 321.8,267.3 322.4,268.4 323.0,268.7 323.6,267.9 324.2,268.4 324.8,268.8 325.4,268.8 326.0,267.4 326.6,268.3 327.2,267.4 327.8,267.6 328.4,268.9 329.0,268.3 329.6,268.6 330.2,268.4 330.8,268.2 331.4,268.0 332.0,268.3 332.6,269.2 333.2,268.8" fill="none" stroke="#2b3a9c" stroke-width="2.00" stroke-linejoin="round"/>
<polyline points="237.2,254.4 237.8,254.3 238.4,253.6 239.0,254.6 239.6,254.0 240.2,255.1 240.8,254.3 241.4,255.3 242.0,255.0 242.6,255.2 243.2,255.8 243.8,255.1 244.4,255.2 245.0,256.7 245.6,255.8 246.2,256.8 246.8,257.0 247.4,256.4 248.0,255.9 248.6,256.0 249.2,257.5 249.8,256.3 250.4,257.1 251.0,257.3 251.6,256.7 252.2,257.5 252.8,257.1 253.4,257.9 254.0,258.0 254.6,257.9 255.2,257.7 255.8,258.1 256.4,257.9 257.0,257.8 257.6,258.1 258.2,259.3 258.8,258.6 259.4,259.3 260.0,257.6 260.6,259.1 261.2,258.1 261.8,258.5 262.4,257.8 263.0,257.8 263.6,256.8 264.2,257.5 264.8,256.2 265.4,256.1 266.0,255.5 266.6,255.9 267.2,256.0 267.8,255.4 268.4,256.4 269.0,254.8 269.6,255.6 270.2,254.8 270.8,255.4 271.4,255.6 272.0,255.4 272.6,254.1 273.2,254.4 273.8,254.9 274.4,255.5 275.0,253.8 275.6,254.7 276.2,254.8 276.8,254.9 277.4,253.9 278.0,254.7 278.6,253.9 279.2,254.6 279.8,252.8 280.4,254.3 281.0,253.2 281.6,253.0 282.2,252.2 282.8,252.2 283.4,252.9 284.0,252.5 284.6,251.2 285.2,251.2 285.8,250.4 286.4,250.0 287.0,249.3 287.6,248.6 288.2,248.8 288.8,247.8 289.4,246.5 290.0,245.0 290.6,244.0 291.2,243.5 291.8,243.0 292.4,242.5 293.0,243.0 293.6,243.9 294.2,247.2 294.8,252.2 295.4,254.7 296.0,255.9 296.6,259.1 297.2,260.1 297.8,261.0 298.4,263.4 299.0,263.7 299.6,264.5 300.2,263.9 300.8,265.5 301.4,266.1 302.0,266.3 302.6,266.3 303.2,266.7 303.8,266.9 304.4,266.7 305.0,266.5 305.6,267.4 306.2,267.4 306.8,267.6 307.4,266.7 308.0,268.0 308.6,267.2 309.2,268.1 309.8,266.6 310.4,268.2 311.0,267.9 311.6,267.0 312.2,268.1 312.8,267.1 313.4,267.1 314.0,267.6 314.6,267.2 315.2,267.7 315.8,268.5 316.4,268.1 317.0,268.2 317.6,267.7 318.2,268.4 318.8,268.5 319.4,268.3 320.0,268.8 320.6,268.6 321.2,267.9 321.8,267.3 322.4,268.4 323.0,268.7 323.6,267.9 324.2,268.4 324.8,268.8 325.4,268.8 326.0,267.4 326.6,268.3 327.2,267.4 327.8,267.6 328.4,268.9 329.0,268.3 329.6,268.6 330.2,268.4 330.8,268.2 331.4,268.0 332.0,268.3 332.6,269.2 333.2,268.8" fill="none" marker-mid="url(#md)" marker-start="url(#md)" marker-end="url(#md)" stroke="none"/>
<polyline points="237.2,251.2 237.8,250.5 238.4,250.6 239.0,251.0 239.6,250.2 240.2,250.3 240.8,250.3 241.4,248.7 242.0,249.4 242.6,248.0 243.2,249.1 243.8,247.7 244.4,247.6 245.0,248.6 245.6,247.4 246.2,247.0 246.8,248.1 247.4,247.5 248.0,247.9 248.6,246.9 249.2,246.9 249.8,247.6 250.4,246.6 251.0,247.2 251.6,245.5 252.2,246.4 252.8,245.0 253.4,245.4 254.0,244.1 254.6,244.1 255.2,245.1 255.8,243.9 256.4,244.2 257.0,242.9 257.6,242.8 258.2,242.2 258.8,243.0 259.4,243.6 260.0,243.2 260.6,243.3 261.2,244.7 261.8,245.2 262.4,245.4 263.0,245.0 263.6,246.6 264.2,246.9 264.8,248.4 265.4,248.1 266.0,249.4 266.6,250.2 267.2,250.5 267.8,251.6 268.4,252.6 269.0,253.6 269.6,253.4 270.2,253.6 270.8,255.1 271.4,253.8 272.0,255.6 272.6,255.6 273.2,255.6 273.8,255.6 274.4,256.3 275.0,256.7 275.6,256.4 276.2,256.4 276.8,255.0 277.4,255.4 278.0,254.9 278.6,256.2 279.2,255.8 279.8,254.2 280.4,254.7 281.0,254.4 281.6,253.2 282.2,253.5 282.8,253.8 283.4,253.2 284.0,252.0 284.6,252.3 285.2,250.8 285.8,250.6 286.4,249.9 287.0,250.8 287.6,250.3 288.2,251.1 288.8,251.6 289.4,252.0 290.0,254.1 290.6,254.6 291.2,255.6 291.8,256.1 292.4,257.2 293.0,259.2 293.6,260.8 294.2,261.7 294.8,261.6 295.4,261.8 296.0,263.0 296.6,264.0 297.2,263.1 297.8,264.5 298.4,263.7 299.0,264.2 299.6,264.0 300.2,264.6 300.8,265.0 301.4,266.2 302.0,266.4 302.6,265.2 303.2,265.7 303.8,267.0 304.4,265.8 305.0,266.2 305.6,266.6 306.2,266.1 306.8,266.5 307.4,266.8 308.0,266.9 308.6,268.0 309.2,266.8 309.8,266.8 310.4,268.1 311.0,267.3 311.6,268.1 312.2,267.8 312.8,268.1 313.4,267.3 314.0,267.0 314.6,268.2 315.2,267.7 315.8,267.9 316.4,268.1 317.0,268.3 317.6,267.5 318.2,267.6 318.8,268.7 319.4,268.0 320.0,267.6 320.6,268.3 321.2,267.6 321.8,268.6 322.4,267.3 323.0,268.7 323.6,268.3 324.2,267.9 324.8,269.0 325.4,267.8 326.0,267.8 326.6,267.5 327.2,268.4 327.8,268.8 328.4,268.7 329.0,268.2 329.6,269.0 330.2,267.8 330.8,268.1 331.4,268.8 332.0,269.4 332.6,268.8 333.2,268.9" fill="none" stroke="#c8303a" stroke-width="1.00" stroke-opacity="0.25" stroke-linejoin="round"/>
<polyline points="237.2,251.2 237.8,250.5 238.4,250.6 239.0,251.0 239.6,250.2 240.2,250.3 240.8,250.3 241.4,248.7 242.0,249.4 242.6,248.0 243.2,249.1 243.8,247.7 244.4,247.6 245.0,248.6 245.6,247.4 246.2,247.0 246.8,248.1 247.4,247.5 248.0,247.9 248.6,246.9 249.2,246.9 249.8,247.6 250.4,246.6 251.0,247.2 251.6,245.5 252.2,246.4 252.8,245.0 253.4,245.4 254.0,244.1 254.6,244.1 255.2,245.1 255.8,243.9 256.4,244.2 257.0,242.9 257.6,242.8 258.2,242.2 258.8,243.0 259.4,243.6 260.0,243.2 260.6,243.3 261.2,244.7 261.8,245.2 262.4,245.4 263.0,245.0 263.6,246.6 264.2,246.9 264.8,248.4 265.4,248.1 266.0,249.4 266.6,250.2 267.2,250.5 267.8,251.6 268.4,252.6 269.0,253.6 269.6,253.4 270.2,253.6 270.8,255.1 271.4,253.8 272.0,255.6 272.6,255.6 273.2,255.6 273.8,255.6 274.4,256.3 275.0,256.7 275.6,256.4 276.2,256.4 276.8,255.0 277.4,255.4 278.0,254.9 278.6,256.2 279.2,255.8 279.8,254.2 280.4,254.7 281.0,254.4 281.6,253.2 282.2,253.5 282.8,253.8 283.4,253.2 284.0,252.0 284.6,252.3 285.2,250.8 285.8,250.6 286.4,249.9 287.0,250.8 287.6,250.3 288.2,251.1 288.8,251.6 289.4,252.0 290.0,254.1 290.6,254.6 291.2,255.6 291.8,256.1 292.4,257.2 293.0,259.2 293.6,260.8 294.2,261.7 294.8,261.6 295.4,261.8 296.0,263.0 296.6,264.0 297.2,263.1 297.8,264.5 298.4,263.7 299.0,264.2 299.6,264.0 300.2,264.6 300.8,265.0 301.4,266.2 302.0,266.4 302.6,265.2 303.2,265.7 303.8,267.0 304.4,265.8 305.0,266.2 305.6,266.6 306.2,266.1 306.8,266.5 307.4,266.8 308.0,266.9 308.6,268.0 309.2,266.8 309.8,266.8 310.4,268.1 311.0,267.3 311.6,268.1 312.2,267.8 312.8,268.1 313.4,267.3 314.0,267.0 314.6,268.2 315.2,267.7 315.8,267.9 316.4,268.1 317.0,268.3 317.6,267.5 318.2,267.6 318.8,268.7 319.4,268.0 320.0,267.6 320.6,268.3 321.2,267.6 321.8,268.6 322.4,267.3 323.0,268.7 323.6,268.3 324.2,267.9 324.8,269.0 325.4,267.8 326.0,267.8 326.6,267.5 327.2,268.4 327.8,268.8 328.4,268.7 329.0,268.2 329.6,269.0 330.2,267.8 330.8,268.1 331.4,268.8 332.0,269.4 332.6,268.8 333.2,268.9" fill="none" marker-mid="url(#mu)" marker-start="url(#mu)" marker-end="url(#mu)" stroke="none"/>
<polyline points="237.2,284.5 237.8,283.6 238.4,284.4 239.0,283.9 239.6,283.0 240.2,282.9 240.8,283.4 241.4,282.4 242.0,281.9 242.6,283.0 243.2,282.2 243.8,282.0 244.4,282.1 245.0,282.3 245.6,280.8 246.2,281.0 246.8,280.3 247.4,280.8 248.0,280.8 248.6,281.3 249.2,280.8 249.8,280.5 250.4,280.1 251.0,280.2 251.6,279.6 252.2,280.4 252.8,280.2 253.4,280.1 254.0,278.6 254.6,279.3 255.2,279.2 255.8,278.5 256.4,279.0 257.0,278.7 257.6,278.1 258.2,277.9 258.8,277.3 259.4,277.6 260.0,276.3 260.6,277.6 261.2,278.0 261.8,278.3 262.4,278.1 263.0,278.3 263.6,279.8 264.2,280.9 264.8,280.6 265.4,281.3 266.0,282.2 266.6,283.0 267.2,285.0 267.8,286.4 268.4,286.8 269.0,286.6 269.6,287.7 270.2,287.0 270.8,288.6 271.4,288.0 272.0,287.7 272.6,289.0 273.2,288.5 273.8,289.1 274.4,289.2 275.0,290.3 275.6,290.9 276.2,291.6 276.8,290.3 277.4,291.6 278.0,290.1 278.6,290.0 279.2,290.3 279.8,289.4 280.4,288.9 281.0,288.9 281.6,287.7 282.2,288.2 282.8,286.7 283.4,287.3 284.0,286.7 284.6,285.7 285.2,284.2 285.8,284.8 286.4,282.6 287.0,282.7 287.6,282.1 288.2,281.5 288.8,283.2 289.4,284.6 290.0,286.0 290.6,287.3 291.2,289.4 291.8,291.8 292.4,293.4 293.0,296.4 293.6,298.0 294.2,298.8 294.8,300.1 295.4,299.9 296.0,301.7 296.6,300.6 297.2,302.0 297.8,302.1 298.4,302.8 299.0,303.3 299.6,303.4 300.2,303.0 300.8,302.8 301.4,302.6 302.0,303.0 302.6,302.8 303.2,302.7 303.8,303.7 304.4,303.4 305.0,303.3 305.6,302.8 306.2,303.8 306.8,302.9 307.4,303.0 308.0,303.6 308.6,303.9 309.2,304.4 309.8,304.0 310.4,304.4 311.0,304.3 311.6,304.0 312.2,304.0 312.8,302.8 313.4,303.1 314.0,302.8 314.6,304.3 315.2,304.1 315.8,303.9 316.4,303.3 317.0,303.5 317.6,303.1 318.2,304.0 318.8,304.7 319.4,303.4 320.0,303.0 320.6,303.2 321.2,303.6 321.8,304.6 322.4,304.4 323.0,303.8 323.6,303.2 324.2,303.2 324.8,303.3 325.4,304.4 326.0,303.9 326.6,304.8 327.2,304.7 327.8,304.5 328.4,303.9 329.0,304.6 329.6,303.3 330.2,303.3 330.8,304.2 331.4,304.1 332.0,303.5 332.6,303.6 333.2,303.2" fill="none" stroke="#2b3a9c" stroke-width="2.00" stroke-linejoin="round"/>
<polyline points="237.2,284.5 237.8,283.6 238.4,284.4 239.0,283.9 239.6,283.0 240.2,282.9 240.8,283.4 241.4,282.4 242.0,281.9 242.6,283.0 243.2,282.2 243.8,282.0 244.4,282.1 245.0,282.3 245.6,280.8 246.2,281.0 246.8,280.3 247.4,280.8 248.0,280.8 248.6,281.3 249.2,280.8 249.8,280.5 250.4,280.1 251.0,280.2 251.6,279.6 252.2,280.4 252.8,280.2 253.4,280.1 254.0,278.6 254.6,279.3 255.2,279.2 255.8,278.5 256.4,279.0 257.0,278.7 257.6,278.1 258.2,277.9 258.8,277.3 259.4,277.6 260.0,276.3 260.6,277.6 261.2,278.0 261.8,278.3 262.4,278.1 263.0,278.3 263.6,279.8 264.2,280.9 264.8,280.6 265.4,281.3 266.0,282.2 266.6,283.0 267.2,285.0 267.8,286.4 268.4,286.8 269.0,286.6 269.6,287.7 270.2,287.0 270.8,288.6 271.4,288.0 272.0,287.7 272.6,289.0 273.2,288.5 273.8,289.1 274.4,289.2 275.0,290.3 275.6,290.9 276.2,291.6 276.8,290.3 277.4,291.6 278.0,290.1 278.6,290.0 279.2,290.3 279.8,289.4 280.4,288.9 281.0,288.9 281.6,287.7 282.2,288.2 282.8,286.7 283.4,287.3 284.0,286.7 284.6,285.7 285.2,284.2 285.8,284.8 286.4,282.6 287.0,282.7 287.6,282.1 288.2,281.5 288.8,283.2 289.4,284.6 290.0,286.0 290.6,287.3 291.2,289.4 291.8,291.8 292.4,293.4 293.0,296.4 293.6,298.0 294.2,298.8 294.8,300.1 295.4,299.9 296.0,301.7 296.6,300.6 297.2,302.0 297.8,302.1 298.4,302.8 299.0,303.3 299.6,303.4 300.2,303.0 300.8,302.8 301.4,302.6 302.0,303.0 302.6,302.8 303.2,302.7 303.8,303.7 304.4,303.4 305.0,303.3 305.6,302.8 306.2,303.8 306.8,302.9 307.4,303.0 308.0,303.6 308.6,303.9 309.2,304.4 309.8,304.0 310.4,304.4 311.0,304.3 311.6,304.0 312.2,304.0 312.8,302.8 313.4,303.1 314.0,302.8 314.6,304.3 315.2,304.1 315.8,303.9 316.4,303.3 317.0,303.5 317.6,303.1 318.2,304.0 318.8,304.7 319.4,303.4 320.0,303.0 320.6,303.2 321.2,303.6 321.8,304.6 322.4,304.4 323.0,303.8 323.6,303.2 324.2,303.2 324.8,303.3 325.4,304.4 326.0,303.9 326.6,304.8 327.2,304.7 327.8,304.5 328.4,303.9 329.0,304.6 329.6,303.3 330.2,303.3 330.8,304.2 331.4,304.1 332.0,303.5 332.6,303.6 333.2,303.2" fill="none" marker-mid="url(#md)" marker-start="url(#md)" marker-end="url(#md)" stroke="none"/>
<polyline points="237.2,289.9 237.8,289.4 238.4,289.6 239.0,289.4 239.6,288.2 240.2,288.6 240.8,287.7 241.4,288.4 242.0,288.3 242.6,286.9 243.2,286.6 243.8,287.0 244.4,287.7 245.0,287.4 245.6,286.9 246.2,288.6 246.8,288.7 247.4,288.4 248.0,287.9 248.6,289.7 249.2,289.3 249.8,288.7 250.4,289.5 251.0,290.2 251.6,290.9 252.2,290.4 252.8,290.8 253.4,290.1 254.0,290.2 254.6,291.4 255.2,290.5 255.8,289.9 256.4,290.7 257.0,289.8 257.6,289.8 258.2,290.2 258.8,290.3 259.4,290.3 260.0,290.4 260.6,289.8 261.2,289.1 261.8,290.2 262.4,288.9 263.0,289.6 263.6,289.4 264.2,289.8 264.8,289.8 265.4,288.9 266.0,289.5 266.6,289.6 267.2,289.1 267.8,288.5 268.4,289.9 269.0,289.3 269.6,288.3 270.2,288.6 270.8,290.0 271.4,288.6 272.0,288.9 272.6,289.6 273.2,289.7 273.8,289.3 274.4,289.5 275.0,288.2 275.6,288.2 276.2,289.8 276.8,289.5 277.4,288.1 278.0,288.0 278.6,288.3 279.2,289.5 279.8,288.1 280.4,288.8 281.0,289.1 281.6,288.3 282.2,288.4 282.8,286.8 283.4,286.0 284.0,285.2 284.6,285.9 285.2,284.1 285.8,285.0 286.4,283.9 287.0,282.1 287.6,282.4 288.2,280.4 288.8,279.9 289.4,277.9 290.0,277.9 290.6,276.9 291.2,276.0 291.8,273.6 292.4,275.0 293.0,275.0 293.6,277.0 294.2,278.7 294.8,281.6 295.4,284.3 296.0,288.5 296.6,291.1 297.2,294.0 297.8,296.8 298.4,297.8 299.0,299.2 299.6,299.3 300.2,301.4 300.8,300.6 301.4,302.5 302.0,302.9 302.6,302.6 303.2,302.2 303.8,303.3 304.4,302.7 305.0,303.1 305.6,302.6 306.2,304.2 306.8,303.4 307.4,303.1 308.0,302.7 308.6,303.8 309.2,304.1 309.8,304.1 310.4,302.8 311.0,303.3 311.6,303.2 312.2,304.1 312.8,303.0 313.4,303.8 314.0,304.5 314.6,304.2 315.2,302.8 315.8,303.0 316.4,303.0 317.0,304.1 317.6,303.9 318.2,303.8 318.8,303.7 319.4,303.6 320.0,304.0 320.6,304.1 321.2,304.6 321.8,304.3 322.4,304.4 323.0,304.6 323.6,304.5 324.2,304.3 324.8,303.1 325.4,304.3 326.0,304.6 326.6,303.8 327.2,304.7 327.8,303.4 328.4,304.8 329.0,303.9 329.6,304.4 330.2,303.6 330.8,303.7 331.4,303.8 332.0,303.8 332.6,303.4 333.2,304.0" fill="none" stroke="#c8303a" stroke-width="1.00" stroke-opacity="0.25" stroke-linejoin="round"/>
<polyline points="237.2,289.9 237.8,289.4 238.4,289.6 239.0,289.4 239.6,288.2 240.2,288.6 240.8,287.7 241.4,288.4 242.0,288.3 242.6,286.9 243.2,286.6 243.8,287.0 244.4,287.7 245.0,287.4 245.6,286.9 246.2,288.6 246.8,288.7 247.4,288.4 248.0,287.9 248.6,289.7 249.2,289.3 249.8,288.7 250.4,289.5 251.0,290.2 251.6,290.9 252.2,290.4 252.8,290.8 253.4,290.1 254.0,290.2 254.6,291.4 255.2,290.5 255.8,289.9 256.4,290.7 257.0,289.8 257.6,289.8 258.2,290.2 258.8,290.3 259.4,290.3 260.0,290.4 260.6,289.8 261.2,289.1 261.8,290.2 262.4,288.9 263.0,289.6 263.6,289.4 264.2,289.8 264.8,289.8 265.4,288.9 266.0,289.5 266.6,289.6 267.2,289.1 267.8,288.5 268.4,289.9 269.0,289.3 269.6,288.3 270.2,288.6 270.8,290.0 271.4,288.6 272.0,288.9 272.6,289.6 273.2,289.7 273.8,289.3 274.4,289.5 275.0,288.2 275.6,288.2 276.2,289.8 276.8,289.5 277.4,288.1 278.0,288.0 278.6,288.3 279.2,289.5 279.8,288.1 280.4,288.8 281.0,289.1 281.6,288.3 282.2,288.4 282.8,286.8 283.4,286.0 284.0,285.2 284.6,285.9 285.2,284.1 285.8,285.0 286.4,283.9 287.0,282.1 287.6,282.4 288.2,280.4 288.8,279.9 289.4,277.9 290.0,277.9 290.6,276.9 291.2,276.0 291.8,273.6 292.4,275.0 293.0,275.0 293.6,277.0 294.2,278.7 294.8,281.6 295.4,284.3 296.0,288.5 296.6,291.1 297.2,294.0 297.8,296.8 298.4,297.8 299.0,299.2 299.6,299.3 300.2,301.4 300.8,300.6 301.4,302.5 302.0,302.9 302.6,302.6 303.2,302.2 303.8,303.3 304.4,302.7 305.0,303.1 305.6,302.6 306.2,304.2 306.8,303.4 307.4,303.1 308.0,302.7 308.6,303.8 309.2,304.1 309.8,304.1 310.4,302.8 311.0,303.3 311.6,303.2 312.2,304.1 312.8,303.0 313.4,303.8 314.0,304.5 314.6,304.2 315.2,302.8 315.8,303.0 316.4,303.0 317.0,304.1 317.6,303.9 318.2,303.8 318.8,303.7 319.4,303.6 320.0,304.0 320.6,304.1 321.2,304.6 321.8,304.3 322.4,304.4 323.0,304.6 323.6,304.5 324.2,304.3 324.8,303.1 325.4,304.3 326.0,304.6 326.6,303.8 327.2,304.7 327.8,303.4 328.4,304.8 329.0,303.9 329.6,304.4 330.2,303.6 330.8,303.7 331.4,303.8 332.0,303.8 332.6,303.4 333.2,304.0" fill="none" marker-mid="url(#mu)" marker-start="url(#mu)" marker-end="url(#mu)" stroke="none"/>
<polyline points="237.6,343.2 238.2,342.5 238.8,342.9 239.4,342.5 240.0,342.6 240.6,342.8 241.2,342.3 241.8,341.3 242.4,341.2 243.0,341.4 243.6,340.7 244.2,341.0 244.8,342.1 245.4,342.2 246.0,341.1 246.6,341.9 247.2,341.9 247.8,342.1 248.4,341.9 249.0,341.4 249.6,340.5 250.2,341.7 250.8,340.5 251.4,340.8 252.0,340.1 252.6,340.0 253.2,340.4 253.8,338.6 254.4,338.9 255.0,338.8 255.6,338.2 256.2,338.5 256.8,337.0 257.4,337.5 258.0,336.6 258.6,336.8 259.2,334.9 259.8,335.0 260.4,335.1 261.0,336.4 261.6,335.0 262.2,335.8 262.8,337.0 263.4,337.9 264.0,336.9 264.6,337.9 265.2,338.8 265.8,339.2 266.4,339.7 267.0,340.1 267.6,339.7 268.2,340.2 268.8,340.2 269.4,341.9 270.0,341.4 270.6,341.9 271.2,343.5 271.8,343.3 272.4,343.5 273.0,343.8 273.6,343.9 274.2,344.2 274.8,343.7 275.4,343.4 276.0,343.6 276.6,343.6 277.2,344.3 277.8,344.0 278.4,344.0 279.0,344.8 279.6,345.6 280.2,345.1 280.8,344.3 281.4,345.1 282.0,343.8 282.6,343.4 283.2,343.4 283.8,343.1 284.4,343.0 285.0,342.0 285.6,341.8 286.2,340.0 286.8,340.9 287.4,339.3 288.0,339.7 288.6,338.0 289.2,339.4 289.8,338.4 290.4,339.8 291.0,340.1 291.6,340.4 292.2,340.4 292.8,340.5 293.4,341.6 294.0,343.9 294.6,343.7 295.2,346.0 295.8,347.9 296.4,350.7 297.0,351.9 297.6,353.1 298.2,353.9 298.8,356.1 299.4,355.5 300.0,356.4 300.6,356.5 301.2,356.2 301.8,356.1 302.4,356.3 303.0,358.0 303.6,356.9 304.2,358.6 304.8,357.6 305.4,358.4 306.0,357.4 306.6,358.7 307.2,357.8 307.8,358.1 308.4,358.4 309.0,357.7 309.6,358.0 310.2,359.0 310.8,358.2 311.4,358.4 312.0,359.1 312.6,358.2 313.2,358.2 313.8,358.3 314.4,358.6 315.0,358.6 315.6,359.1 316.2,358.8 316.8,359.6 317.4,358.1 318.0,359.3 318.6,359.6 319.2,358.6 319.8,358.2 320.4,359.0 321.0,358.4 321.6,359.1 322.2,359.6 322.8,358.5 323.4,358.6 324.0,359.2 324.6,358.7 325.2,358.8 325.8,359.2 326.4,358.7 327.0,358.6 327.6,359.2 328.2,359.4 328.8,360.3 329.4,359.6 330.0,358.8 330.6,359.1 331.2,360.0 331.8,359.7 332.4,360.3 333.0,360.5 333.6,360.3" fill="none" stroke="#5fb04a" stroke-width="2.00" stroke-linejoin="round"/>
<polyline points="237.6,343.2 238.2,342.5 238.8,342.9 239.4,342.5 240.0,342.6 240.6,342.8 241.2,342.3 241.8,341.3 242.4,341.2 243.0,341.4 243.6,340.7 244.2,341.0 244.8,342.1 245.4,342.2 246.0,341.1 246.6,341.9 247.2,341.9 247.8,342.1 248.4,341.9 249.0,341.4 249.6,340.5 250.2,341.7 250.8,340.5 251.4,340.8 252.0,340.1 252.6,340.0 253.2,340.4 253.8,338.6 254.4,338.9 255.0,338.8 255.6,338.2 256.2,338.5 256.8,337.0 257.4,337.5 258.0,336.6 258.6,336.8 259.2,334.9 259.8,335.0 260.4,335.1 261.0,336.4 261.6,335.0 262.2,335.8 262.8,337.0 263.4,337.9 264.0,336.9 264.6,337.9 265.2,338.8 265.8,339.2 266.4,339.7 267.0,340.1 267.6,339.7 268.2,340.2 268.8,340.2 269.4,341.9 270.0,341.4 270.6,341.9 271.2,343.5 271.8,343.3 272.4,343.5 273.0,343.8 273.6,343.9 274.2,344.2 274.8,343.7 275.4,343.4 276.0,343.6 276.6,343.6 277.2,344.3 277.8,344.0 278.4,344.0 279.0,344.8 279.6,345.6 280.2,345.1 280.8,344.3 281.4,345.1 282.0,343.8 282.6,343.4 283.2,343.4 283.8,343.1 284.4,343.0 285.0,342.0 285.6,341.8 286.2,340.0 286.8,340.9 287.4,339.3 288.0,339.7 288.6,338.0 289.2,339.4 289.8,338.4 290.4,339.8 291.0,340.1 291.6,340.4 292.2,340.4 292.8,340.5 293.4,341.6 294.0,343.9 294.6,343.7 295.2,346.0 295.8,347.9 296.4,350.7 297.0,351.9 297.6,353.1 298.2,353.9 298.8,356.1 299.4,355.5 300.0,356.4 300.6,356.5 301.2,356.2 301.8,356.1 302.4,356.3 303.0,358.0 303.6,356.9 304.2,358.6 304.8,357.6 305.4,358.4 306.0,357.4 306.6,358.7 307.2,357.8 307.8,358.1 308.4,358.4 309.0,357.7 309.6,358.0 310.2,359.0 310.8,358.2 311.4,358.4 312.0,359.1 312.6,358.2 313.2,358.2 313.8,358.3 314.4,358.6 315.0,358.6 315.6,359.1 316.2,358.8 316.8,359.6 317.4,358.1 318.0,359.3 318.6,359.6 319.2,358.6 319.8,358.2 320.4,359.0 321.0,358.4 321.6,359.1 322.2,359.6 322.8,358.5 323.4,358.6 324.0,359.2 324.6,358.7 325.2,358.8 325.8,359.2 326.4,358.7 327.0,358.6 327.6,359.2 328.2,359.4 328.8,360.3 329.4,359.6 330.0,358.8 330.6,359.1 331.2,360.0 331.8,359.7 332.4,360.3 333.0,360.5 333.6,360.3" fill="none" marker-mid="url(#mg)" marker-start="url(#mg)" marker-end="url(#mg)" stroke="none"/>
<polyline points="237.6,339.3 238.2,340.5 238.8,339.5 239.4,338.7 240.0,338.2 240.6,339.2 241.2,337.8 241.8,337.4 242.4,337.5 243.0,338.6 243.6,337.7 244.2,338.3 244.8,337.2 245.4,338.1 246.0,338.0 246.6,338.1 247.2,339.1 247.8,338.8 248.4,338.6 249.0,340.4 249.6,339.7 250.2,339.3 250.8,339.2 251.4,340.6 252.0,340.5 252.6,339.8 253.2,340.8 253.8,341.4 254.4,341.1 255.0,340.7 255.6,341.2 256.2,341.5 256.8,341.6 257.4,340.8 258.0,342.0 258.6,342.3 259.2,342.0 259.8,342.2 260.4,341.4 261.0,342.4 261.6,341.2 262.2,341.3 262.8,342.0 263.4,342.6 264.0,341.2 264.6,341.6 265.2,341.3 265.8,342.2 266.4,341.8 267.0,342.0 267.6,343.2 268.2,343.1 268.8,343.9 269.4,343.2 270.0,343.9 270.6,342.9 271.2,344.8 271.8,343.7 272.4,344.4 273.0,344.7 273.6,345.7 274.2,345.1 274.8,346.1 275.4,345.6 276.0,345.0 276.6,346.3 277.2,345.2 277.8,346.6 278.4,345.5 279.0,344.8 279.6,345.8 280.2,344.1 280.8,343.5 281.4,342.8 282.0,342.8 282.6,341.2 283.2,341.3 283.8,340.4 284.4,341.1 285.0,339.0 285.6,339.6 286.2,338.5 286.8,338.3 287.4,337.8 288.0,337.4 288.6,335.7 289.2,335.3 289.8,334.5 290.4,335.6 291.0,333.8 291.6,333.7 292.2,334.7 292.8,335.6 293.4,337.6 294.0,338.1 294.6,340.7 295.2,342.8 295.8,346.3 296.4,349.5 297.0,351.3 297.6,353.2 298.2,353.6 298.8,354.6 299.4,355.3 300.0,354.5 300.6,356.0 301.2,355.4 301.8,354.9 302.4,356.7 303.0,355.4 303.6,355.4 304.2,356.1 304.8,356.2 305.4,357.6 306.0,357.5 306.6,356.8 307.2,357.1 307.8,357.8 308.4,357.8 309.0,357.6 309.6,357.5 310.2,356.8 310.8,357.1 311.4,357.9 312.0,357.9 312.6,358.3 313.2,358.6 313.8,358.8 314.4,357.4 315.0,357.3 315.6,358.8 316.2,358.3 316.8,357.7 317.4,358.6 318.0,357.9 318.6,357.9 319.2,358.2 319.8,358.6 320.4,358.9 321.0,357.9 321.6,359.1 322.2,359.0 322.8,358.8 323.4,359.2 324.0,359.5 324.6,358.1 325.2,359.0 325.8,359.5 326.4,359.6 327.0,359.5 327.6,358.7 328.2,360.2 328.8,359.9 329.4,358.9 330.0,359.3 330.6,360.3 331.2,359.0 331.8,359.4 332.4,360.4 333.0,360.4 333.6,359.2" fill="none" stroke="#e0932a" stroke-width="1.00" stroke-opacity="0.25" stroke-linejoin="round"/>
<polyline points="237.6,339.3 238.2,340.5 238.8,339.5 239.4,338.7 240.0,338.2 240.6,339.2 241.2,337.8 241.8,337.4 242.4,337.5 243.0,338.6 243.6,337.7 244.2,338.3 244.8,337.2 245.4,338.1 246.0,338.0 246.6,338.1 247.2,339.1 247.8,338.8 248.4,338.6 249.0,340.4 249.6,339.7 250.2,339.3 250.8,339.2 251.4,340.6 252.0,340.5 252.6,339.8 253.2,340.8 253.8,341.4 254.4,341.1 255.0,340.7 255.6,341.2 256.2,341.5 256.8,341.6 257.4,340.8 258.0,342.0 258.6,342.3 259.2,342.0 259.8,342.2 260.4,341.4 261.0,342.4 261.6,341.2 262.2,341.3 262.8,342.0 263.4,342.6 264.0,341.2 264.6,341.6 265.2,341.3 265.8,342.2 266.4,341.8 267.0,342.0 267.6,343.2 268.2,343.1 268.8,343.9 269.4,343.2 270.0,343.9 270.6,342.9 271.2,344.8 271.8,343.7 272.4,344.4 273.0,344.7 273.6,345.7 274.2,345.1 274.8,346.1 275.4,345.6 276.0,345.0 276.6,346.3 277.2,345.2 277.8,346.6 278.4,345.5 279.0,344.8 279.6,345.8 280.2,344.1 280.8,343.5 281.4,342.8 282.0,342.8 282.6,341.2 283.2,341.3 283.8,340.4 284.4,341.1 285.0,339.0 285.6,339.6 286.2,338.5 286.8,338.3 287.4,337.8 288.0,337.4 288.6,335.7 289.2,335.3 289.8,334.5 290.4,335.6 291.0,333.8 291.6,333.7 292.2,334.7 292.8,335.6 293.4,337.6 294.0,338.1 294.6,340.7 295.2,342.8 295.8,346.3 296.4,349.5 297.0,351.3 297.6,353.2 298.2,353.6 298.8,354.6 299.4,355.3 300.0,354.5 300.6,356.0 301.2,355.4 301.8,354.9 302.4,356.7 303.0,355.4 303.6,355.4 304.2,356.1 304.8,356.2 305.4,357.6 306.0,357.5 306.6,356.8 307.2,357.1 307.8,357.8 308.4,357.8 309.0,357.6 309.6,357.5 310.2,356.8 310.8,357.1 311.4,357.9 312.0,357.9 312.6,358.3 313.2,358.6 313.8,358.8 314.4,357.4 315.0,357.3 315.6,358.8 316.2,358.3 316.8,357.7 317.4,358.6 318.0,357.9 318.6,357.9 319.2,358.2 319.8,358.6 320.4,358.9 321.0,357.9 321.6,359.1 322.2,359.0 322.8,358.8 323.4,359.2 324.0,359.5 324.6,358.1 325.2,359.0 325.8,359.5 326.4,359.6 327.0,359.5 327.6,358.7 328.2,360.2 328.8,359.9 329.4,358.9 330.0,359.3 330.6,360.3 331.2,359.0 331.8,359.4 332.4,360.4 333.0,360.4 333.6,359.2" fill="none" marker-mid="url(#mo)" marker-start="url(#mo)" marker-end="url(#mo)" stroke="none"/>
<polyline points="237.6,367.5 238.2,366.4 238.8,366.4 239.4,366.1 240.0,364.5 240.6,364.2 241.2,363.9 241.8,363.6 242.4,362.8 243.0,362.7 243.6,363.1 244.2,363.1 244.8,362.6 245.4,363.7 246.0,364.6 246.6,364.2 247.2,364.1 247.8,365.1 248.4,364.9 249.0,364.8 249.6,365.7 250.2,365.2 250.8,366.8 251.4,366.3 252.0,367.1 252.6,368.7 253.2,368.8 253.8,369.4 254.4,369.5 255.0,369.9 255.6,370.3 256.2,371.1 256.8,370.0 257.4,371.2 258.0,370.5 258.6,370.5 259.2,371.6 259.8,371.2 260.4,371.7 261.0,371.8 261.6,371.3 262.2,370.6 262.8,370.3 263.4,371.3 264.0,371.7 264.6,371.0 265.2,370.7 265.8,370.7 266.4,371.1 267.0,372.2 267.6,371.2 268.2,371.8 268.8,372.1 269.4,373.1 270.0,373.8 270.6,372.3 271.2,372.7 271.8,374.4 272.4,374.7 273.0,373.4 273.6,374.0 274.2,374.5 274.8,374.3 275.4,374.6 276.0,374.9 276.6,374.5 277.2,374.2 277.8,374.2 278.4,374.2 279.0,373.7 279.6,374.2 280.2,373.7 280.8,372.1 281.4,372.2 282.0,371.4 282.6,370.1 283.2,369.7 283.8,368.4 284.4,368.9 285.0,367.5 285.6,365.9 286.2,365.4 286.8,365.6 287.4,364.3 288.0,364.1 288.6,362.4 289.2,362.8 289.8,362.3 290.4,360.8 291.0,361.8 291.6,361.7 292.2,363.5 292.8,365.0 293.4,366.6 294.0,367.4 294.6,369.4 295.2,373.8 295.8,377.1 296.4,378.8 297.0,381.1 297.6,383.7 298.2,384.0 298.8,385.7 299.4,385.5 300.0,386.0 300.6,386.7 301.2,387.2 301.8,387.8 302.4,386.9 303.0,388.3 303.6,387.6 304.2,388.0 304.8,388.8 305.4,389.0 306.0,389.0 306.6,389.7 307.2,388.5 307.8,388.8 308.4,389.6 309.0,389.0 309.6,388.9 310.2,389.1 310.8,390.1 311.4,390.3 312.0,390.2 312.6,390.7 313.2,390.5 313.8,389.6 314.4,389.7 315.0,390.5 315.6,389.3 316.2,390.3 316.8,389.4 317.4,389.4 318.0,390.3 318.6,389.6 319.2,391.1 319.8,391.0 320.4,390.3 321.0,389.8 321.6,389.7 322.2,390.4 322.8,390.5 323.4,390.2 324.0,390.9 324.6,390.6 325.2,391.0 325.8,389.8 326.4,389.8 327.0,390.4 327.6,390.6 328.2,390.2 328.8,390.9 329.4,390.2 330.0,390.3 330.6,390.7 331.2,391.1 331.8,391.2 332.4,390.5 333.0,390.7 333.6,391.6" fill="none" stroke="#5fb04a" stroke-width="2.00" stroke-linejoin="round"/>
<polyline points="237.6,367.5 238.2,366.4 238.8,366.4 239.4,366.1 240.0,364.5 240.6,364.2 241.2,363.9 241.8,363.6 242.4,362.8 243.0,362.7 243.6,363.1 244.2,363.1 244.8,362.6 245.4,363.7 246.0,364.6 246.6,364.2 247.2,364.1 247.8,365.1 248.4,364.9 249.0,364.8 249.6,365.7 250.2,365.2 250.8,366.8 251.4,366.3 252.0,367.1 252.6,368.7 253.2,368.8 253.8,369.4 254.4,369.5 255.0,369.9 255.6,370.3 256.2,371.1 256.8,370.0 257.4,371.2 258.0,370.5 258.6,370.5 259.2,371.6 259.8,371.2 260.4,371.7 261.0,371.8 261.6,371.3 262.2,370.6 262.8,370.3 263.4,371.3 264.0,371.7 264.6,371.0 265.2,370.7 265.8,370.7 266.4,371.1 267.0,372.2 267.6,371.2 268.2,371.8 268.8,372.1 269.4,373.1 270.0,373.8 270.6,372.3 271.2,372.7 271.8,374.4 272.4,374.7 273.0,373.4 273.6,374.0 274.2,374.5 274.8,374.3 275.4,374.6 276.0,374.9 276.6,374.5 277.2,374.2 277.8,374.2 278.4,374.2 279.0,373.7 279.6,374.2 280.2,373.7 280.8,372.1 281.4,372.2 282.0,371.4 282.6,370.1 283.2,369.7 283.8,368.4 284.4,368.9 285.0,367.5 285.6,365.9 286.2,365.4 286.8,365.6 287.4,364.3 288.0,364.1 288.6,362.4 289.2,362.8 289.8,362.3 290.4,360.8 291.0,361.8 291.6,361.7 292.2,363.5 292.8,365.0 293.4,366.6 294.0,367.4 294.6,369.4 295.2,373.8 295.8,377.1 296.4,378.8 297.0,381.1 297.6,383.7 298.2,384.0 298.8,385.7 299.4,385.5 300.0,386.0 300.6,386.7 301.2,387.2 301.8,387.8 302.4,386.9 303.0,388.3 303.6,387.6 304.2,388.0 304.8,388.8 305.4,389.0 306.0,389.0 306.6,389.7 307.2,388.5 307.8,388.8 308.4,389.6 309.0,389.0 309.6,388.9 310.2,389.1 310.8,390.1 311.4,390.3 312.0,390.2 312.6,390.7 313.2,390.5 313.8,389.6 314.4,389.7 315.0,390.5 315.6,389.3 316.2,390.3 316.8,389.4 317.4,389.4 318.0,390.3 318.6,389.6 319.2,391.1 319.8,391.0 320.4,390.3 321.0,389.8 321.6,389.7 322.2,390.4 322.8,390.5 323.4,390.2 324.0,390.9 324.6,390.6 325.2,391.0 325.8,389.8 326.4,389.8 327.0,390.4 327.6,390.6 328.2,390.2 328.8,390.9 329.4,390.2 330.0,390.3 330.6,390.7 331.2,391.1 331.8,391.2 332.4,390.5 333.0,390.7 333.6,391.6" fill="none" marker-mid="url(#mg)" marker-start="url(#mg)" marker-end="url(#mg)" stroke="none"/>
<polyline points="237.6,372.4 238.2,371.8 238.8,370.9 239.4,371.6 240.0,371.9 240.6,371.3 241.2,370.9 241.8,372.6 242.4,372.5 243.0,371.1 243.6,371.7 244.2,372.0 244.8,371.5 245.4,371.1 246.0,372.4 246.6,372.5 247.2,371.9 247.8,371.3 248.4,371.8 249.0,371.2 249.6,372.6 250.2,370.7 250.8,370.8 251.4,371.2 252.0,369.5 252.6,368.8 253.2,368.1 253.8,367.6 254.4,367.6 255.0,367.6 255.6,365.9 256.2,365.4 256.8,366.0 257.4,364.9 258.0,364.3 258.6,363.7 259.2,363.7 259.8,365.0 260.4,363.6 261.0,364.1 261.6,365.2 262.2,365.8 262.8,366.1 263.4,365.6 264.0,366.8 264.6,366.4 265.2,366.2 265.8,366.8 266.4,367.6 267.0,368.0 267.6,367.2 268.2,367.7 268.8,369.5 269.4,368.3 270.0,370.0 270.6,369.6 271.2,369.9 271.8,370.3 272.4,371.1 273.0,372.5 273.6,371.4 274.2,373.0 274.8,372.5 275.4,372.5 276.0,373.9 276.6,373.4 277.2,373.3 277.8,373.8 278.4,374.5 279.0,374.4 279.6,373.5 280.2,372.1 280.8,372.9 281.4,372.1 282.0,372.2 282.6,372.0 283.2,370.6 283.8,371.2 284.4,370.9 285.0,369.6 285.6,369.5 286.2,369.2 286.8,368.8 287.4,368.4 288.0,367.4 288.6,367.2 289.2,368.1 289.8,366.9 290.4,367.3 291.0,368.0 291.6,368.3 292.2,368.2 292.8,370.5 293.4,371.6 294.0,373.4 294.6,374.8 295.2,377.5 295.8,380.3 296.4,381.4 297.0,384.0 297.6,385.4 298.2,387.6 298.8,387.1 299.4,388.4 300.0,388.4 300.6,389.6 301.2,389.0 301.8,390.0 302.4,390.2 303.0,390.3 303.6,389.0 304.2,390.5 304.8,390.2 305.4,390.1 306.0,390.1 306.6,389.0 307.2,390.5 307.8,390.0 308.4,389.8 309.0,389.7 309.6,390.5 310.2,390.5 310.8,390.7 311.4,389.6 312.0,389.8 312.6,389.7 313.2,389.4 313.8,389.9 314.4,389.4 315.0,390.8 315.6,389.8 316.2,389.5 316.8,389.5 317.4,390.8 318.0,389.8 318.6,390.3 319.2,390.2 319.8,391.0 320.4,391.2 321.0,390.1 321.6,390.7 322.2,391.2 322.8,390.4 323.4,391.2 324.0,391.0 324.6,390.2 325.2,391.2 325.8,390.7 326.4,389.9 327.0,390.8 327.6,391.2 328.2,390.7 328.8,390.6 329.4,390.5 330.0,391.4 330.6,391.0 331.2,390.2 331.8,390.5 332.4,390.5 333.0,391.6 333.6,391.2" fill="none" stroke="#e0932a" stroke-width="1.00" stroke-opacity="0.25" stroke-linejoin="round"/>
<polyline points="237.6,372.4 238.2,371.8 238.8,370.9 239.4,371.6 240.0,371.9 240.6,371.3 241.2,370.9 241.8,372.6 242.4,372.5 243.0,371.1 243.6,371.7 244.2,372.0 244.8,371.5 245.4,371.1 246.0,372.4 246.6,372.5 247.2,371.9 247.8,371.3 248.4,371.8 249.0,371.2 249.6,372.6 250.2,370.7 250.8,370.8 251.4,371.2 252.0,369.5 252.6,368.8 253.2,368.1 253.8,367.6 254.4,367.6 255.0,367.6 255.6,365.9 256.2,365.4 256.8,366.0 257.4,364.9 258.0,364.3 258.6,363.7 259.2,363.7 259.8,365.0 260.4,363.6 261.0,364.1 261.6,365.2 262.2,365.8 262.8,366.1 263.4,365.6 264.0,366.8 264.6,366.4 265.2,366.2 265.8,366.8 266.4,367.6 267.0,368.0 267.6,367.2 268.2,367.7 268.8,369.5 269.4,368.3 270.0,370.0 270.6,369.6 271.2,369.9 271.8,370.3 272.4,371.1 273.0,372.5 273.6,371.4 274.2,373.0 274.8,372.5 275.4,372.5 276.0,373.9 276.6,373.4 277.2,373.3 277.8,373.8 278.4,374.5 279.0,374.4 279.6,373.5 280.2,372.1 280.8,372.9 281.4,372.1 282.0,372.2 282.6,372.0 283.2,370.6 283.8,371.2 284.4,370.9 285.0,369.6 285.6,369.5 286.2,369.2 286.8,368.8 287.4,368.4 288.0,367.4 288.6,367.2 289.2,368.1 289.8,366.9 290.4,367.3 291.0,368.0 291.6,368.3 292.2,368.2 292.8,370.5 293.4,371.6 294.0,373.4 294.6,374.8 295.2,377.5 295.8,380.3 296.4,381.4 297.0,384.0 297.6,385.4 298.2,387.6 298.8,387.1 299.4,388.4 300.0,388.4 300.6,389.6 301.2,389.0 301.8,390.0 302.4,390.2 303.0,390.3 303.6,389.0 304.2,390.5 304.8,390.2 305.4,390.1 306.0,390.1 306.6,389.0 307.2,390.5 307.8,390.0 308.4,389.8 309.0,389.7 309.6,390.5 310.2,390.5 310.8,390.7 311.4,389.6 312.0,389.8 312.6,389.7 313.2,389.4 313.8,389.9 314.4,389.4 315.0,390.8 315.6,389.8 316.2,389.5 316.8,389.5 317.4,390.8 318.0,389.8 318.6,390.3 319.2,390.2 319.8,391.0 320.4,391.2 321.0,390.1 321.6,390.7 322.2,391.2 322.8,390.4 323.4,391.2 324.0,391.0 324.6,390.2 325.2,391.2 325.8,390.7 326.4,389.9 327.0,390.8 327.6,391.2 328.2,390.7 328.8,390.6 329.4,390.5 330.0,391.4 330.6,391.0 331.2,390.2 331.8,390.5 332.4,390.5 333.0,391.6 333.6,391.2" fill="none" marker-mid="url(#mo)" marker-start="url(#mo)" marker-end="url(#mo)" stroke="none"/>
<line x1="243.4" y1="241.1" x2="243.4" y2="243.9" stroke="#c8303a" stroke-width="1.0"/>
<line x1="260.0" y1="238.5" x2="260.0" y2="242.2" stroke="#c8303a" stroke-width="1.0"/>
<line x1="292.3" y1="236.7" x2="292.3" y2="239.6" stroke="#2b3a9c" stroke-width="1.0"/>
<line x1="244.2" y1="274.3" x2="244.2" y2="277.8" stroke="#2b3a9c" stroke-width="1.0"/>
<line x1="260.0" y1="270.9" x2="260.0" y2="274.3" stroke="#2b3a9c" stroke-width="1.0"/>
<line x1="292.3" y1="268.2" x2="292.3" y2="271.7" stroke="#c8303a" stroke-width="1.0"/>
<line x1="244.4" y1="329.8" x2="244.4" y2="333.2" stroke="#e0932a" stroke-width="1.0"/>
<line x1="291.2" y1="326.5" x2="291.2" y2="329.8" stroke="#e0932a" stroke-width="1.0"/>
<line x1="260.9" y1="326.5" x2="260.9" y2="331.0" stroke="#5fb04a" stroke-width="1.0"/>
<line x1="245.6" y1="356.5" x2="245.6" y2="360.3" stroke="#5fb04a" stroke-width="1.0"/>
<line x1="290.7" y1="353.6" x2="290.7" y2="357.4" stroke="#5fb04a" stroke-width="1.0"/>
<line x1="259.6" y1="356.5" x2="259.6" y2="360.3" stroke="#e0932a" stroke-width="1.0"/>
<rect x="235.6" y="219.4" width="99.3" height="176.2" fill="none" stroke="#222" stroke-width="1.2"/>
<line x1="331.0" y1="219.4" x2="331.0" y2="222.4" stroke="#222" stroke-width="1.0"/>
<line x1="331.0" y1="392.6" x2="331.0" y2="395.6" stroke="#222" stroke-width="1.0"/>
<line x1="327.4" y1="219.4" x2="327.4" y2="222.4" stroke="#222" stroke-width="1.0"/>
<line x1="327.4" y1="392.6" x2="327.4" y2="395.6" stroke="#222" stroke-width="1.0"/>
<line x1="323.8" y1="219.4" x2="323.8" y2="223.6" stroke="#222" stroke-width="1.0"/>
<line x1="323.8" y1="391.4" x2="323.8" y2="395.6" stroke="#222" stroke-width="1.0"/>
<line x1="320.2" y1="219.4" x2="320.2" y2="222.4" stroke="#222" stroke-width="1.0"/>
<line x1="320.2" y1="392.6" x2="320.2" y2="395.6" stroke="#222" stroke-width="1.0"/>
<line x1="316.6" y1="219.4" x2="316.6" y2="222.4" stroke="#222" stroke-width="1.0"/>
<line x1="316.6" y1="392.6" x2="316.6" y2="395.6" stroke="#222" stroke-width="1.0"/>
<line x1="313.0" y1="219.4" x2="313.0" y2="222.4" stroke="#222" stroke-width="1.0"/>
<line x1="313.0" y1="392.6" x2="313.0" y2="395.6" stroke="#222" stroke-width="1.0"/>
<line x1="309.4" y1="219.4" x2="309.4" y2="222.4" stroke="#222" stroke-width="1.0"/>
<line x1="309.4" y1="392.6" x2="309.4" y2="395.6" stroke="#222" stroke-width="1.0"/>
<line x1="305.8" y1="219.4" x2="305.8" y2="223.6" stroke="#222" stroke-width="1.0"/>
<line x1="305.8" y1="391.4" x2="305.8" y2="395.6" stroke="#222" stroke-width="1.0"/>
<line x1="302.2" y1="219.4" x2="302.2" y2="222.4" stroke="#222" stroke-width="1.0"/>
<line x1="302.2" y1="392.6" x2="302.2" y2="395.6" stroke="#222" stroke-width="1.0"/>
<line x1="298.6" y1="219.4" x2="298.6" y2="222.4" stroke="#222" stroke-width="1.0"/>
<line x1="298.6" y1="392.6" x2="298.6" y2="395.6" stroke="#222" stroke-width="1.0"/>
<line x1="295.0" y1="219.4" x2="295.0" y2="222.4" stroke="#222" stroke-width="1.0"/>
<line x1="295.0" y1="392.6" x2="295.0" y2="395.6" stroke="#222" stroke-width="1.0"/>
<line x1="291.4" y1="219.4" x2="291.4" y2="222.4" stroke="#222" stroke-width="1.0"/>
<line x1="291.4" y1="392.6" x2="291.4" y2="395.6" stroke="#222" stroke-width="1.0"/>
<line x1="287.8" y1="219.4" x2="287.8" y2="223.6" stroke="#222" stroke-width="1.0"/>
<line x1="287.8" y1="391.4" x2="287.8" y2="395.6" stroke="#222" stroke-width="1.0"/>
<line x1="284.2" y1="219.4" x2="284.2" y2="222.4" stroke="#222" stroke-width="1.0"/>
<line x1="284.2" y1="392.6" x2="284.2" y2="395.6" stroke="#222" stroke-width="1.0"/>
<line x1="280.6" y1="219.4" x2="280.6" y2="222.4" stroke="#222" stroke-width="1.0"/>
<line x1="280.6" y1="392.6" x2="280.6" y2="395.6" stroke="#222" stroke-width="1.0"/>
<line x1="277.0" y1="219.4" x2="277.0" y2="222.4" stroke="#222" stroke-width="1.0"/>
<line x1="277.0" y1="392.6" x2="277.0" y2="395.6" stroke="#222" stroke-width="1.0"/>
<line x1="273.4" y1="219.4" x2="273.4" y2="222.4" stroke="#222" stroke-width="1.0"/>
<line x1="273.4" y1="392.6" x2="273.4" y2="395.6" stroke="#222" stroke-width="1.0"/>
<line x1="269.8" y1="219.4" x2="269.8" y2="223.6" stroke="#222" stroke-width="1.0"/>
<line x1="269.8" y1="391.4" x2="269.8" y2="395.6" stroke="#222" stroke-width="1.0"/>
<line x1="266.2" y1="219.4" x2="266.2" y2="222.4" stroke="#222" stroke-width="1.0"/>
<line x1="266.2" y1="392.6" x2="266.2" y2="395.6" stroke="#222" stroke-width="1.0"/>
<line x1="262.6" y1="219.4" x2="262.6" y2="222.4" stroke="#222" stroke-width="1.0"/>
<line x1="262.6" y1="392.6" x2="262.6" y2="395.6" stroke="#222" stroke-width="1.0"/>
<line x1="259.0" y1="219.4" x2="259.0" y2="222.4" stroke="#222" stroke-width="1.0"/>
<line x1="259.0" y1="392.6" x2="259.0" y2="395.6" stroke="#222" stroke-width="1.0"/>
<line x1="255.4" y1="219.4" x2="255.4" y2="222.4" stroke="#222" stroke-width="1.0"/>
<line x1="255.4" y1="392.6" x2="255.4" y2="395.6" stroke="#222" stroke-width="1.0"/>
<line x1="251.8" y1="219.4" x2="251.8" y2="223.6" stroke="#222" stroke-width="1.0"/>
<line x1="251.8" y1="391.4" x2="251.8" y2="395.6" stroke="#222" stroke-width="1.0"/>
<line x1="248.2" y1="219.4" x2="248.2" y2="222.4" stroke="#222" stroke-width="1.0"/>
<line x1="248.2" y1="392.6" x2="248.2" y2="395.6" stroke="#222" stroke-width="1.0"/>
<line x1="244.6" y1="219.4" x2="244.6" y2="222.4" stroke="#222" stroke-width="1.0"/>
<line x1="244.6" y1="392.6" x2="244.6" y2="395.6" stroke="#222" stroke-width="1.0"/>
<line x1="241.0" y1="219.4" x2="241.0" y2="222.4" stroke="#222" stroke-width="1.0"/>
<line x1="241.0" y1="392.6" x2="241.0" y2="395.6" stroke="#222" stroke-width="1.0"/>
<line x1="237.4" y1="219.4" x2="237.4" y2="222.4" stroke="#222" stroke-width="1.0"/>
<line x1="237.4" y1="392.6" x2="237.4" y2="395.6" stroke="#222" stroke-width="1.0"/>
<text x="239.2" y="233.6" font-size="10.2" text-anchor="start" >ΓK (P<tspan font-size="7" dy="2">y</tspan><tspan dy="-2">)</tspan></text>
<line x1="239.2" y1="224.8" x2="251.5" y2="224.8" stroke="#111" stroke-width="1"/>
<text x="239.8" y="319.7" font-size="10.2" text-anchor="start" >ΓK (P<tspan font-size="7" dy="2">z</tspan><tspan dy="-2">)</tspan></text>
<line x1="240" y1="310.3" x2="252" y2="310.3" stroke="#111" stroke-width="1"/>
<path d="M295.7,224.2 L298.3,228.8 L293.1,228.8 Z" fill="none" stroke="#c8303a" stroke-width="1"/>
<path d="M293,232.8 L298.4,232.8 L295.7,237.6 Z" fill="#2b3a9c"/>
<text x="301.2" y="228.8" font-size="7.9" text-anchor="start" >spin-up</text>
<text x="301.2" y="237.4" font-size="7.9" text-anchor="start" >spin-down</text>
<path d="M295,311.4 L297.6,316 L292.4,316 Z" fill="none" stroke="#e0932a" stroke-width="1"/>
<path d="M292.2,320.2 L297.6,320.2 L294.9,325 Z" fill="#5fb04a"/>
<text x="301.0" y="316.9" font-size="7.9" text-anchor="start" >spin-up</text>
<text x="301.0" y="325.2" font-size="7.9" text-anchor="start" >spin-down</text>
<text x="337.9" y="270.3" font-size="8.8" text-anchor="start" >5°</text>
<text x="337.9" y="308.6" font-size="8.8" text-anchor="start" >-5°</text>
<text x="337.9" y="362.2" font-size="8.8" text-anchor="start" >5°</text>
<text x="337.9" y="393.6" font-size="8.8" text-anchor="start" >θ<tspan font-size="6" dy="1.8">i</tspan><tspan dy="-1.8"> = -5°</tspan></text>
<text x="251.0" y="404.6" font-size="9.1" text-anchor="middle" >2.0</text>
<text x="269.0" y="404.6" font-size="9.1" text-anchor="middle" >1.5</text>
<text x="287.0" y="404.6" font-size="9.1" text-anchor="middle" >1.0</text>
<text x="305.0" y="404.6" font-size="9.1" text-anchor="middle" >0.5</text>
<text x="323.0" y="404.6" font-size="9.1" text-anchor="middle" >0.0</text>
<text x="288.4" y="417.2" font-size="12.5" text-anchor="middle" >binding energy (eV)</text>
<text transform="translate(231,304.7) rotate(-90)" font-size="12.4" text-anchor="middle">intensity (arb. units)</text>
<text x="201.8" y="225.0" font-size="12.5" text-anchor="start" >(c)</text>
</g>
<g id="pd">
<text x="404.3" y="14.9" font-size="12.5" text-anchor="start" >(d)</text>
<rect x="408.0" y="54.8" width="193.2" height="84.2" fill="#b1222b"/>
<rect x="504.2" y="54.8" width="97.0" height="84.2" fill="#2d3697"/>
<path d="M504.2,96.2 L408.0,71.0 L408.0,121.4 Z" fill="#2d3697"/>
<path d="M504.2,96.2 L601.2,70.8 L601.2,121.6 Z" fill="#b1222b"/>
<polygon points="418.8,96.0 462.0,64.2 546.0,63.8 588.0,95.5 546.0,128.0 462.0,128.0" fill="none" stroke="#7cc038" stroke-width="2.7" stroke-linejoin="miter"/>
<line x1="504.2" y1="96.2" x2="504.2" y2="42" stroke="#000" stroke-width="1.7"/>
<path d="M504.2,34.2 L499.8,45.2 L504.2,42.2 L508.6,45.2 Z" fill="#000"/>
<line x1="504.2" y1="96.2" x2="608" y2="96.2" stroke="#000" stroke-width="1.6"/>
<path d="M618.6,96.2 L607.5,91.9 L610.5,96.2 L607.5,100.5 Z" fill="#000"/>
<linearGradient id="g499" gradientUnits="userSpaceOnUse" x1="421.9" y1="76.9" x2="419.7" y2="73.9"><stop offset="0" stop-color="#cfcfcf"/><stop offset="0.4" stop-color="#e6e6e6"/><stop offset="1" stop-color="#8c8c8c"/></linearGradient>
<polygon points="421.9,76.9 436.2,66.3 434.1,63.4 419.7,73.9" fill="url(#g499)"/>
<ellipse cx="420.8" cy="75.4" rx="1.0" ry="1.8" transform="rotate(-36.3 420.8 75.4)" fill="#e6e6e6"/>
<linearGradient id="g499h" gradientUnits="userSpaceOnUse" x1="436.7" y1="68.7" x2="432.0" y2="62.2"><stop offset="0" stop-color="#cfcfcf"/><stop offset="0.45" stop-color="#9a9a9a"/><stop offset="1" stop-color="#8c8c8c"/></linearGradient>
<polygon points="436.7,68.7 440.8,60.7 432.0,62.2" fill="url(#g499h)"/>
<linearGradient id="g504" gradientUnits="userSpaceOnUse" x1="443.7" y1="63.6" x2="441.7" y2="60.4"><stop offset="0" stop-color="#c070c0"/><stop offset="0.4" stop-color="#d98ad8"/><stop offset="1" stop-color="#9a4f9a"/></linearGradient>
<polygon points="443.7,63.6 466.1,49.6 464.1,46.4 441.7,60.4" fill="url(#g504)"/>
<ellipse cx="442.7" cy="62.0" rx="1.0" ry="1.9" transform="rotate(-32.0 442.7 62.0)" fill="#d98ad8"/>
<linearGradient id="g504h" gradientUnits="userSpaceOnUse" x1="467.1" y1="53.2" x2="461.3" y2="43.9"><stop offset="0" stop-color="#c070c0"/><stop offset="0.45" stop-color="#b45cb0"/><stop offset="1" stop-color="#9a4f9a"/></linearGradient>
<polygon points="467.1,53.2 474.4,42.2 461.3,43.9" fill="url(#g504h)"/>
<linearGradient id="g509" gradientUnits="userSpaceOnUse" x1="488.5" y1="52.1" x2="488.5" y2="47.5"><stop offset="0" stop-color="#cfcfcf"/><stop offset="0.4" stop-color="#e6e6e6"/><stop offset="1" stop-color="#8c8c8c"/></linearGradient>
<polygon points="488.5,52.1 515.2,52.1 515.2,47.5 488.5,47.5" fill="url(#g509)"/>
<ellipse cx="488.5" cy="49.8" rx="1.0" ry="2.3" transform="rotate(0.0 488.5 49.8)" fill="#e6e6e6"/>
<linearGradient id="g509h" gradientUnits="userSpaceOnUse" x1="514.2" y1="54.3" x2="514.2" y2="45.3"><stop offset="0" stop-color="#cfcfcf"/><stop offset="0.45" stop-color="#b0b0b0"/><stop offset="1" stop-color="#8c8c8c"/></linearGradient>
<polygon points="514.2,54.3 526.2,49.8 514.2,45.3" fill="url(#g509h)"/>
<linearGradient id="g514" gradientUnits="userSpaceOnUse" x1="534.9" y1="43.6" x2="536.9" y2="40.4"><stop offset="0" stop-color="#86c0e0"/><stop offset="0.4" stop-color="#a9d8f0"/><stop offset="1" stop-color="#4f8fb8"/></linearGradient>
<polygon points="534.9,43.6 558.2,57.9 560.2,54.7 536.9,40.4" fill="url(#g514)"/>
<ellipse cx="535.9" cy="42.0" rx="1.0" ry="1.9" transform="rotate(31.5 535.9 42.0)" fill="#a9d8f0"/>
<linearGradient id="g514h" gradientUnits="userSpaceOnUse" x1="555.7" y1="60.0" x2="560.9" y2="51.5"><stop offset="0" stop-color="#86c0e0"/><stop offset="0.45" stop-color="#6aa8cc"/><stop offset="1" stop-color="#4f8fb8"/></linearGradient>
<polygon points="555.7,60.0 567.7,61.5 560.9,51.5" fill="url(#g514h)"/>
<linearGradient id="g519" gradientUnits="userSpaceOnUse" x1="569.5" y1="63.7" x2="572.1" y2="60.3"><stop offset="0" stop-color="#dddddd"/><stop offset="0.4" stop-color="#ffffff"/><stop offset="1" stop-color="#9a9a9a"/></linearGradient>
<polygon points="569.5,63.7 582.6,73.7 585.1,70.4 572.1,60.3" fill="url(#g519)"/>
<ellipse cx="570.8" cy="62.0" rx="1.0" ry="2.1" transform="rotate(37.5 570.8 62.0)" fill="#ffffff"/>
<linearGradient id="g519h" gradientUnits="userSpaceOnUse" x1="580.5" y1="74.8" x2="585.7" y2="68.0"><stop offset="0" stop-color="#dddddd"/><stop offset="0.45" stop-color="#e0e0e0"/><stop offset="1" stop-color="#9a9a9a"/></linearGradient>
<polygon points="580.5,74.8 590.2,76.9 585.7,68.0" fill="url(#g519h)"/>
<linearGradient id="g524" gradientUnits="userSpaceOnUse" x1="585.6" y1="99.0" x2="588.0" y2="102.4"><stop offset="0" stop-color="#dddddd"/><stop offset="0.4" stop-color="#ffffff"/><stop offset="1" stop-color="#9a9a9a"/></linearGradient>
<polygon points="585.6,99.0 575.4,105.8 577.7,109.3 588.0,102.4" fill="url(#g524)"/>
<ellipse cx="586.8" cy="100.7" rx="1.0" ry="2.1" transform="rotate(146.2 586.8 100.7)" fill="#ffffff"/>
<linearGradient id="g524h" gradientUnits="userSpaceOnUse" x1="575.0" y1="103.5" x2="579.7" y2="110.5"><stop offset="0" stop-color="#dddddd"/><stop offset="0.45" stop-color="#d8d8d8"/><stop offset="1" stop-color="#9a9a9a"/></linearGradient>
<polygon points="575.0,103.5 569.9,112.0 579.7,110.5" fill="url(#g524h)"/>
<linearGradient id="g529" gradientUnits="userSpaceOnUse" x1="566.7" y1="111.4" x2="568.7" y2="114.6"><stop offset="0" stop-color="#86c0e0"/><stop offset="0.4" stop-color="#a9d8f0"/><stop offset="1" stop-color="#4f8fb8"/></linearGradient>
<polygon points="566.7,111.4 543.6,125.5 545.5,128.7 568.7,114.6" fill="url(#g529)"/>
<ellipse cx="567.7" cy="113.0" rx="1.0" ry="1.9" transform="rotate(148.7 567.7 113.0)" fill="#a9d8f0"/>
<linearGradient id="g529h" gradientUnits="userSpaceOnUse" x1="542.8" y1="122.3" x2="548.0" y2="130.9"><stop offset="0" stop-color="#86c0e0"/><stop offset="0.45" stop-color="#6aa8cc"/><stop offset="1" stop-color="#4f8fb8"/></linearGradient>
<polygon points="542.8,122.3 536.0,132.3 548.0,130.9" fill="url(#g529h)"/>
<linearGradient id="g534" gradientUnits="userSpaceOnUse" x1="521.4" y1="122.4" x2="521.4" y2="126.8"><stop offset="0" stop-color="#dddddd"/><stop offset="0.4" stop-color="#ffffff"/><stop offset="1" stop-color="#9a9a9a"/></linearGradient>
<polygon points="521.4,122.4 494.4,122.4 494.4,126.8 521.4,126.8" fill="url(#g534)"/>
<ellipse cx="521.4" cy="124.6" rx="1.0" ry="2.2" transform="rotate(180.0 521.4 124.6)" fill="#ffffff"/>
<linearGradient id="g534h" gradientUnits="userSpaceOnUse" x1="495.4" y1="120.1" x2="495.4" y2="129.1"><stop offset="0" stop-color="#dddddd"/><stop offset="0.45" stop-color="#e8e8e8"/><stop offset="1" stop-color="#9a9a9a"/></linearGradient>
<polygon points="495.4,120.1 483.4,124.6 495.4,129.1" fill="url(#g534h)"/>
<linearGradient id="g539" gradientUnits="userSpaceOnUse" x1="473.8" y1="130.8" x2="471.6" y2="134.0"><stop offset="0" stop-color="#c070c0"/><stop offset="0.4" stop-color="#d98ad8"/><stop offset="1" stop-color="#9a4f9a"/></linearGradient>
<polygon points="473.8,130.8 453.3,117.1 451.1,120.2 471.6,134.0" fill="url(#g539)"/>
<ellipse cx="472.7" cy="132.4" rx="1.0" ry="1.9" transform="rotate(-146.2 472.7 132.4)" fill="#d98ad8"/>
<linearGradient id="g539h" gradientUnits="userSpaceOnUse" x1="456.0" y1="114.9" x2="450.1" y2="123.6"><stop offset="0" stop-color="#c070c0"/><stop offset="0.45" stop-color="#b45cb0"/><stop offset="1" stop-color="#9a4f9a"/></linearGradient>
<polygon points="456.0,114.9 443.9,113.1 450.1,123.6" fill="url(#g539h)"/>
<linearGradient id="g544" gradientUnits="userSpaceOnUse" x1="439.8" y1="111.4" x2="437.2" y2="114.8"><stop offset="0" stop-color="#dddddd"/><stop offset="0.4" stop-color="#ffffff"/><stop offset="1" stop-color="#9a9a9a"/></linearGradient>
<polygon points="439.8,111.4 426.5,101.1 423.9,104.4 437.2,114.8" fill="url(#g544)"/>
<ellipse cx="438.5" cy="113.1" rx="1.0" ry="2.1" transform="rotate(-142.0 438.5 113.1)" fill="#ffffff"/>
<linearGradient id="g544h" gradientUnits="userSpaceOnUse" x1="428.5" y1="100.2" x2="423.5" y2="106.5"><stop offset="0" stop-color="#dddddd"/><stop offset="0.45" stop-color="#e0e0e0"/><stop offset="1" stop-color="#9a9a9a"/></linearGradient>
<polygon points="428.5,100.2 419.3,98.1 423.5,106.5" fill="url(#g544h)"/>
<radialGradient id="rgp" cx="0.4" cy="0.35" r="0.7"><stop offset="0" stop-color="#d080c8"/><stop offset="1" stop-color="#6a2460"/></radialGradient>
<radialGradient id="rgb" cx="0.4" cy="0.35" r="0.7"><stop offset="0" stop-color="#c0e6f6"/><stop offset="1" stop-color="#5ea6cc"/></radialGradient>
<circle cx="597.4" cy="87.9" r="3.9" fill="url(#rgp)"/>
<circle cx="410.3" cy="86.4" r="3.9" fill="url(#rgb)"/>
<text x="484.8" y="74.3" font-size="14" font-weight="bold" fill="#fff" stroke="#fff" stroke-width="0.5" transform="translate(484.8,0) scale(0.8,1) translate(-484.8,0)">S<tspan font-size="9" dy="1.5">1</tspan></text>
<text x="495.9" y="89.5" font-size="12.2" text-anchor="start" stroke="#000" stroke-width="0.25">Γ</text>
<line x1="495.9" y1="79.5" x2="503" y2="79.5" stroke="#000" stroke-width="1.1"/>
<text x="509.2" y="36.6" font-size="11.8" text-anchor="start" stroke="#000" stroke-width="0.3">M</text>
<line x1="509.3" y1="26.3" x2="519.6" y2="26.3" stroke="#000" stroke-width="1.2"/>
<text x="620.6" y="108.6" font-size="12.0" text-anchor="start" stroke="#000" stroke-width="0.3">K</text>
<line x1="620.8" y1="98.3" x2="629" y2="98.3" stroke="#000" stroke-width="1"/>
<line x1="418.8" y1="96" x2="464.6" y2="203.2" stroke="#000" stroke-width="1.4" stroke-dasharray="3.6,2.6"/>
<line x1="588" y1="95.5" x2="545" y2="203.2" stroke="#000" stroke-width="1.4" stroke-dasharray="3.6,2.6"/>
<line x1="429.8" y1="203.2" x2="576" y2="203.2" stroke="#000" stroke-width="1.4" stroke-dasharray="3.6,2.6"/>
<text x="397.6" y="194.9" font-size="12">E<tspan font-size="7" dy="2.2">B</tspan><tspan dy="-2.2">=0.75eV</tspan></text>
<line x1="504" y1="185" x2="504" y2="391.6" stroke="#000" stroke-width="1.4"/>
<path d="M504,179.2 L501,187.4 L504,186 L507,187.4 Z" fill="#000"/>
<text x="514.4" y="189.6" font-size="12.8" text-anchor="start" >E</text>
<line x1="408" y1="391.6" x2="602" y2="391.6" stroke="#000" stroke-width="1.4"/>
<path d="M402.8,391.6 L411.5,387.8 L409.5,391.6 L411.5,395.4 Z M607.8,391.6 L599.1,387.8 L601.1,391.6 L599.1,395.4 Z" fill="#000"/>
<text x="402.4" y="410.3" font-size="12.8" text-anchor="start" >K</text>
<line x1="402.6" y1="399.3" x2="411.3" y2="399.3" stroke="#000" stroke-width="1.1"/>
<text x="501.0" y="410.3" font-size="12.8" text-anchor="start" >Γ</text>
<line x1="501" y1="399.3" x2="508.5" y2="399.3" stroke="#000" stroke-width="1.1"/>
<text x="601.5" y="410.3" font-size="12.8" text-anchor="start" >K</text>
<line x1="601.5" y1="399.3" x2="610.8" y2="399.3" stroke="#000" stroke-width="1.1"/>
<path d="M435.6,218.0C436.8,216.5 440.3,211.3 443.0,209.0C445.7,206.7 448.8,205.0 452.0,204.0C455.2,203.0 459.0,202.4 462.0,203.0C465.0,203.6 467.3,205.0 470.0,207.5C472.7,210.0 475.2,213.9 478.0,218.0C480.8,222.1 484.0,227.3 487.0,232.0C490.0,236.7 493.1,241.9 496.0,246.0C498.9,250.1 501.4,253.0 504.4,256.5C507.4,260.0 510.7,263.2 514.0,267.0C517.3,270.8 520.3,275.0 524.0,279.0C527.7,283.0 531.7,287.3 536.0,291.0C540.3,294.7 545.3,298.2 550.0,301.0C554.7,303.8 561.7,306.4 564.0,307.5" fill="none" stroke="#cc2229" stroke-width="2.5" stroke-linecap="round"/>
<path d="M445.0,308.3C447.2,307.1 453.5,303.9 458.0,301.0C462.5,298.1 467.7,294.7 472.0,291.0C476.3,287.3 480.3,282.8 484.0,279.0C487.7,275.2 490.6,271.8 494.0,268.0C497.4,264.2 501.2,260.2 504.4,256.5C507.6,252.8 510.1,250.1 513.0,246.0C515.9,241.9 519.0,236.7 522.0,232.0C525.0,227.3 528.2,222.1 531.0,218.0C533.8,213.9 536.3,210.0 539.0,207.5C541.7,205.0 544.2,203.6 547.0,203.0C549.8,202.4 553.0,203.0 556.0,204.0C559.0,205.0 562.2,206.7 565.0,209.0C567.8,211.3 571.7,216.5 573.0,218.0" fill="none" stroke="#2b4aa8" stroke-width="2.5" stroke-linecap="round"/>
<path d="M470.1,261.0C471.0,260.9 473.5,260.7 475.2,260.4C476.9,260.1 478.6,259.7 480.3,259.3C482.0,258.9 483.8,258.4 485.4,257.8C487.0,257.2 488.3,256.4 489.8,255.5C491.3,254.7 493.6,253.2 494.3,252.7" fill="none" stroke="#cc2229" stroke-width="2.5" stroke-dasharray="2.1,2.3" stroke-linecap="butt"/>
<path d="M512.7,252.7C513.5,253.1 515.6,254.5 517.2,255.3C518.8,256.2 520.6,257.1 522.3,257.8C524.0,258.5 525.7,259.2 527.3,259.7C528.9,260.2 530.2,260.7 531.8,261.0C533.4,261.3 536.0,261.5 536.9,261.6" fill="none" stroke="#2b4aa8" stroke-width="2.5" stroke-dasharray="2.1,2.3" stroke-linecap="butt"/>
<path d="M504.4,256.5C506.0,258.1 510.7,262.1 514.0,266.0C517.3,269.9 520.7,274.8 524.0,280.0C527.3,285.2 530.8,291.0 534.0,297.0C537.2,303.0 540.2,309.8 543.0,316.0C545.8,322.2 548.7,328.3 551.0,334.0C553.3,339.7 555.2,345.0 557.0,350.0C558.8,355.0 561.2,361.7 562.0,364.0" fill="none" stroke="#cc2229" stroke-width="2.5" stroke-dasharray="2.1,2.3" stroke-linecap="butt"/>
<path d="M444.7,363.8C445.6,361.5 447.9,355.1 450.0,350.0C452.1,344.9 454.3,339.0 457.0,333.0C459.7,327.0 462.8,320.2 466.0,314.0C469.2,307.8 472.8,301.7 476.0,296.0C479.2,290.3 482.0,284.8 485.0,280.0C488.0,275.2 490.8,270.9 494.0,267.0C497.2,263.1 502.7,258.2 504.4,256.5" fill="none" stroke="#2b4aa8" stroke-width="2.5" stroke-dasharray="2.1,2.3" stroke-linecap="butt"/>
<text x="443.2" y="225.8" font-size="12.3">S<tspan font-size="9" dy="2.6">1</tspan></text>
<text x="455.6" y="265.2" font-size="12.3">S<tspan font-size="9" dy="2.6">2</tspan></text>
</g>
</svg></body></html>
